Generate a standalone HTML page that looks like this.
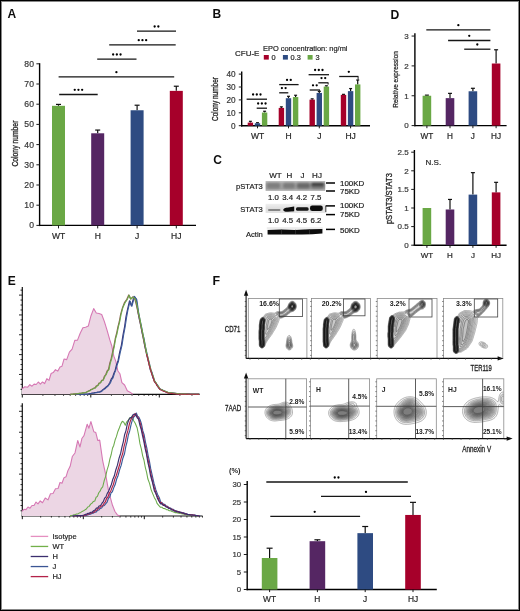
<!DOCTYPE html>
<html><head><meta charset="utf-8"><style>
html,body{margin:0;padding:0;background:#fff;}
.fig{position:relative;width:520px;height:611px;overflow:hidden;}
svg{display:block;}
svg text{font-family:"Liberation Sans", sans-serif;}
</style></head><body><div class="fig">
<svg width="520" height="611" viewBox="0 0 520 611">
<defs><filter id="gblur" x="0" y="0" width="100%" height="100%"><feGaussianBlur stdDeviation="0.32"/></filter></defs>
<rect x="0" y="0" width="520" height="611" fill="#fff"/>
<g filter="url(#gblur)">
<rect x="0" y="0" width="520" height="611" fill="#fff"/>
<text x="7.40" y="17.60" font-size="12" font-weight="bold" fill="#111" >A</text>
<line x1="39.60" y1="63.20" x2="39.60" y2="226.10" stroke="#000" stroke-width="1.4"/>
<line x1="38.90" y1="225.40" x2="196.00" y2="225.40" stroke="#000" stroke-width="1.4"/>
<line x1="36.40" y1="225.40" x2="39.60" y2="225.40" stroke="#1a1a1a" stroke-width="1"/>
<text x="34.50" y="228.40" font-size="8.6" text-anchor="end" fill="#383838" stroke="#383838" stroke-width="0.2" letter-spacing="0.35">0</text>
<line x1="36.40" y1="205.20" x2="39.60" y2="205.20" stroke="#1a1a1a" stroke-width="1"/>
<text x="34.50" y="208.20" font-size="8.6" text-anchor="end" fill="#383838" stroke="#383838" stroke-width="0.2" letter-spacing="0.35">10</text>
<line x1="36.40" y1="185.00" x2="39.60" y2="185.00" stroke="#1a1a1a" stroke-width="1"/>
<text x="34.50" y="188.00" font-size="8.6" text-anchor="end" fill="#383838" stroke="#383838" stroke-width="0.2" letter-spacing="0.35">20</text>
<line x1="36.40" y1="164.80" x2="39.60" y2="164.80" stroke="#1a1a1a" stroke-width="1"/>
<text x="34.50" y="167.80" font-size="8.6" text-anchor="end" fill="#383838" stroke="#383838" stroke-width="0.2" letter-spacing="0.35">30</text>
<line x1="36.40" y1="144.60" x2="39.60" y2="144.60" stroke="#1a1a1a" stroke-width="1"/>
<text x="34.50" y="147.60" font-size="8.6" text-anchor="end" fill="#383838" stroke="#383838" stroke-width="0.2" letter-spacing="0.35">40</text>
<line x1="36.40" y1="124.40" x2="39.60" y2="124.40" stroke="#1a1a1a" stroke-width="1"/>
<text x="34.50" y="127.40" font-size="8.6" text-anchor="end" fill="#383838" stroke="#383838" stroke-width="0.2" letter-spacing="0.35">50</text>
<line x1="36.40" y1="104.20" x2="39.60" y2="104.20" stroke="#1a1a1a" stroke-width="1"/>
<text x="34.50" y="107.20" font-size="8.6" text-anchor="end" fill="#383838" stroke="#383838" stroke-width="0.2" letter-spacing="0.35">60</text>
<line x1="36.40" y1="84.00" x2="39.60" y2="84.00" stroke="#1a1a1a" stroke-width="1"/>
<text x="34.50" y="87.00" font-size="8.6" text-anchor="end" fill="#383838" stroke="#383838" stroke-width="0.2" letter-spacing="0.35">70</text>
<line x1="36.40" y1="63.80" x2="39.60" y2="63.80" stroke="#1a1a1a" stroke-width="1"/>
<text x="34.50" y="66.80" font-size="8.6" text-anchor="end" fill="#383838" stroke="#383838" stroke-width="0.2" letter-spacing="0.35">80</text>
<line x1="58.50" y1="105.82" x2="58.50" y2="104.40" stroke="#111" stroke-width="1.2"/>
<line x1="56.00" y1="104.40" x2="61.00" y2="104.40" stroke="#111" stroke-width="1.2"/>
<rect x="52.00" y="105.82" width="13.00" height="119.58" fill="#6aa845" />
<line x1="58.50" y1="225.40" x2="58.50" y2="228.40" stroke="#1a1a1a" stroke-width="1"/>
<line x1="97.70" y1="133.29" x2="97.70" y2="130.06" stroke="#111" stroke-width="1.2"/>
<line x1="95.20" y1="130.06" x2="100.20" y2="130.06" stroke="#111" stroke-width="1.2"/>
<rect x="91.20" y="133.29" width="13.00" height="92.11" fill="#542664" />
<line x1="97.70" y1="225.40" x2="97.70" y2="228.40" stroke="#1a1a1a" stroke-width="1"/>
<line x1="137.10" y1="110.26" x2="137.10" y2="105.21" stroke="#111" stroke-width="1.2"/>
<line x1="134.60" y1="105.21" x2="139.60" y2="105.21" stroke="#111" stroke-width="1.2"/>
<rect x="130.60" y="110.26" width="13.00" height="115.14" fill="#2d4c82" />
<line x1="137.10" y1="225.40" x2="137.10" y2="228.40" stroke="#1a1a1a" stroke-width="1"/>
<line x1="176.30" y1="90.87" x2="176.30" y2="86.22" stroke="#111" stroke-width="1.2"/>
<line x1="173.80" y1="86.22" x2="178.80" y2="86.22" stroke="#111" stroke-width="1.2"/>
<rect x="169.80" y="90.87" width="13.00" height="134.53" fill="#a6022a" />
<line x1="176.30" y1="225.40" x2="176.30" y2="228.40" stroke="#1a1a1a" stroke-width="1"/>
<text x="58.50" y="239.00" font-size="8.5" text-anchor="middle" fill="#262626" stroke="#262626" stroke-width="0.2" >WT</text>
<text x="97.70" y="239.00" font-size="8.5" text-anchor="middle" fill="#262626" stroke="#262626" stroke-width="0.2" >H</text>
<text x="137.10" y="239.00" font-size="8.5" text-anchor="middle" fill="#262626" stroke="#262626" stroke-width="0.2" >J</text>
<text x="176.30" y="239.00" font-size="8.5" text-anchor="middle" fill="#262626" stroke="#262626" stroke-width="0.2" >HJ</text>
<text x="17.60" y="143.60" font-size="8.8" text-anchor="middle" textLength="46" lengthAdjust="spacingAndGlyphs" transform="rotate(-90 17.60 143.60)" fill="#262626" stroke="#262626" stroke-width="0.3" >Colony number</text>
<line x1="137.00" y1="31.20" x2="176.00" y2="31.20" stroke="#151515" stroke-width="1.3"/>
<circle cx="154.65" cy="26.50" r="1.15" fill="#000"/>
<circle cx="158.35" cy="26.50" r="1.15" fill="#000"/>
<line x1="109.20" y1="44.90" x2="175.70" y2="44.90" stroke="#151515" stroke-width="1.3"/>
<circle cx="138.75" cy="40.20" r="1.15" fill="#000"/>
<circle cx="142.45" cy="40.20" r="1.15" fill="#000"/>
<circle cx="146.15" cy="40.20" r="1.15" fill="#000"/>
<line x1="97.20" y1="59.20" x2="136.50" y2="59.20" stroke="#151515" stroke-width="1.3"/>
<circle cx="113.15" cy="54.50" r="1.15" fill="#000"/>
<circle cx="116.85" cy="54.50" r="1.15" fill="#000"/>
<circle cx="120.55" cy="54.50" r="1.15" fill="#000"/>
<line x1="58.60" y1="76.90" x2="174.20" y2="76.90" stroke="#151515" stroke-width="1.3"/>
<circle cx="116.40" cy="72.20" r="1.15" fill="#000"/>
<line x1="59.20" y1="94.50" x2="97.70" y2="94.50" stroke="#151515" stroke-width="1.3"/>
<circle cx="74.75" cy="89.80" r="1.15" fill="#000"/>
<circle cx="78.45" cy="89.80" r="1.15" fill="#000"/>
<circle cx="82.15" cy="89.80" r="1.15" fill="#000"/>
<text x="212.40" y="17.70" font-size="12" font-weight="bold" fill="#111" >B</text>
<text x="235.00" y="55.60" font-size="8.0" fill="#262626" stroke="#262626" stroke-width="0.2" >CFU-E</text>
<text x="263.00" y="50.80" font-size="7.4" textLength="84.5" lengthAdjust="spacingAndGlyphs" fill="#262626" stroke="#262626" stroke-width="0.2" >EPO concentration: ng/ml</text>
<rect x="263.80" y="55.00" width="5.00" height="4.60" fill="#a6022a" />
<text x="271.60" y="59.60" font-size="7.4" fill="#262626" stroke="#262626" stroke-width="0.2" >0</text>
<rect x="282.90" y="55.00" width="5.00" height="4.60" fill="#2d4c82" />
<text x="290.60" y="59.60" font-size="7.4" fill="#262626" stroke="#262626" stroke-width="0.2" >0.3</text>
<rect x="307.60" y="55.00" width="5.00" height="4.60" fill="#6aa845" />
<text x="315.60" y="59.60" font-size="7.4" fill="#262626" stroke="#262626" stroke-width="0.2" >3</text>
<line x1="241.70" y1="71.50" x2="241.70" y2="126.40" stroke="#000" stroke-width="1.4"/>
<line x1="241.00" y1="125.70" x2="370.00" y2="125.70" stroke="#000" stroke-width="1.4"/>
<line x1="238.80" y1="125.70" x2="241.70" y2="125.70" stroke="#1a1a1a" stroke-width="1"/>
<text x="235.60" y="128.60" font-size="8.2" text-anchor="end" fill="#383838" stroke="#383838" stroke-width="0.2" >0</text>
<line x1="238.80" y1="112.80" x2="241.70" y2="112.80" stroke="#1a1a1a" stroke-width="1"/>
<text x="235.60" y="115.70" font-size="8.2" text-anchor="end" fill="#383838" stroke="#383838" stroke-width="0.2" >10</text>
<line x1="238.80" y1="99.90" x2="241.70" y2="99.90" stroke="#1a1a1a" stroke-width="1"/>
<text x="235.60" y="102.80" font-size="8.2" text-anchor="end" fill="#383838" stroke="#383838" stroke-width="0.2" >20</text>
<line x1="238.80" y1="87.00" x2="241.70" y2="87.00" stroke="#1a1a1a" stroke-width="1"/>
<text x="235.60" y="89.90" font-size="8.2" text-anchor="end" fill="#383838" stroke="#383838" stroke-width="0.2" >30</text>
<line x1="238.80" y1="74.10" x2="241.70" y2="74.10" stroke="#1a1a1a" stroke-width="1"/>
<text x="235.60" y="77.00" font-size="8.2" text-anchor="end" fill="#383838" stroke="#383838" stroke-width="0.2" >40</text>
<text x="218.00" y="99.00" font-size="8.4" text-anchor="middle" textLength="44" lengthAdjust="spacingAndGlyphs" transform="rotate(-90 218.00 99.00)" fill="#262626" stroke="#262626" stroke-width="0.3" >Colony number</text>
<line x1="250.40" y1="122.60" x2="250.40" y2="121.31" stroke="#111" stroke-width="1.2"/>
<line x1="248.90" y1="121.31" x2="251.90" y2="121.31" stroke="#111" stroke-width="1.2"/>
<rect x="247.70" y="122.60" width="5.40" height="3.10" fill="#a6022a" />
<line x1="257.50" y1="123.25" x2="257.50" y2="122.73" stroke="#111" stroke-width="1.2"/>
<line x1="256.00" y1="122.73" x2="259.00" y2="122.73" stroke="#111" stroke-width="1.2"/>
<rect x="254.80" y="123.25" width="5.40" height="2.45" fill="#2d4c82" />
<line x1="264.60" y1="112.54" x2="264.60" y2="111.25" stroke="#111" stroke-width="1.2"/>
<line x1="263.10" y1="111.25" x2="266.10" y2="111.25" stroke="#111" stroke-width="1.2"/>
<rect x="261.90" y="112.54" width="5.40" height="13.16" fill="#6aa845" />
<line x1="257.50" y1="125.70" x2="257.50" y2="128.30" stroke="#1a1a1a" stroke-width="1"/>
<text x="257.50" y="138.70" font-size="8.5" text-anchor="middle" fill="#262626" stroke="#262626" stroke-width="0.2" >WT</text>
<line x1="281.40" y1="107.90" x2="281.40" y2="106.87" stroke="#111" stroke-width="1.2"/>
<line x1="279.90" y1="106.87" x2="282.90" y2="106.87" stroke="#111" stroke-width="1.2"/>
<rect x="278.70" y="107.90" width="5.40" height="17.80" fill="#a6022a" />
<line x1="288.50" y1="98.22" x2="288.50" y2="96.29" stroke="#111" stroke-width="1.2"/>
<line x1="287.00" y1="96.29" x2="290.00" y2="96.29" stroke="#111" stroke-width="1.2"/>
<rect x="285.80" y="98.22" width="5.40" height="27.48" fill="#2d4c82" />
<line x1="295.60" y1="97.06" x2="295.60" y2="95.26" stroke="#111" stroke-width="1.2"/>
<line x1="294.10" y1="95.26" x2="297.10" y2="95.26" stroke="#111" stroke-width="1.2"/>
<rect x="292.90" y="97.06" width="5.40" height="28.64" fill="#6aa845" />
<line x1="288.50" y1="125.70" x2="288.50" y2="128.30" stroke="#1a1a1a" stroke-width="1"/>
<text x="288.50" y="138.70" font-size="8.5" text-anchor="middle" fill="#262626" stroke="#262626" stroke-width="0.2" >H</text>
<line x1="312.20" y1="99.64" x2="312.20" y2="98.87" stroke="#111" stroke-width="1.2"/>
<line x1="310.70" y1="98.87" x2="313.70" y2="98.87" stroke="#111" stroke-width="1.2"/>
<rect x="309.50" y="99.64" width="5.40" height="26.06" fill="#a6022a" />
<line x1="319.30" y1="92.93" x2="319.30" y2="91.39" stroke="#111" stroke-width="1.2"/>
<line x1="317.80" y1="91.39" x2="320.80" y2="91.39" stroke="#111" stroke-width="1.2"/>
<rect x="316.60" y="92.93" width="5.40" height="32.77" fill="#2d4c82" />
<line x1="326.40" y1="86.61" x2="326.40" y2="85.84" stroke="#111" stroke-width="1.2"/>
<line x1="324.90" y1="85.84" x2="327.90" y2="85.84" stroke="#111" stroke-width="1.2"/>
<rect x="323.70" y="86.61" width="5.40" height="39.09" fill="#6aa845" />
<line x1="319.30" y1="125.70" x2="319.30" y2="128.30" stroke="#1a1a1a" stroke-width="1"/>
<text x="319.30" y="138.70" font-size="8.5" text-anchor="middle" fill="#262626" stroke="#262626" stroke-width="0.2" >J</text>
<line x1="343.50" y1="94.87" x2="343.50" y2="94.35" stroke="#111" stroke-width="1.2"/>
<line x1="342.00" y1="94.35" x2="345.00" y2="94.35" stroke="#111" stroke-width="1.2"/>
<rect x="340.80" y="94.87" width="5.40" height="30.83" fill="#a6022a" />
<line x1="350.60" y1="91.13" x2="350.60" y2="88.55" stroke="#111" stroke-width="1.2"/>
<line x1="349.10" y1="88.55" x2="352.10" y2="88.55" stroke="#111" stroke-width="1.2"/>
<rect x="347.90" y="91.13" width="5.40" height="34.57" fill="#2d4c82" />
<line x1="357.70" y1="84.42" x2="357.70" y2="80.03" stroke="#111" stroke-width="1.2"/>
<line x1="356.20" y1="80.03" x2="359.20" y2="80.03" stroke="#111" stroke-width="1.2"/>
<rect x="355.00" y="84.42" width="5.40" height="41.28" fill="#6aa845" />
<line x1="350.60" y1="125.70" x2="350.60" y2="128.30" stroke="#1a1a1a" stroke-width="1"/>
<text x="350.60" y="138.70" font-size="8.5" text-anchor="middle" fill="#262626" stroke="#262626" stroke-width="0.2" >HJ</text>
<line x1="246.60" y1="99.20" x2="267.00" y2="99.20" stroke="#151515" stroke-width="1.3"/>
<circle cx="253.10" cy="94.50" r="1.15" fill="#000"/>
<circle cx="256.80" cy="94.50" r="1.15" fill="#000"/>
<circle cx="260.50" cy="94.50" r="1.15" fill="#000"/>
<line x1="256.70" y1="108.20" x2="267.00" y2="108.20" stroke="#151515" stroke-width="1.3"/>
<circle cx="258.15" cy="103.50" r="1.15" fill="#000"/>
<circle cx="261.85" cy="103.50" r="1.15" fill="#000"/>
<circle cx="265.55" cy="103.50" r="1.15" fill="#000"/>
<line x1="279.20" y1="84.60" x2="298.60" y2="84.60" stroke="#151515" stroke-width="1.3"/>
<circle cx="287.05" cy="79.90" r="1.15" fill="#000"/>
<circle cx="290.75" cy="79.90" r="1.15" fill="#000"/>
<line x1="279.20" y1="92.80" x2="288.30" y2="92.80" stroke="#151515" stroke-width="1.3"/>
<circle cx="281.90" cy="88.10" r="1.15" fill="#000"/>
<circle cx="285.60" cy="88.10" r="1.15" fill="#000"/>
<line x1="308.60" y1="74.70" x2="329.00" y2="74.70" stroke="#151515" stroke-width="1.3"/>
<circle cx="315.10" cy="70.00" r="1.15" fill="#000"/>
<circle cx="318.80" cy="70.00" r="1.15" fill="#000"/>
<circle cx="322.50" cy="70.00" r="1.15" fill="#000"/>
<line x1="318.30" y1="82.80" x2="328.40" y2="82.80" stroke="#151515" stroke-width="1.3"/>
<line x1="328.10" y1="82.80" x2="328.10" y2="84.60" stroke="#222" stroke-width="1.0"/>
<circle cx="321.50" cy="78.10" r="1.15" fill="#000"/>
<circle cx="325.20" cy="78.10" r="1.15" fill="#000"/>
<line x1="309.70" y1="90.00" x2="320.00" y2="90.00" stroke="#151515" stroke-width="1.3"/>
<line x1="319.70" y1="90.00" x2="319.70" y2="91.80" stroke="#222" stroke-width="1.0"/>
<circle cx="313.00" cy="85.30" r="1.15" fill="#000"/>
<circle cx="316.70" cy="85.30" r="1.15" fill="#000"/>
<line x1="339.20" y1="76.50" x2="358.40" y2="76.50" stroke="#151515" stroke-width="1.3"/>
<line x1="358.10" y1="76.50" x2="358.10" y2="79.70" stroke="#222" stroke-width="1.0"/>
<circle cx="348.80" cy="71.80" r="1.15" fill="#000"/>
<text x="390.40" y="19.00" font-size="12" font-weight="bold" textLength="8.8" lengthAdjust="spacingAndGlyphs" fill="#111" >D</text>
<line x1="414.90" y1="33.20" x2="414.90" y2="126.30" stroke="#000" stroke-width="1.4"/>
<line x1="414.20" y1="125.60" x2="506.60" y2="125.60" stroke="#000" stroke-width="1.4"/>
<line x1="411.60" y1="125.60" x2="414.90" y2="125.60" stroke="#1a1a1a" stroke-width="1"/>
<text x="408.80" y="128.40" font-size="8" text-anchor="end" fill="#383838" stroke="#383838" stroke-width="0.2" >0</text>
<line x1="411.60" y1="95.75" x2="414.90" y2="95.75" stroke="#1a1a1a" stroke-width="1"/>
<text x="408.80" y="98.55" font-size="8" text-anchor="end" fill="#383838" stroke="#383838" stroke-width="0.2" >1</text>
<line x1="411.60" y1="65.90" x2="414.90" y2="65.90" stroke="#1a1a1a" stroke-width="1"/>
<text x="408.80" y="68.70" font-size="8" text-anchor="end" fill="#383838" stroke="#383838" stroke-width="0.2" >2</text>
<line x1="411.60" y1="36.05" x2="414.90" y2="36.05" stroke="#1a1a1a" stroke-width="1"/>
<text x="408.80" y="38.85" font-size="8" text-anchor="end" fill="#383838" stroke="#383838" stroke-width="0.2" >3</text>
<text x="397.60" y="79.40" font-size="7.8" text-anchor="middle" textLength="56.5" lengthAdjust="spacingAndGlyphs" transform="rotate(-90 397.60 79.40)" fill="#262626" stroke="#262626" stroke-width="0.25" >Relative expression</text>
<line x1="426.90" y1="95.75" x2="426.90" y2="95.15" stroke="#111" stroke-width="1.2"/>
<line x1="424.90" y1="95.15" x2="428.90" y2="95.15" stroke="#111" stroke-width="1.2"/>
<rect x="422.60" y="95.75" width="8.60" height="29.85" fill="#6aa845" />
<line x1="426.90" y1="125.60" x2="426.90" y2="128.20" stroke="#1a1a1a" stroke-width="1"/>
<line x1="450.00" y1="98.14" x2="450.00" y2="93.36" stroke="#111" stroke-width="1.2"/>
<line x1="448.00" y1="93.36" x2="452.00" y2="93.36" stroke="#111" stroke-width="1.2"/>
<rect x="445.70" y="98.14" width="8.60" height="27.46" fill="#542664" />
<line x1="450.00" y1="125.60" x2="450.00" y2="128.20" stroke="#1a1a1a" stroke-width="1"/>
<line x1="472.90" y1="91.27" x2="472.90" y2="88.29" stroke="#111" stroke-width="1.2"/>
<line x1="470.90" y1="88.29" x2="474.90" y2="88.29" stroke="#111" stroke-width="1.2"/>
<rect x="468.60" y="91.27" width="8.60" height="34.33" fill="#2d4c82" />
<line x1="472.90" y1="125.60" x2="472.90" y2="128.20" stroke="#1a1a1a" stroke-width="1"/>
<line x1="496.10" y1="63.51" x2="496.10" y2="49.78" stroke="#111" stroke-width="1.2"/>
<line x1="494.10" y1="49.78" x2="498.10" y2="49.78" stroke="#111" stroke-width="1.2"/>
<rect x="491.80" y="63.51" width="8.60" height="62.09" fill="#a6022a" />
<line x1="496.10" y1="125.60" x2="496.10" y2="128.20" stroke="#1a1a1a" stroke-width="1"/>
<text x="426.90" y="138.60" font-size="8.2" text-anchor="middle" fill="#262626" stroke="#262626" stroke-width="0.2" >WT</text>
<text x="450.00" y="138.60" font-size="8.2" text-anchor="middle" fill="#262626" stroke="#262626" stroke-width="0.2" >H</text>
<text x="472.90" y="138.60" font-size="8.2" text-anchor="middle" fill="#262626" stroke="#262626" stroke-width="0.2" >J</text>
<text x="496.10" y="138.60" font-size="8.2" text-anchor="middle" fill="#262626" stroke="#262626" stroke-width="0.2" >HJ</text>
<line x1="426.30" y1="29.90" x2="490.40" y2="29.90" stroke="#151515" stroke-width="1.3"/>
<circle cx="458.35" cy="25.20" r="1.15" fill="#000"/>
<line x1="448.10" y1="40.50" x2="490.40" y2="40.50" stroke="#151515" stroke-width="1.3"/>
<circle cx="469.25" cy="35.80" r="1.15" fill="#000"/>
<line x1="464.20" y1="49.20" x2="490.40" y2="49.20" stroke="#151515" stroke-width="1.3"/>
<circle cx="477.30" cy="44.50" r="1.15" fill="#000"/>
<line x1="414.40" y1="150.00" x2="414.40" y2="245.90" stroke="#000" stroke-width="1.4"/>
<line x1="413.70" y1="245.20" x2="506.60" y2="245.20" stroke="#000" stroke-width="1.4"/>
<line x1="411.20" y1="245.20" x2="414.40" y2="245.20" stroke="#1a1a1a" stroke-width="1"/>
<text x="408.60" y="248.00" font-size="8" text-anchor="end" fill="#383838" stroke="#383838" stroke-width="0.2" >0</text>
<line x1="411.20" y1="226.60" x2="414.40" y2="226.60" stroke="#1a1a1a" stroke-width="1"/>
<text x="408.60" y="229.40" font-size="8" text-anchor="end" fill="#383838" stroke="#383838" stroke-width="0.2" >0.5</text>
<line x1="411.20" y1="208.00" x2="414.40" y2="208.00" stroke="#1a1a1a" stroke-width="1"/>
<text x="408.60" y="210.80" font-size="8" text-anchor="end" fill="#383838" stroke="#383838" stroke-width="0.2" >1</text>
<line x1="411.20" y1="189.40" x2="414.40" y2="189.40" stroke="#1a1a1a" stroke-width="1"/>
<text x="408.60" y="192.20" font-size="8" text-anchor="end" fill="#383838" stroke="#383838" stroke-width="0.2" >1.5</text>
<line x1="411.20" y1="170.80" x2="414.40" y2="170.80" stroke="#1a1a1a" stroke-width="1"/>
<text x="408.60" y="173.60" font-size="8" text-anchor="end" fill="#383838" stroke="#383838" stroke-width="0.2" >2</text>
<line x1="411.20" y1="152.20" x2="414.40" y2="152.20" stroke="#1a1a1a" stroke-width="1"/>
<text x="408.60" y="155.00" font-size="8" text-anchor="end" fill="#383838" stroke="#383838" stroke-width="0.2" >2.5</text>
<text x="392.00" y="198.60" font-size="8.2" text-anchor="middle" textLength="51" lengthAdjust="spacingAndGlyphs" transform="rotate(-90 392.00 198.60)" fill="#262626" stroke="#262626" stroke-width="0.3" >pSTAT3/STAT3</text>
<text x="425.60" y="165.20" font-size="8" fill="#262626" stroke="#262626" stroke-width="0.2" >N.S.</text>
<rect x="422.60" y="208.00" width="8.60" height="37.20" fill="#6aa845" />
<line x1="426.90" y1="245.20" x2="426.90" y2="247.80" stroke="#1a1a1a" stroke-width="1"/>
<line x1="450.00" y1="209.49" x2="450.00" y2="199.44" stroke="#111" stroke-width="1.2"/>
<line x1="448.00" y1="199.44" x2="452.00" y2="199.44" stroke="#111" stroke-width="1.2"/>
<rect x="445.70" y="209.49" width="8.60" height="35.71" fill="#542664" />
<line x1="450.00" y1="245.20" x2="450.00" y2="247.80" stroke="#1a1a1a" stroke-width="1"/>
<line x1="472.90" y1="194.61" x2="472.90" y2="172.66" stroke="#111" stroke-width="1.2"/>
<line x1="470.90" y1="172.66" x2="474.90" y2="172.66" stroke="#111" stroke-width="1.2"/>
<rect x="468.60" y="194.61" width="8.60" height="50.59" fill="#2d4c82" />
<line x1="472.90" y1="245.20" x2="472.90" y2="247.80" stroke="#1a1a1a" stroke-width="1"/>
<line x1="496.10" y1="192.38" x2="496.10" y2="182.33" stroke="#111" stroke-width="1.2"/>
<line x1="494.10" y1="182.33" x2="498.10" y2="182.33" stroke="#111" stroke-width="1.2"/>
<rect x="491.80" y="192.38" width="8.60" height="52.82" fill="#a6022a" />
<line x1="496.10" y1="245.20" x2="496.10" y2="247.80" stroke="#1a1a1a" stroke-width="1"/>
<text x="426.90" y="258.00" font-size="8" text-anchor="middle" fill="#262626" stroke="#262626" stroke-width="0.2" >WT</text>
<text x="450.00" y="258.00" font-size="8" text-anchor="middle" fill="#262626" stroke="#262626" stroke-width="0.2" >H</text>
<text x="472.90" y="258.00" font-size="8" text-anchor="middle" fill="#262626" stroke="#262626" stroke-width="0.2" >J</text>
<text x="496.10" y="258.00" font-size="8" text-anchor="middle" fill="#262626" stroke="#262626" stroke-width="0.2" >HJ</text>
<line x1="247.20" y1="481.00" x2="247.20" y2="590.20" stroke="#000" stroke-width="1.4"/>
<line x1="246.50" y1="589.50" x2="436.80" y2="589.50" stroke="#000" stroke-width="1.4"/>
<line x1="243.80" y1="589.50" x2="247.20" y2="589.50" stroke="#1a1a1a" stroke-width="1"/>
<text x="241.20" y="592.30" font-size="7.8" text-anchor="end" fill="#383838" stroke="#383838" stroke-width="0.2" >0</text>
<line x1="243.80" y1="572.00" x2="247.20" y2="572.00" stroke="#1a1a1a" stroke-width="1"/>
<text x="241.20" y="574.80" font-size="7.8" text-anchor="end" fill="#383838" stroke="#383838" stroke-width="0.2" >5</text>
<line x1="243.80" y1="554.50" x2="247.20" y2="554.50" stroke="#1a1a1a" stroke-width="1"/>
<text x="241.20" y="557.30" font-size="7.8" text-anchor="end" fill="#383838" stroke="#383838" stroke-width="0.2" >10</text>
<line x1="243.80" y1="537.00" x2="247.20" y2="537.00" stroke="#1a1a1a" stroke-width="1"/>
<text x="241.20" y="539.80" font-size="7.8" text-anchor="end" fill="#383838" stroke="#383838" stroke-width="0.2" >15</text>
<line x1="243.80" y1="519.50" x2="247.20" y2="519.50" stroke="#1a1a1a" stroke-width="1"/>
<text x="241.20" y="522.30" font-size="7.8" text-anchor="end" fill="#383838" stroke="#383838" stroke-width="0.2" >20</text>
<line x1="243.80" y1="502.00" x2="247.20" y2="502.00" stroke="#1a1a1a" stroke-width="1"/>
<text x="241.20" y="504.80" font-size="7.8" text-anchor="end" fill="#383838" stroke="#383838" stroke-width="0.2" >25</text>
<line x1="243.80" y1="484.50" x2="247.20" y2="484.50" stroke="#1a1a1a" stroke-width="1"/>
<text x="241.20" y="487.30" font-size="7.8" text-anchor="end" fill="#383838" stroke="#383838" stroke-width="0.2" >30</text>
<text x="229.00" y="473.40" font-size="7.4" font-weight="bold" fill="#262626" >(%)</text>
<line x1="269.60" y1="558.00" x2="269.60" y2="548.20" stroke="#111" stroke-width="1.2"/>
<line x1="266.60" y1="548.20" x2="272.60" y2="548.20" stroke="#111" stroke-width="1.2"/>
<rect x="261.80" y="558.00" width="15.60" height="31.50" fill="#6aa845" />
<line x1="269.60" y1="589.50" x2="269.60" y2="592.10" stroke="#1a1a1a" stroke-width="1"/>
<line x1="317.40" y1="541.20" x2="317.40" y2="539.80" stroke="#111" stroke-width="1.2"/>
<line x1="314.40" y1="539.80" x2="320.40" y2="539.80" stroke="#111" stroke-width="1.2"/>
<rect x="309.60" y="541.20" width="15.60" height="48.30" fill="#542664" />
<line x1="317.40" y1="589.50" x2="317.40" y2="592.10" stroke="#1a1a1a" stroke-width="1"/>
<line x1="365.20" y1="533.15" x2="365.20" y2="526.50" stroke="#111" stroke-width="1.2"/>
<line x1="362.20" y1="526.50" x2="368.20" y2="526.50" stroke="#111" stroke-width="1.2"/>
<rect x="357.40" y="533.15" width="15.60" height="56.35" fill="#2d4c82" />
<line x1="365.20" y1="589.50" x2="365.20" y2="592.10" stroke="#1a1a1a" stroke-width="1"/>
<line x1="413.00" y1="514.95" x2="413.00" y2="502.35" stroke="#111" stroke-width="1.2"/>
<line x1="410.00" y1="502.35" x2="416.00" y2="502.35" stroke="#111" stroke-width="1.2"/>
<rect x="405.20" y="514.95" width="15.60" height="74.55" fill="#a6022a" />
<line x1="413.00" y1="589.50" x2="413.00" y2="592.10" stroke="#1a1a1a" stroke-width="1"/>
<text x="269.60" y="602.00" font-size="8.4" text-anchor="middle" fill="#262626" stroke="#262626" stroke-width="0.2" >WT</text>
<text x="317.40" y="602.00" font-size="8.4" text-anchor="middle" fill="#262626" stroke="#262626" stroke-width="0.2" >H</text>
<text x="365.20" y="602.00" font-size="8.4" text-anchor="middle" fill="#262626" stroke="#262626" stroke-width="0.2" >J</text>
<text x="413.00" y="602.00" font-size="8.4" text-anchor="middle" fill="#262626" stroke="#262626" stroke-width="0.2" >HJ</text>
<line x1="266.30" y1="482.00" x2="407.80" y2="482.00" stroke="#151515" stroke-width="1.3"/>
<circle cx="334.75" cy="477.50" r="1.15" fill="#000"/>
<circle cx="338.45" cy="477.50" r="1.15" fill="#000"/>
<line x1="321.00" y1="496.40" x2="411.00" y2="496.40" stroke="#151515" stroke-width="1.3"/>
<circle cx="366.00" cy="491.90" r="1.15" fill="#000"/>
<line x1="270.30" y1="516.30" x2="360.10" y2="516.30" stroke="#151515" stroke-width="1.3"/>
<circle cx="314.70" cy="511.80" r="1.15" fill="#000"/>
<text x="7.80" y="284.60" font-size="12" font-weight="bold" fill="#111" >E</text>
<line x1="30.70" y1="536.40" x2="48.20" y2="536.40" stroke="#e58fc0" stroke-width="1.3"/>
<text x="52.40" y="539.10" font-size="7.5" fill="#262626" stroke="#262626" stroke-width="0.2" >Isotype</text>
<line x1="30.70" y1="546.45" x2="48.20" y2="546.45" stroke="#72b04a" stroke-width="1.3"/>
<text x="52.40" y="549.15" font-size="7.5" fill="#262626" stroke="#262626" stroke-width="0.2" >WT</text>
<line x1="30.70" y1="556.50" x2="48.20" y2="556.50" stroke="#3a2f6e" stroke-width="1.3"/>
<text x="52.40" y="559.20" font-size="7.5" fill="#262626" stroke="#262626" stroke-width="0.2" >H</text>
<line x1="30.70" y1="566.55" x2="48.20" y2="566.55" stroke="#3b5594" stroke-width="1.3"/>
<text x="52.40" y="569.25" font-size="7.5" fill="#262626" stroke="#262626" stroke-width="0.2" >J</text>
<line x1="30.70" y1="576.60" x2="48.20" y2="576.60" stroke="#b32448" stroke-width="1.3"/>
<text x="52.40" y="579.30" font-size="7.5" fill="#262626" stroke="#262626" stroke-width="0.2" >HJ</text>
<text x="212.40" y="284.80" font-size="12" font-weight="bold" textLength="7.6" lengthAdjust="spacingAndGlyphs" fill="#111" >F</text>
<text x="213.20" y="164.20" font-size="12" font-weight="bold" fill="#111" >C</text>
<text x="275.50" y="178.40" font-size="8" text-anchor="middle" fill="#222" stroke="#222" stroke-width="0.2" >WT</text>
<text x="289.40" y="178.40" font-size="8" text-anchor="middle" fill="#222" stroke="#222" stroke-width="0.2" >H</text>
<text x="302.60" y="178.40" font-size="8" text-anchor="middle" fill="#222" stroke="#222" stroke-width="0.2" >J</text>
<text x="317.00" y="178.40" font-size="8" text-anchor="middle" fill="#222" stroke="#222" stroke-width="0.2" >HJ</text>
<text x="262.80" y="188.60" font-size="7.6" text-anchor="end" fill="#222" stroke="#222" stroke-width="0.2" >pSTAT3</text>
<text x="262.80" y="211.90" font-size="7.6" text-anchor="end" fill="#222" stroke="#222" stroke-width="0.2" >STAT3</text>
<text x="262.80" y="236.60" font-size="7.6" text-anchor="end" fill="#222" stroke="#222" stroke-width="0.2" >Actin</text>
<text x="273.30" y="199.90" font-size="7.8" text-anchor="middle" fill="#222" stroke="#222" stroke-width="0.2" >1.0</text>
<text x="287.70" y="199.90" font-size="7.8" text-anchor="middle" fill="#222" stroke="#222" stroke-width="0.2" >3.4</text>
<text x="301.70" y="199.90" font-size="7.8" text-anchor="middle" fill="#222" stroke="#222" stroke-width="0.2" >4.2</text>
<text x="316.00" y="199.90" font-size="7.8" text-anchor="middle" fill="#222" stroke="#222" stroke-width="0.2" >7.5</text>
<text x="273.30" y="222.60" font-size="7.8" text-anchor="middle" fill="#222" stroke="#222" stroke-width="0.2" >1.0</text>
<text x="287.70" y="222.60" font-size="7.8" text-anchor="middle" fill="#222" stroke="#222" stroke-width="0.2" >4.5</text>
<text x="301.70" y="222.60" font-size="7.8" text-anchor="middle" fill="#222" stroke="#222" stroke-width="0.2" >4.5</text>
<text x="316.00" y="222.60" font-size="7.8" text-anchor="middle" fill="#222" stroke="#222" stroke-width="0.2" >6.2</text>
<defs><filter id="bl1" x="-20%" y="-50%" width="140%" height="200%"><feGaussianBlur stdDeviation="0.9"/></filter><filter id="bl2" x="-20%" y="-50%" width="140%" height="200%"><feGaussianBlur stdDeviation="0.6"/></filter><filter id="bl3" x="-10%" y="-10%" width="120%" height="120%"><feGaussianBlur stdDeviation="0.45"/></filter><linearGradient id="gp" x1="0" y1="0" x2="0" y2="1"><stop offset="0" stop-color="#c4c4c4"/><stop offset="0.25" stop-color="#a6a6a6"/><stop offset="0.75" stop-color="#a0a0a0"/><stop offset="1" stop-color="#c0c0c0"/></linearGradient><linearGradient id="gs" x1="0" y1="0" x2="0" y2="1"><stop offset="0" stop-color="#f0f0f0"/><stop offset="0.5" stop-color="#dedede"/><stop offset="1" stop-color="#e4e4e4"/></linearGradient></defs>
<rect x="265.60" y="181.00" width="59.60" height="10.00" fill="url(#gp)" />
<g filter="url(#bl1)">
<rect x="266.80" y="183.00" width="13.40" height="5.60" fill="#7e7e7e" rx="2"/>
<rect x="283.00" y="183.00" width="12.00" height="5.60" fill="#7c7c7c" rx="2"/>
<rect x="296.80" y="183.00" width="13.20" height="5.60" fill="#6a6a6a" rx="2"/>
<rect x="311.00" y="183.00" width="13.20" height="5.60" fill="#6e6e6e" rx="2"/>
<rect x="311.50" y="183.20" width="12.50" height="2.40" fill="#2a2a2a" rx="1"/>
</g>
<rect x="265.60" y="203.80" width="59.40" height="9.20" fill="url(#gs)" />
<g filter="url(#bl2)">
<rect x="268.00" y="209.00" width="12.50" height="2.00" fill="#858585" rx="1"/>
<path d="M283.2,209.8 Q283.5,207.6 288,207.4 L294.2,206.6 L294.2,211.2 L288,211.8 Q283.5,212 283.2,209.8 Z" fill="#111" stroke="none" stroke-width="1" />
<rect x="296.00" y="207.20" width="12.60" height="3.60" fill="#151515" rx="1.5"/>
<rect x="310.00" y="205.60" width="12.80" height="5.30" fill="#0a0a0a" rx="2.2"/>
</g>
<rect x="266.80" y="227.20" width="56.00" height="2.40" fill="#ececec" />
<g filter="url(#bl2)">
<path d="M267.6,230 Q282,228.8 295,230 Q309,229.2 322.4,229 L322.4,233.6 Q309,234.8 295,234.4 Q282,234.8 267.6,234.4 Z" fill="#0d0d0d" stroke="none" stroke-width="1" />
<rect x="280.90" y="229.80" width="1.20" height="4.20" fill="#2a2a2a" />
<rect x="294.90" y="229.80" width="1.20" height="4.20" fill="#2a2a2a" />
<rect x="308.90" y="229.80" width="1.20" height="4.20" fill="#2a2a2a" />
</g>
<line x1="326.00" y1="183.00" x2="335.00" y2="183.00" stroke="#000" stroke-width="1.5"/>
<line x1="326.00" y1="191.00" x2="335.00" y2="191.00" stroke="#000" stroke-width="1.5"/>
<line x1="326.00" y1="214.60" x2="335.00" y2="214.60" stroke="#000" stroke-width="1.5"/>
<line x1="326.00" y1="229.40" x2="335.00" y2="229.40" stroke="#000" stroke-width="1.5"/>
<line x1="325.60" y1="205.90" x2="335.00" y2="205.90" stroke="#000" stroke-width="1.5"/>
<line x1="325.80" y1="205.90" x2="325.80" y2="212.20" stroke="#333" stroke-width="1.0"/>
<text x="340.00" y="186.30" font-size="7.95" fill="#222" stroke="#222" stroke-width="0.2" >100KD</text>
<text x="340.00" y="194.20" font-size="7.95" fill="#222" stroke="#222" stroke-width="0.2" >75KD</text>
<text x="340.00" y="208.20" font-size="7.95" fill="#222" stroke="#222" stroke-width="0.2" >100KD</text>
<text x="340.00" y="216.80" font-size="7.95" fill="#222" stroke="#222" stroke-width="0.2" >75KD</text>
<text x="340.00" y="232.50" font-size="7.95" fill="#222" stroke="#222" stroke-width="0.2" >50KD</text>
<line x1="22.30" y1="287.10" x2="22.30" y2="394.90" stroke="#111" stroke-width="1.2"/>
<line x1="21.70" y1="394.30" x2="199.60" y2="394.30" stroke="#111" stroke-width="1.2"/>
<line x1="20.50" y1="389.34" x2="22.30" y2="389.34" stroke="#111" stroke-width="0.9"/>
<line x1="20.50" y1="384.38" x2="22.30" y2="384.38" stroke="#111" stroke-width="0.9"/>
<line x1="20.50" y1="379.42" x2="22.30" y2="379.42" stroke="#111" stroke-width="0.9"/>
<line x1="19.00" y1="374.46" x2="22.30" y2="374.46" stroke="#111" stroke-width="0.9"/>
<line x1="20.50" y1="369.50" x2="22.30" y2="369.50" stroke="#111" stroke-width="0.9"/>
<line x1="20.50" y1="364.54" x2="22.30" y2="364.54" stroke="#111" stroke-width="0.9"/>
<line x1="20.50" y1="359.58" x2="22.30" y2="359.58" stroke="#111" stroke-width="0.9"/>
<line x1="19.00" y1="354.62" x2="22.30" y2="354.62" stroke="#111" stroke-width="0.9"/>
<line x1="20.50" y1="349.66" x2="22.30" y2="349.66" stroke="#111" stroke-width="0.9"/>
<line x1="20.50" y1="344.70" x2="22.30" y2="344.70" stroke="#111" stroke-width="0.9"/>
<line x1="20.50" y1="339.74" x2="22.30" y2="339.74" stroke="#111" stroke-width="0.9"/>
<line x1="19.00" y1="334.78" x2="22.30" y2="334.78" stroke="#111" stroke-width="0.9"/>
<line x1="20.50" y1="329.82" x2="22.30" y2="329.82" stroke="#111" stroke-width="0.9"/>
<line x1="20.50" y1="324.86" x2="22.30" y2="324.86" stroke="#111" stroke-width="0.9"/>
<line x1="20.50" y1="319.90" x2="22.30" y2="319.90" stroke="#111" stroke-width="0.9"/>
<line x1="19.00" y1="314.94" x2="22.30" y2="314.94" stroke="#111" stroke-width="0.9"/>
<line x1="20.50" y1="309.98" x2="22.30" y2="309.98" stroke="#111" stroke-width="0.9"/>
<line x1="20.50" y1="305.02" x2="22.30" y2="305.02" stroke="#111" stroke-width="0.9"/>
<line x1="20.50" y1="300.06" x2="22.30" y2="300.06" stroke="#111" stroke-width="0.9"/>
<line x1="19.00" y1="295.10" x2="22.30" y2="295.10" stroke="#111" stroke-width="0.9"/>
<line x1="20.50" y1="290.14" x2="22.30" y2="290.14" stroke="#111" stroke-width="0.9"/>
<line x1="22.30" y1="394.30" x2="22.30" y2="397.50" stroke="#111" stroke-width="1.0"/>
<line x1="42.92" y1="394.30" x2="42.92" y2="395.90" stroke="#111" stroke-width="0.8"/>
<line x1="54.98" y1="394.30" x2="54.98" y2="395.90" stroke="#111" stroke-width="0.8"/>
<line x1="63.54" y1="394.30" x2="63.54" y2="395.90" stroke="#111" stroke-width="0.8"/>
<line x1="70.18" y1="394.30" x2="70.18" y2="395.90" stroke="#111" stroke-width="0.8"/>
<line x1="75.60" y1="394.30" x2="75.60" y2="395.90" stroke="#111" stroke-width="0.8"/>
<line x1="80.19" y1="394.30" x2="80.19" y2="395.90" stroke="#111" stroke-width="0.8"/>
<line x1="84.16" y1="394.30" x2="84.16" y2="395.90" stroke="#111" stroke-width="0.8"/>
<line x1="87.67" y1="394.30" x2="87.67" y2="395.90" stroke="#111" stroke-width="0.8"/>
<line x1="90.80" y1="394.30" x2="90.80" y2="397.50" stroke="#111" stroke-width="1.0"/>
<line x1="111.42" y1="394.30" x2="111.42" y2="395.90" stroke="#111" stroke-width="0.8"/>
<line x1="123.48" y1="394.30" x2="123.48" y2="395.90" stroke="#111" stroke-width="0.8"/>
<line x1="132.04" y1="394.30" x2="132.04" y2="395.90" stroke="#111" stroke-width="0.8"/>
<line x1="138.68" y1="394.30" x2="138.68" y2="395.90" stroke="#111" stroke-width="0.8"/>
<line x1="144.10" y1="394.30" x2="144.10" y2="395.90" stroke="#111" stroke-width="0.8"/>
<line x1="148.69" y1="394.30" x2="148.69" y2="395.90" stroke="#111" stroke-width="0.8"/>
<line x1="152.66" y1="394.30" x2="152.66" y2="395.90" stroke="#111" stroke-width="0.8"/>
<line x1="156.17" y1="394.30" x2="156.17" y2="395.90" stroke="#111" stroke-width="0.8"/>
<line x1="159.30" y1="394.30" x2="159.30" y2="397.50" stroke="#111" stroke-width="1.0"/>
<line x1="179.92" y1="394.30" x2="179.92" y2="395.90" stroke="#111" stroke-width="0.8"/>
<line x1="191.98" y1="394.30" x2="191.98" y2="395.90" stroke="#111" stroke-width="0.8"/>
<path d="M22.00,388.92 L24.85,386.71 L27.70,387.21 L29.85,384.68 L32.00,386.19 L34.10,384.11 L36.20,384.51 L38.30,381.99 L40.40,384.07 L42.50,381.98 L44.67,383.56 L46.83,378.67 L49.00,380.41 L51.10,373.47 L53.20,372.56 L55.47,369.59 L57.73,371.16 L60.00,366.93 L62.00,366.21 L64.00,359.06 L66.70,359.62 L69.40,352.15 L72.10,349.07 L74.80,340.42 L77.50,340.17 L80.20,333.31 L82.90,327.76 L85.60,327.23 L88.30,326.11 L91.00,315.71 L93.70,308.60 L96.30,312.94 L99.00,313.44 L101.70,314.45 L104.40,321.62 L107.10,330.41 L109.80,339.89 L111.80,346.04 L113.80,356.08 L115.85,361.33 L117.90,371.04 L119.90,373.74 L121.90,382.54 L124.60,385.00 L127.30,390.83 L130.00,392.17 L132.70,394.30 L132.70,394.30 L22.00,394.30 Z" fill="#ecd6e4" stroke="none" stroke-width="1" />
<path d="M22.00,388.92 L24.85,386.71 L27.70,387.21 L29.85,384.68 L32.00,386.19 L34.10,384.11 L36.20,384.51 L38.30,381.99 L40.40,384.07 L42.50,381.98 L44.67,383.56 L46.83,378.67 L49.00,380.41 L51.10,373.47 L53.20,372.56 L55.47,369.59 L57.73,371.16 L60.00,366.93 L62.00,366.21 L64.00,359.06 L66.70,359.62 L69.40,352.15 L72.10,349.07 L74.80,340.42 L77.50,340.17 L80.20,333.31 L82.90,327.76 L85.60,327.23 L88.30,326.11 L91.00,315.71 L93.70,308.60 L96.30,312.94 L99.00,313.44 L101.70,314.45 L104.40,321.62 L107.10,330.41 L109.80,339.89 L111.80,346.04 L113.80,356.08 L115.85,361.33 L117.90,371.04 L119.90,373.74 L121.90,382.54 L124.60,385.00 L127.30,390.83 L130.00,392.17 L132.70,394.30" fill="none" stroke="#d678b4" stroke-width="1.1" stroke-linejoin="round"/>
<path d="M75.00,394.30 L76.33,394.27 L77.67,394.24 L79.00,394.20 L80.33,394.17 L81.67,394.13 L83.00,394.10 L84.33,394.06 L85.67,394.05 L87.00,393.98 L88.34,393.78 L89.68,393.52 L91.02,393.33 L92.36,393.01 L93.70,392.92 L95.04,392.59 L96.38,392.52 L97.72,392.02 L99.06,392.04 L100.40,391.58 L101.75,390.66 L103.10,389.40 L104.45,388.60 L105.80,387.12 L107.15,386.31 L108.50,384.76 L109.83,382.48 L111.15,379.14 L112.47,377.34 L113.80,373.50 L115.17,370.23 L116.53,364.70 L117.90,361.28 L119.65,352.12 L121.40,345.05 L123.00,334.86 L124.60,326.60 L125.95,316.90 L127.30,310.30 L129.50,300.89 L131.40,305.96 L134.00,296.39 L136.20,299.14 L138.00,312.10 L139.40,319.70 L140.80,325.38 L142.15,333.20 L143.50,338.79 L144.85,346.72 L146.20,352.00 L147.53,358.26 L148.87,363.21 L150.20,369.64 L151.53,372.47 L152.87,377.75 L154.20,380.59 L155.55,383.19 L156.90,384.56 L158.25,387.40 L159.60,388.85 L160.95,389.67 L162.30,390.04 L163.65,390.98 L165.00,391.17 L166.35,391.96 L167.70,392.45 L169.05,392.69 L170.40,392.80 L171.75,393.05 L173.10,393.11 L174.45,393.34 L175.80,393.43 L177.15,393.64 L178.50,393.75 L179.85,393.95 L181.20,394.09 L182.57,394.12 L183.94,394.12 L185.31,394.15 L186.68,394.16 L188.05,394.18 L189.42,394.19 L190.78,394.21 L192.15,394.22 L193.52,394.24 L194.89,394.25 L196.26,394.27 L197.63,394.28 L199.00,394.30" fill="none" stroke="#3b3378" stroke-width="1.15" stroke-linejoin="round"/>
<path d="M75.60,394.30 L76.93,394.30 L78.27,394.30 L79.60,394.30 L80.93,394.30 L82.27,394.30 L83.60,394.30 L84.93,394.26 L86.27,394.24 L87.60,394.20 L88.94,393.98 L90.28,393.71 L91.62,393.53 L92.96,393.24 L94.30,393.08 L95.64,392.73 L96.98,392.62 L98.32,392.25 L99.66,392.17 L101.00,391.78 L102.35,390.89 L103.70,389.50 L105.05,388.89 L106.40,387.33 L107.75,386.45 L109.10,384.63 L110.42,382.98 L111.75,379.58 L113.07,377.89 L114.40,373.63 L115.77,370.17 L117.13,365.04 L118.50,361.25 L120.25,352.54 L122.00,345.36 L123.60,335.14 L125.20,326.61 L126.55,317.71 L127.90,310.07 L130.10,301.02 L132.00,306.22 L134.60,296.47 L136.80,299.54 L138.60,312.03 L140.00,319.66 L141.40,325.82 L142.75,333.32 L144.10,338.62 L145.45,346.93 L146.80,352.32 L148.13,358.69 L149.47,363.31 L150.80,369.70 L152.13,372.54 L153.47,377.40 L154.80,380.89 L156.15,383.56 L157.50,384.83 L158.85,387.60 L160.20,389.00 L161.55,389.85 L162.90,390.14 L164.25,391.07 L165.60,391.42 L166.95,392.17 L168.30,392.64 L169.65,392.91 L171.00,392.95 L172.35,393.20 L173.70,393.30 L175.05,393.52 L176.40,393.63 L177.75,393.83 L179.10,393.97 L180.45,394.15 L181.80,394.30 L183.17,394.30 L184.54,394.30 L185.91,394.30 L187.28,394.30 L188.65,394.30 L190.02,394.30 L191.38,394.30 L192.75,394.30 L194.12,394.30 L195.49,394.30 L196.86,394.30 L198.23,394.30 L199.60,394.30" fill="none" stroke="#3a5a9a" stroke-width="1.05" stroke-linejoin="round"/>
<path d="M70.00,394.30 L71.33,394.18 L72.67,394.08 L74.00,393.93 L75.33,393.84 L76.67,393.70 L78.00,393.61 L79.52,393.36 L81.04,393.22 L82.56,392.91 L84.08,392.79 L85.60,392.46 L86.94,391.89 L88.29,391.01 L89.63,390.67 L90.97,389.55 L92.31,389.15 L93.66,388.22 L95.00,387.84 L96.33,385.87 L97.67,385.53 L99.00,383.05 L100.33,382.99 L101.67,380.31 L103.00,380.37 L104.38,376.26 L105.75,374.57 L107.12,370.87 L108.50,369.37 L109.83,362.86 L111.17,358.62 L112.50,352.27 L113.85,346.34 L115.20,338.76 L116.55,333.51 L117.90,326.86 L119.25,321.73 L120.60,314.33 L122.50,307.69 L124.60,302.30 L126.80,299.31 L128.70,294.96 L130.50,299.05 L132.70,296.91 L134.90,299.24 L136.45,305.28 L138.00,312.59 L139.40,318.56 L140.80,326.12 L142.15,332.05 L143.50,339.75 L144.85,345.54 L146.20,352.94 L147.53,357.63 L148.87,363.81 L150.20,368.59 L151.53,373.22 L152.87,376.57 L154.20,381.21 L155.55,382.46 L156.90,385.60 L158.25,386.75 L159.60,389.27 L160.95,389.29 L162.30,390.23 L163.65,390.68 L165.00,391.50 L166.35,391.78 L167.70,392.59 L169.05,392.62 L170.40,392.87 L171.75,392.90 L173.10,393.21 L174.45,393.24 L175.80,393.48 L177.15,393.58 L178.50,393.80 L179.85,393.92 L181.20,394.10 L182.57,394.10 L183.94,394.14 L185.31,394.14 L186.68,394.16 L188.05,394.17 L189.42,394.20 L190.78,394.20 L192.15,394.23 L193.52,394.24 L194.89,394.26 L196.26,394.27 L197.63,394.28 L199.00,394.30" fill="none" stroke="#8a6050" stroke-width="1.15" stroke-linejoin="round"/>
<path d="M70.50,394.30 L71.83,394.18 L73.17,394.08 L74.50,393.93 L75.83,393.85 L77.17,393.70 L78.50,393.64 L80.02,393.34 L81.54,393.19 L83.06,392.87 L84.58,392.77 L86.10,392.40 L87.44,391.86 L88.79,391.05 L90.13,390.68 L91.47,389.61 L92.81,389.21 L94.16,388.05 L95.50,388.01 L96.83,386.18 L98.17,385.40 L99.50,383.13 L100.83,382.57 L102.17,380.37 L103.50,379.84 L104.88,376.55 L106.25,374.46 L107.62,371.28 L109.00,369.69 L110.33,363.08 L111.67,358.89 L113.00,352.26 L114.35,346.50 L115.70,338.48 L117.05,333.75 L118.40,326.87 L119.75,321.59 L121.10,314.43 L123.00,307.18 L125.10,302.68 L127.30,299.52 L129.20,295.11 L131.00,299.08 L133.20,297.05 L135.40,299.10 L136.95,304.88 L138.50,312.78 L139.90,318.82 L141.30,326.48 L142.65,332.28 L144.00,339.54 L145.35,345.77 L146.70,353.33 L148.03,357.87 L149.37,364.00 L150.70,368.68 L152.03,373.40 L153.37,376.37 L154.70,381.50 L156.05,382.58 L157.40,385.36 L158.75,386.73 L160.10,389.24 L161.45,389.50 L162.80,390.33 L164.15,390.66 L165.50,391.51 L166.85,391.77 L168.20,392.53 L169.55,392.63 L170.90,392.90 L172.25,392.92 L173.60,393.16 L174.95,393.25 L176.30,393.51 L177.65,393.60 L179.00,393.80 L180.35,393.92 L181.70,394.11 L183.07,394.11 L184.44,394.14 L185.81,394.14 L187.18,394.17 L188.55,394.17 L189.92,394.20 L191.28,394.20 L192.65,394.22 L194.02,394.24 L195.39,394.26 L196.76,394.27 L198.13,394.29 L199.50,394.30" fill="none" stroke="#6aaa4a" stroke-width="1.05" stroke-linejoin="round"/>
<path d="M146.50,354.08 L147.83,358.53 L149.17,364.73 L150.50,369.24 L151.83,374.32 L153.17,377.40 L154.50,382.32 L155.85,383.07 L157.20,386.11 L158.55,387.15 L159.90,389.72 L161.25,390.05 L162.60,390.95 L163.95,391.27 L165.30,392.00 L166.65,392.47 L168.00,393.17 L169.35,393.20 L170.70,393.47 L172.05,393.56 L173.40,393.78 L174.75,393.88 L176.10,394.07 L177.45,394.22 L178.80,394.30 L180.15,394.30 L181.50,394.30 L182.87,394.30 L184.24,394.30 L185.61,394.30 L186.98,394.30 L188.35,394.30 L189.72,394.30 L191.08,394.30 L192.45,394.30 L193.82,394.30 L195.19,394.30 L196.56,394.30 L197.93,394.30 L199.30,394.30" fill="none" stroke="#b32448" stroke-width="1.0" stroke-linejoin="round"/>
<line x1="22.30" y1="403.30" x2="22.30" y2="516.60" stroke="#111" stroke-width="1.2"/>
<line x1="21.70" y1="516.00" x2="202.60" y2="516.00" stroke="#111" stroke-width="1.2"/>
<line x1="20.50" y1="510.76" x2="22.30" y2="510.76" stroke="#111" stroke-width="0.9"/>
<line x1="20.50" y1="505.53" x2="22.30" y2="505.53" stroke="#111" stroke-width="0.9"/>
<line x1="20.50" y1="500.30" x2="22.30" y2="500.30" stroke="#111" stroke-width="0.9"/>
<line x1="19.00" y1="495.06" x2="22.30" y2="495.06" stroke="#111" stroke-width="0.9"/>
<line x1="20.50" y1="489.82" x2="22.30" y2="489.82" stroke="#111" stroke-width="0.9"/>
<line x1="20.50" y1="484.59" x2="22.30" y2="484.59" stroke="#111" stroke-width="0.9"/>
<line x1="20.50" y1="479.36" x2="22.30" y2="479.36" stroke="#111" stroke-width="0.9"/>
<line x1="19.00" y1="474.12" x2="22.30" y2="474.12" stroke="#111" stroke-width="0.9"/>
<line x1="20.50" y1="468.88" x2="22.30" y2="468.88" stroke="#111" stroke-width="0.9"/>
<line x1="20.50" y1="463.65" x2="22.30" y2="463.65" stroke="#111" stroke-width="0.9"/>
<line x1="20.50" y1="458.42" x2="22.30" y2="458.42" stroke="#111" stroke-width="0.9"/>
<line x1="19.00" y1="453.18" x2="22.30" y2="453.18" stroke="#111" stroke-width="0.9"/>
<line x1="20.50" y1="447.94" x2="22.30" y2="447.94" stroke="#111" stroke-width="0.9"/>
<line x1="20.50" y1="442.71" x2="22.30" y2="442.71" stroke="#111" stroke-width="0.9"/>
<line x1="20.50" y1="437.48" x2="22.30" y2="437.48" stroke="#111" stroke-width="0.9"/>
<line x1="19.00" y1="432.24" x2="22.30" y2="432.24" stroke="#111" stroke-width="0.9"/>
<line x1="20.50" y1="427.00" x2="22.30" y2="427.00" stroke="#111" stroke-width="0.9"/>
<line x1="20.50" y1="421.77" x2="22.30" y2="421.77" stroke="#111" stroke-width="0.9"/>
<line x1="20.50" y1="416.53" x2="22.30" y2="416.53" stroke="#111" stroke-width="0.9"/>
<line x1="19.00" y1="411.30" x2="22.30" y2="411.30" stroke="#111" stroke-width="0.9"/>
<line x1="20.50" y1="406.06" x2="22.30" y2="406.06" stroke="#111" stroke-width="0.9"/>
<line x1="22.30" y1="516.00" x2="22.30" y2="519.20" stroke="#111" stroke-width="1.0"/>
<line x1="40.66" y1="516.00" x2="40.66" y2="517.60" stroke="#111" stroke-width="0.8"/>
<line x1="51.40" y1="516.00" x2="51.40" y2="517.60" stroke="#111" stroke-width="0.8"/>
<line x1="59.03" y1="516.00" x2="59.03" y2="517.60" stroke="#111" stroke-width="0.8"/>
<line x1="64.94" y1="516.00" x2="64.94" y2="517.60" stroke="#111" stroke-width="0.8"/>
<line x1="69.77" y1="516.00" x2="69.77" y2="517.60" stroke="#111" stroke-width="0.8"/>
<line x1="73.85" y1="516.00" x2="73.85" y2="517.60" stroke="#111" stroke-width="0.8"/>
<line x1="77.39" y1="516.00" x2="77.39" y2="517.60" stroke="#111" stroke-width="0.8"/>
<line x1="80.51" y1="516.00" x2="80.51" y2="517.60" stroke="#111" stroke-width="0.8"/>
<line x1="83.30" y1="516.00" x2="83.30" y2="519.20" stroke="#111" stroke-width="1.0"/>
<line x1="101.66" y1="516.00" x2="101.66" y2="517.60" stroke="#111" stroke-width="0.8"/>
<line x1="112.40" y1="516.00" x2="112.40" y2="517.60" stroke="#111" stroke-width="0.8"/>
<line x1="120.03" y1="516.00" x2="120.03" y2="517.60" stroke="#111" stroke-width="0.8"/>
<line x1="125.94" y1="516.00" x2="125.94" y2="517.60" stroke="#111" stroke-width="0.8"/>
<line x1="130.77" y1="516.00" x2="130.77" y2="517.60" stroke="#111" stroke-width="0.8"/>
<line x1="134.85" y1="516.00" x2="134.85" y2="517.60" stroke="#111" stroke-width="0.8"/>
<line x1="138.39" y1="516.00" x2="138.39" y2="517.60" stroke="#111" stroke-width="0.8"/>
<line x1="141.51" y1="516.00" x2="141.51" y2="517.60" stroke="#111" stroke-width="0.8"/>
<line x1="144.30" y1="516.00" x2="144.30" y2="519.20" stroke="#111" stroke-width="1.0"/>
<line x1="162.66" y1="516.00" x2="162.66" y2="517.60" stroke="#111" stroke-width="0.8"/>
<line x1="173.40" y1="516.00" x2="173.40" y2="517.60" stroke="#111" stroke-width="0.8"/>
<line x1="181.03" y1="516.00" x2="181.03" y2="517.60" stroke="#111" stroke-width="0.8"/>
<line x1="186.94" y1="516.00" x2="186.94" y2="517.60" stroke="#111" stroke-width="0.8"/>
<line x1="191.77" y1="516.00" x2="191.77" y2="517.60" stroke="#111" stroke-width="0.8"/>
<line x1="195.85" y1="516.00" x2="195.85" y2="517.60" stroke="#111" stroke-width="0.8"/>
<line x1="199.39" y1="516.00" x2="199.39" y2="517.60" stroke="#111" stroke-width="0.8"/>
<line x1="202.51" y1="516.00" x2="202.51" y2="517.60" stroke="#111" stroke-width="0.8"/>
<path d="M22.00,511.36 L24.00,509.30 L26.00,509.64 L28.00,507.00 L30.00,508.16 L32.00,505.54 L34.00,505.42 L36.00,502.09 L38.00,503.90 L40.25,500.95 L42.50,502.79 L45.25,498.03 L48.00,499.91 L50.50,493.72 L53.00,493.56 L55.50,488.79 L58.00,488.56 L60.00,482.50 L62.00,483.29 L64.00,477.66 L66.00,476.82 L68.00,470.45 L70.15,466.27 L72.30,456.52 L75.00,452.97 L77.70,440.51 L80.00,446.96 L82.00,438.23 L84.00,435.71 L87.20,424.21 L88.90,428.20 L90.90,421.54 L93.80,431.64 L95.80,432.55 L97.80,440.52 L99.70,440.11 L102.70,460.99 L105.60,474.09 L108.60,491.08 L112.50,505.32 L114.95,511.48 L117.40,514.90 L120.00,516.00 L120.00,516.00 L22.00,516.00 Z" fill="#ecd6e4" stroke="none" stroke-width="1" />
<path d="M22.00,511.36 L24.00,509.30 L26.00,509.64 L28.00,507.00 L30.00,508.16 L32.00,505.54 L34.00,505.42 L36.00,502.09 L38.00,503.90 L40.25,500.95 L42.50,502.79 L45.25,498.03 L48.00,499.91 L50.50,493.72 L53.00,493.56 L55.50,488.79 L58.00,488.56 L60.00,482.50 L62.00,483.29 L64.00,477.66 L66.00,476.82 L68.00,470.45 L70.15,466.27 L72.30,456.52 L75.00,452.97 L77.70,440.51 L80.00,446.96 L82.00,438.23 L84.00,435.71 L87.20,424.21 L88.90,428.20 L90.90,421.54 L93.80,431.64 L95.80,432.55 L97.80,440.52 L99.70,440.11 L102.70,460.99 L105.60,474.09 L108.60,491.08 L112.50,505.32 L114.95,511.48 L117.40,514.90 L120.00,516.00" fill="none" stroke="#d678b4" stroke-width="1.1" stroke-linejoin="round"/>
<path d="M70.00,515.80 L71.33,515.44 L72.67,515.17 L74.00,514.75 L75.33,514.50 L76.67,514.03 L78.00,513.92 L79.40,512.92 L80.80,512.43 L82.20,511.40 L83.60,510.83 L85.00,509.80 L86.40,508.93 L87.80,507.05 L89.20,506.37 L90.60,504.10 L92.00,503.31 L93.40,501.41 L94.80,501.00 L96.12,497.27 L97.43,496.32 L98.75,492.75 L100.07,491.18 L101.38,488.33 L102.70,486.88 L104.17,480.77 L105.65,476.37 L107.12,469.80 L108.60,465.06 L109.90,458.85 L111.20,454.51 L112.50,448.25 L113.80,445.22 L115.10,440.02 L116.40,436.68 L117.90,431.43 L119.40,427.78 L120.85,423.87 L122.30,421.31 L123.80,422.29 L125.30,425.26 L126.75,421.81 L128.20,420.38 L129.53,417.90 L130.87,418.31 L132.20,416.05 L133.65,420.68 L135.10,422.97 L137.10,427.74 L138.55,434.89 L140.00,443.89 L141.33,448.84 L142.67,455.82 L144.00,460.27 L145.30,467.29 L146.60,472.34 L147.90,479.05 L149.53,483.43 L151.17,489.86 L152.80,493.89 L154.28,497.40 L155.75,499.93 L157.22,503.69 L158.70,505.34 L160.27,507.12 L161.85,507.16 L163.43,508.58 L165.00,508.63 L166.43,509.66 L167.86,509.73 L169.29,510.74 L170.71,510.77 L172.14,511.60 L173.57,511.91 L175.00,512.61 L176.30,512.55 L177.60,513.10 L178.90,513.13 L180.20,513.57 L181.50,513.71 L182.80,514.03 L184.10,514.15 L185.40,514.58 L186.70,514.71 L188.00,515.05 L189.38,515.06 L190.75,515.25 L192.12,515.25 L193.50,515.42 L194.88,515.47 L196.25,515.63 L197.62,515.69 L199.00,515.81" fill="none" stroke="#6aaa4a" stroke-width="1.05" stroke-linejoin="round"/>
<path d="M76.20,515.81 L77.63,515.75 L79.06,515.72 L80.49,515.65 L81.91,515.64 L83.34,515.58 L84.77,515.56 L86.20,515.48 L87.60,515.06 L89.00,514.46 L90.40,514.13 L91.80,513.42 L93.20,513.14 L94.60,512.28 L96.00,512.20 L97.40,510.54 L98.80,510.04 L100.20,508.45 L101.60,507.95 L103.00,505.85 L104.40,505.47 L105.80,503.72 L107.12,502.10 L108.43,498.27 L109.75,496.96 L111.07,492.94 L112.38,491.78 L113.70,487.88 L115.18,484.58 L116.65,479.00 L118.12,475.45 L119.60,469.93 L121.23,465.16 L122.87,458.24 L124.50,453.77 L125.80,446.56 L127.10,441.52 L128.40,434.71 L129.73,430.72 L131.07,424.59 L132.40,419.79 L133.70,417.17 L135.00,415.91 L136.30,413.05 L137.60,416.22 L138.90,417.18 L140.20,420.02 L141.53,424.28 L142.87,430.88 L144.20,435.04 L145.50,442.33 L146.80,447.93 L148.10,455.35 L149.40,461.03 L150.70,468.64 L152.00,474.26 L153.95,483.14 L155.90,489.90 L157.57,494.55 L159.23,497.47 L160.90,502.59 L162.22,502.71 L163.55,504.51 L164.88,504.36 L166.20,506.64 L167.63,506.34 L169.06,507.73 L170.49,508.00 L171.91,509.29 L173.34,509.43 L174.77,510.53 L176.20,510.84 L177.50,511.49 L178.80,511.56 L180.10,512.14 L181.40,512.34 L182.70,512.89 L184.00,512.94 L185.30,513.57 L186.60,513.75 L187.90,514.24 L189.20,514.48 L190.57,514.71 L191.95,514.76 L193.32,515.05 L194.70,515.12 L196.07,515.35 L197.45,515.45 L198.82,515.65 L200.20,515.79" fill="none" stroke="#3a5a9a" stroke-width="1.15" stroke-linejoin="round"/>
<path d="M74.40,515.81 L75.83,515.74 L77.26,515.73 L78.69,515.67 L80.11,515.65 L81.54,515.57 L82.97,515.56 L84.40,515.49 L85.80,515.02 L87.20,514.44 L88.60,514.05 L90.00,513.41 L91.40,513.04 L92.80,512.44 L94.20,512.20 L95.60,510.67 L97.00,509.97 L98.40,508.18 L99.80,507.71 L101.20,506.13 L102.60,505.74 L104.00,503.46 L105.32,501.98 L106.63,498.24 L107.95,496.98 L109.27,493.21 L110.58,491.65 L111.90,488.00 L113.38,484.50 L114.85,478.97 L116.33,475.49 L117.80,470.49 L119.43,465.26 L121.07,458.28 L122.70,453.54 L124.00,446.69 L125.30,441.84 L126.60,435.12 L127.93,430.41 L129.27,424.50 L130.60,420.28 L132.17,417.38 L133.73,415.97 L135.30,413.58 L136.60,415.92 L137.90,417.33 L139.20,420.13 L140.53,424.18 L141.87,430.51 L143.20,435.00 L144.50,442.28 L145.80,448.11 L147.10,455.66 L148.40,461.06 L149.70,468.46 L151.00,474.47 L152.95,483.21 L154.90,489.79 L156.57,495.02 L158.23,497.95 L159.90,502.71 L161.22,502.40 L162.55,504.63 L163.88,504.35 L165.20,506.22 L166.63,506.11 L168.06,507.57 L169.49,507.86 L170.91,508.96 L172.34,509.21 L173.77,510.57 L175.20,510.67 L176.50,511.61 L177.80,511.43 L179.10,512.22 L180.40,512.16 L181.70,512.92 L183.00,513.01 L184.30,513.62 L185.60,513.73 L186.90,514.19 L188.20,514.47 L189.57,514.71 L190.95,514.80 L192.32,515.05 L193.70,515.10 L195.07,515.33 L196.45,515.47 L197.82,515.65 L199.20,515.80" fill="none" stroke="#b32448" stroke-width="1.15" stroke-linejoin="round"/>
<path d="M72.40,515.81 L73.83,515.74 L75.26,515.72 L76.69,515.65 L78.11,515.64 L79.54,515.57 L80.97,515.55 L82.40,515.47 L83.80,515.02 L85.20,514.42 L86.60,514.10 L88.00,513.36 L89.40,513.11 L90.80,512.29 L92.20,512.26 L93.60,510.76 L95.00,509.97 L96.40,508.09 L97.80,507.88 L99.20,505.93 L100.60,505.46 L102.00,503.23 L103.32,501.61 L104.63,498.15 L105.95,496.90 L107.27,493.34 L108.58,491.37 L109.90,488.04 L111.38,484.48 L112.85,479.16 L114.33,475.86 L115.80,469.95 L117.43,465.16 L119.07,458.17 L120.70,453.20 L122.00,446.91 L123.30,441.85 L124.60,434.73 L125.93,430.82 L127.27,424.07 L128.60,420.31 L130.12,417.82 L131.65,417.34 L133.17,414.50 L134.70,414.02 L136.00,415.26 L137.30,417.93 L138.60,419.35 L139.93,425.33 L141.27,429.54 L142.60,436.18 L143.90,441.69 L145.20,448.95 L146.50,454.20 L147.80,462.22 L149.10,467.63 L150.40,475.02 L152.35,481.99 L154.30,490.73 L155.97,493.76 L157.63,498.84 L159.30,501.79 L160.62,503.82 L161.95,503.69 L163.27,505.47 L164.60,505.42 L166.03,506.96 L167.46,507.23 L168.89,508.49 L170.31,508.60 L171.74,509.96 L173.17,510.13 L174.60,511.17 L175.90,511.27 L177.20,511.86 L178.50,511.93 L179.80,512.53 L181.10,512.57 L182.40,513.14 L183.70,513.28 L185.00,513.91 L186.30,514.05 L187.60,514.56 L188.97,514.60 L190.35,514.87 L191.72,514.95 L193.10,515.17 L194.47,515.29 L195.85,515.49 L197.22,515.63 L198.60,515.81" fill="none" stroke="#3b2f6e" stroke-width="1.15" stroke-linejoin="round"/>
<clipPath id="cl439"><rect x="248.3" y="298.5" width="58.599999999999966" height="59.89999999999998"/></clipPath>
<g clip-path="url(#cl439)" fill="none" stroke-linejoin="round">
<path d="M262.4,348.0 L261.5,348.0 L260.9,347.8 L260.3,347.4 L260.0,347.1 L259.6,346.5 L259.4,345.9 L259.2,345.0 L259.2,344.1 L259.2,343.2 L259.2,342.3 L259.2,341.4 L259.1,340.7 L259.0,339.9 L258.9,339.0 L258.9,338.1 L258.9,337.2 L258.9,336.3 L258.9,335.4 L258.9,334.5 L258.9,333.6 L258.9,332.7 L258.9,331.8 L258.9,330.9 L259.0,330.0 L259.1,329.4 L259.2,328.5 L259.2,327.6 L259.2,326.7 L259.2,325.8 L259.2,324.9 L259.4,324.0 L259.5,323.4 L259.6,322.5 L259.7,321.9 L259.8,321.0 L260.0,320.3 L260.2,319.5 L260.4,318.9 L260.9,318.3 L261.2,318.0 L261.8,317.6 L262.4,317.3 L263.0,317.1 L263.6,316.7 L263.9,316.2 L264.3,315.6 L264.6,315.0 L265.1,314.4 L265.6,314.1 L266.3,313.8 L266.9,313.7 L267.5,313.5 L268.4,313.2 L269.0,313.1 L269.8,312.9 L270.5,312.8 L271.4,312.8 L272.3,312.9 L272.9,313.0 L273.8,313.1 L274.7,313.1 L275.3,312.7 L275.8,312.3 L276.3,312.0 L277.1,311.7 L277.7,311.6 L278.6,311.7 L279.4,311.7 L280.1,311.7 L280.7,311.7 L281.6,311.5 L282.2,311.2 L282.8,310.9 L283.3,310.5 L283.7,310.2 L284.3,309.7 L284.8,309.3 L285.2,309.0 L285.8,308.5 L286.2,308.1 L286.7,307.6 L287.1,307.2 L287.5,306.6 L287.9,306.0 L288.1,305.4 L288.3,304.8 L288.6,304.2 L288.9,303.6 L289.2,303.0 L289.7,302.4 L290.0,302.1 L290.6,301.7 L291.2,301.4 L292.1,301.2 L293.0,301.3 L293.7,301.5 L294.2,301.8 L294.8,302.3 L295.2,302.7 L295.6,303.3 L295.9,303.9 L296.1,304.5 L296.3,305.4 L296.3,306.0 L296.3,306.9 L296.2,307.5 L296.0,308.3 L295.7,309.0 L295.4,309.6 L295.1,310.0 L294.6,310.5 L294.2,310.8 L293.6,311.2 L293.0,311.4 L292.1,311.7 L291.5,311.9 L290.9,312.1 L290.3,312.5 L289.8,312.9 L289.4,313.2 L288.8,313.7 L288.4,314.1 L287.9,314.5 L287.3,315.0 L286.9,315.3 L286.4,315.7 L285.8,316.1 L285.2,316.5 L284.6,316.7 L284.0,317.0 L283.4,317.3 L282.8,317.6 L282.2,317.8 L281.6,318.0 L280.7,318.2 L280.1,318.3 L279.5,318.6 L279.2,319.2 L279.0,320.1 L278.9,320.7 L278.6,321.4 L278.3,322.2 L278.1,322.8 L277.8,323.4 L277.5,324.0 L277.3,324.6 L277.0,325.2 L276.8,325.8 L276.5,326.5 L276.2,327.1 L275.9,327.7 L275.6,328.2 L275.3,328.8 L274.9,329.4 L274.5,330.0 L274.2,330.6 L273.8,331.2 L273.5,331.6 L273.2,332.1 L272.9,332.7 L272.5,333.3 L272.2,333.9 L271.8,334.5 L271.4,335.0 L271.1,335.4 L270.7,336.0 L270.3,336.6 L269.9,337.1 L269.6,337.5 L269.2,338.1 L268.7,338.7 L268.4,339.2 L268.1,339.6 L267.7,340.2 L267.3,340.8 L266.9,341.4 L266.6,342.0 L266.3,342.5 L266.0,343.0 L265.7,343.6 L265.4,344.3 L265.1,345.0 L265.0,345.6 L264.7,346.2 L264.4,346.8 L263.9,347.3 L263.3,347.7 L262.7,348.0 L262.4,348.0Z M290.0,349.8 L289.1,350.0 L288.5,349.8 L287.9,349.5 L287.3,349.0 L286.9,348.6 L286.6,348.0 L286.3,347.4 L286.1,346.7 L286.0,345.9 L286.0,345.0 L286.1,344.4 L286.3,343.5 L286.4,342.9 L286.5,342.0 L286.6,341.1 L286.7,340.4 L286.8,339.6 L287.0,338.7 L287.1,338.1 L287.3,337.5 L287.6,336.9 L287.9,336.3 L288.5,335.7 L289.1,335.4 L289.9,335.7 L290.3,336.0 L290.7,336.6 L291.0,337.2 L291.2,337.9 L291.4,338.7 L291.5,339.3 L291.7,340.2 L291.8,341.1 L291.9,341.7 L292.0,342.6 L292.2,343.2 L292.4,344.0 L292.6,344.7 L292.7,345.6 L292.7,346.5 L292.4,347.4 L292.1,348.0 L291.8,348.5 L291.4,348.9 L290.9,349.4 L290.3,349.7 L290.0,349.8Z" stroke="rgb(102,102,102)" stroke-width="0.5" fill="#000" fill-opacity="0.03"/>
<path d="M262.7,347.7 L261.8,347.8 L261.2,347.7 L260.6,347.4 L260.0,346.8 L259.7,346.2 L259.5,345.6 L259.4,344.7 L259.4,343.8 L259.4,342.9 L259.4,342.0 L259.4,341.4 L259.3,340.5 L259.2,339.6 L259.1,338.7 L259.1,337.8 L259.1,336.9 L259.1,336.0 L259.1,335.1 L259.1,334.2 L259.1,333.3 L259.1,332.4 L259.1,331.5 L259.2,330.6 L259.3,329.7 L259.4,328.8 L259.4,328.2 L259.4,327.3 L259.4,326.4 L259.4,325.5 L259.5,324.6 L259.6,323.7 L259.7,323.1 L259.9,322.2 L260.0,321.6 L260.1,320.7 L260.3,320.0 L260.6,319.2 L260.9,318.6 L261.2,318.3 L261.8,317.8 L262.4,317.6 L263.3,317.4 L263.9,317.3 L264.5,316.8 L264.8,316.3 L265.1,315.8 L265.4,315.3 L266.0,314.9 L266.6,314.6 L267.4,314.4 L268.1,314.2 L268.7,314.1 L269.6,313.9 L270.2,313.8 L271.1,313.7 L272.0,313.8 L272.6,313.9 L273.4,314.1 L274.1,314.2 L275.0,314.1 L275.6,313.8 L275.9,313.3 L276.2,312.9 L276.8,312.4 L277.4,312.2 L278.3,312.1 L279.2,312.1 L280.1,312.1 L281.0,312.1 L281.6,312.0 L282.3,311.7 L282.8,311.4 L283.4,311.0 L284.0,310.5 L284.4,310.2 L284.9,309.8 L285.5,309.3 L285.8,309.0 L286.4,308.5 L286.9,308.1 L287.3,307.6 L287.6,307.2 L288.0,306.6 L288.3,306.0 L288.5,305.4 L288.8,304.6 L289.1,303.9 L289.4,303.4 L289.7,303.0 L290.3,302.4 L290.7,302.1 L291.4,301.8 L292.1,301.6 L293.0,301.7 L293.6,301.9 L294.2,302.3 L294.6,302.7 L295.1,303.3 L295.4,303.8 L295.7,304.5 L295.9,305.1 L296.0,306.0 L296.0,306.9 L295.8,307.8 L295.6,308.4 L295.3,309.0 L294.9,309.6 L294.5,310.1 L293.9,310.5 L293.4,310.8 L292.7,311.1 L292.1,311.2 L291.5,311.4 L290.8,311.7 L290.2,312.0 L289.7,312.4 L289.1,312.9 L288.7,313.2 L288.2,313.7 L287.7,314.1 L287.3,314.4 L286.7,314.9 L286.2,315.3 L285.8,315.6 L285.2,316.0 L284.6,316.3 L284.0,316.5 L283.4,316.8 L282.8,317.1 L282.1,317.4 L281.3,317.6 L280.4,317.7 L279.5,317.6 L278.7,317.7 L278.3,318.1 L278.1,318.9 L278.0,319.5 L277.8,320.4 L277.6,321.0 L277.4,321.7 L277.1,322.4 L276.8,323.1 L276.5,323.7 L276.3,324.3 L276.1,324.9 L275.9,325.5 L275.6,326.1 L275.3,326.8 L275.0,327.3 L274.7,327.9 L274.4,328.5 L274.0,329.1 L273.7,329.7 L273.3,330.3 L272.9,330.9 L272.6,331.4 L272.3,331.9 L272.0,332.5 L271.7,333.0 L271.4,333.6 L271.0,334.2 L270.5,334.8 L270.2,335.3 L269.9,335.7 L269.5,336.3 L269.1,336.9 L268.7,337.4 L268.4,337.9 L268.0,338.4 L267.6,339.0 L267.2,339.6 L266.9,340.0 L266.6,340.5 L266.3,341.1 L265.9,341.7 L265.6,342.3 L265.4,342.9 L265.1,343.7 L264.9,344.4 L264.8,345.0 L264.5,345.9 L264.2,346.5 L263.9,347.0 L263.4,347.4 L262.7,347.7 L262.7,347.7Z M289.4,349.2 L288.8,349.2 L288.2,348.9 L287.6,348.4 L287.3,348.0 L286.9,347.4 L286.7,346.8 L286.5,345.9 L286.6,345.0 L286.7,344.1 L286.8,343.5 L287.0,342.6 L287.0,342.0 L287.1,341.1 L287.3,340.2 L287.4,339.6 L287.6,338.7 L287.8,338.1 L288.1,337.5 L288.5,337.1 L289.1,336.7 L289.7,336.9 L290.3,337.5 L290.6,338.1 L290.8,338.7 L291.0,339.3 L291.1,340.2 L291.2,340.8 L291.4,341.7 L291.5,342.6 L291.6,343.2 L291.8,343.8 L292.0,344.7 L292.1,345.4 L292.1,346.1 L292.0,346.8 L291.8,347.4 L291.4,348.0 L290.9,348.5 L290.4,348.9 L289.7,349.2 L289.4,349.2Z" stroke="rgb(95,95,95)" stroke-width="0.5" fill="#000" fill-opacity="0.03"/>
<path d="M263.0,347.4 L262.1,347.7 L261.2,347.5 L260.6,347.2 L260.2,346.8 L259.9,346.2 L259.7,345.6 L259.6,344.7 L259.6,343.8 L259.6,342.9 L259.6,342.0 L259.5,341.1 L259.4,340.2 L259.3,339.6 L259.3,338.7 L259.3,337.8 L259.3,336.9 L259.3,336.0 L259.3,335.1 L259.3,334.2 L259.3,333.3 L259.3,332.4 L259.3,331.5 L259.3,330.6 L259.4,330.0 L259.5,329.1 L259.6,328.2 L259.6,327.3 L259.6,326.4 L259.6,325.5 L259.7,324.6 L259.7,324.0 L259.9,323.1 L260.0,322.5 L260.1,321.6 L260.3,320.7 L260.4,320.1 L260.6,319.5 L260.9,318.9 L261.4,318.3 L261.8,318.0 L262.7,317.7 L263.3,317.6 L264.0,317.7 L264.6,317.7 L265.1,317.3 L265.4,316.8 L265.8,316.2 L266.3,315.7 L266.9,315.4 L267.5,315.2 L268.4,315.0 L269.0,314.9 L269.9,314.7 L270.5,314.6 L271.4,314.6 L272.0,314.7 L272.9,315.0 L273.5,315.1 L274.4,315.2 L275.0,315.3 L275.9,315.5 L276.5,315.6 L276.7,315.0 L276.5,314.1 L276.7,313.2 L277.1,312.8 L277.7,312.6 L278.6,312.5 L279.5,312.5 L280.4,312.5 L281.3,312.4 L281.9,312.3 L282.5,312.0 L283.1,311.6 L283.7,311.2 L284.2,310.8 L284.6,310.4 L285.2,310.0 L285.7,309.6 L286.1,309.2 L286.7,308.7 L287.0,308.4 L287.6,307.8 L287.9,307.3 L288.2,306.8 L288.5,306.1 L288.7,305.4 L288.9,304.8 L289.2,304.2 L289.6,303.6 L290.0,303.0 L290.4,302.7 L290.9,302.3 L291.5,302.1 L292.4,301.9 L293.2,302.1 L293.8,302.4 L294.2,302.7 L294.8,303.3 L295.1,303.8 L295.4,304.4 L295.6,305.1 L295.7,305.7 L295.8,306.6 L295.7,307.2 L295.5,308.1 L295.2,308.7 L294.8,309.3 L294.5,309.7 L293.9,310.2 L293.4,310.5 L292.7,310.8 L292.1,310.9 L291.4,311.1 L290.6,311.4 L290.1,311.7 L289.7,312.0 L289.1,312.5 L288.6,312.9 L288.2,313.2 L287.6,313.7 L287.2,314.1 L286.7,314.5 L286.1,315.0 L285.6,315.3 L285.1,315.6 L284.5,315.9 L283.9,316.2 L283.2,316.5 L282.6,316.8 L281.9,317.1 L281.3,317.2 L280.4,317.3 L279.5,317.1 L278.9,316.9 L278.3,316.7 L277.4,316.8 L277.3,317.4 L277.1,318.3 L277.0,318.9 L276.9,319.8 L276.8,320.4 L276.5,321.3 L276.3,321.9 L276.0,322.5 L275.8,323.1 L275.5,323.7 L275.3,324.4 L275.0,325.2 L274.7,325.8 L274.5,326.4 L274.2,327.0 L273.8,327.6 L273.5,328.2 L273.2,328.8 L272.9,329.3 L272.6,329.8 L272.3,330.3 L272.0,330.9 L271.6,331.5 L271.3,332.1 L271.0,332.7 L270.6,333.3 L270.2,333.9 L269.9,334.4 L269.6,334.8 L269.2,335.4 L268.8,336.0 L268.4,336.6 L268.1,337.0 L267.8,337.5 L267.3,338.1 L266.9,338.7 L266.6,339.2 L266.3,339.7 L266.0,340.2 L265.7,340.8 L265.4,341.4 L265.1,342.2 L264.9,342.9 L264.8,343.5 L264.7,344.4 L264.5,345.3 L264.3,345.9 L264.0,346.5 L263.6,347.0 L263.0,347.4 L263.0,347.4Z M289.7,348.6 L288.8,348.6 L288.2,348.3 L287.8,348.0 L287.4,347.4 L287.1,346.8 L287.0,346.2 L286.9,345.3 L287.0,344.6 L287.1,343.8 L287.3,342.9 L287.4,342.3 L287.5,341.4 L287.6,340.7 L287.8,339.9 L287.9,339.3 L288.2,338.6 L288.6,338.1 L289.1,337.8 L289.7,338.0 L290.1,338.4 L290.4,339.0 L290.6,339.7 L290.8,340.5 L290.9,341.3 L291.0,342.0 L291.2,342.9 L291.3,343.5 L291.5,344.2 L291.7,345.0 L291.7,345.9 L291.5,346.8 L291.3,347.4 L290.9,347.9 L290.4,348.3 L289.8,348.6 L289.7,348.6Z" stroke="rgb(88,88,88)" stroke-width="0.5" fill="#000" fill-opacity="0.03"/>
<path d="M281.3,316.8 L280.4,316.9 L279.8,316.7 L279.2,316.5 L278.6,316.1 L278.1,315.6 L277.7,315.1 L277.4,314.4 L277.3,313.8 L277.6,313.2 L278.3,312.9 L278.9,312.9 L279.8,312.9 L280.7,312.9 L281.6,312.7 L282.2,312.6 L282.8,312.3 L283.4,311.9 L284.0,311.4 L284.4,311.1 L284.9,310.7 L285.5,310.2 L285.9,309.9 L286.4,309.5 L287.0,309.0 L287.3,308.7 L287.8,308.1 L288.2,307.5 L288.4,306.9 L288.6,306.3 L288.8,305.7 L289.1,305.0 L289.4,304.3 L289.7,303.8 L290.1,303.3 L290.6,302.8 L291.2,302.5 L291.8,302.3 L292.7,302.2 L293.3,302.4 L293.9,302.8 L294.5,303.3 L294.8,303.7 L295.1,304.3 L295.4,305.1 L295.5,305.7 L295.5,306.6 L295.4,307.5 L295.2,308.1 L294.9,308.7 L294.5,309.3 L294.2,309.6 L293.6,310.1 L293.0,310.4 L292.4,310.6 L291.5,310.8 L290.9,311.0 L290.3,311.2 L289.7,311.5 L289.1,312.0 L288.7,312.3 L288.2,312.7 L287.6,313.2 L287.3,313.5 L286.7,314.0 L286.2,314.4 L285.8,314.7 L285.2,315.1 L284.6,315.4 L284.0,315.7 L283.4,316.0 L282.8,316.3 L282.2,316.6 L281.5,316.8 L281.3,316.8Z M262.4,347.5 L261.5,347.5 L260.9,347.2 L260.4,346.8 L260.0,346.2 L259.8,345.6 L259.7,344.7 L259.7,343.8 L259.7,342.9 L259.7,342.0 L259.7,341.4 L259.6,340.5 L259.5,339.6 L259.4,338.7 L259.4,337.8 L259.4,336.9 L259.4,336.0 L259.4,335.1 L259.4,334.2 L259.4,333.3 L259.4,332.4 L259.4,331.5 L259.5,330.6 L259.6,329.7 L259.7,328.8 L259.7,328.2 L259.7,327.3 L259.7,326.4 L259.7,325.5 L259.8,324.6 L259.9,323.7 L260.0,323.1 L260.2,322.2 L260.3,321.5 L260.4,320.7 L260.6,320.0 L260.9,319.2 L261.2,318.7 L261.6,318.3 L262.2,318.0 L263.0,317.8 L263.9,318.0 L264.5,318.2 L265.1,318.4 L265.7,318.2 L266.1,317.7 L266.4,317.1 L266.9,316.6 L267.5,316.3 L268.1,316.1 L269.0,315.9 L269.6,315.8 L270.5,315.7 L271.4,315.7 L272.2,315.9 L272.9,316.1 L273.5,316.2 L274.4,316.4 L275.0,316.6 L275.6,316.9 L275.9,317.4 L276.0,318.3 L275.9,319.0 L275.8,319.8 L275.6,320.4 L275.3,321.3 L275.1,321.9 L274.9,322.5 L274.6,323.1 L274.4,323.7 L274.1,324.6 L273.9,325.2 L273.6,325.8 L273.3,326.4 L273.0,327.0 L272.7,327.6 L272.4,328.2 L272.1,328.8 L271.7,329.4 L271.4,330.0 L271.1,330.5 L270.8,331.0 L270.5,331.6 L270.2,332.2 L269.9,332.7 L269.5,333.3 L269.1,333.9 L268.7,334.5 L268.4,335.0 L268.1,335.5 L267.7,336.0 L267.3,336.6 L266.9,337.2 L266.6,337.7 L266.3,338.2 L265.9,338.7 L265.5,339.3 L265.2,339.9 L265.0,340.5 L264.8,341.4 L264.8,342.0 L264.6,342.9 L264.5,343.8 L264.5,344.4 L264.3,345.3 L264.2,345.9 L263.9,346.5 L263.3,347.1 L262.7,347.4 L262.4,347.5Z M289.7,348.1 L288.8,348.1 L288.2,347.7 L287.9,347.4 L287.6,346.8 L287.3,345.9 L287.3,345.0 L287.5,344.1 L287.6,343.4 L287.7,342.6 L287.9,341.7 L288.0,341.1 L288.2,340.2 L288.4,339.6 L288.8,339.1 L289.4,338.9 L289.8,339.3 L290.1,339.9 L290.3,340.5 L290.5,341.4 L290.6,342.1 L290.8,342.9 L290.9,343.5 L291.1,344.4 L291.3,345.0 L291.3,345.9 L291.2,346.5 L290.9,347.1 L290.4,347.7 L290.0,348.0 L289.7,348.1Z" stroke="rgb(81,81,81)" stroke-width="0.5" fill="#000" fill-opacity="0.03"/>
<path d="M281.9,316.2 L281.0,316.5 L280.1,316.4 L279.5,316.1 L278.9,315.7 L278.5,315.3 L278.1,314.7 L278.0,314.1 L278.3,313.5 L278.9,313.3 L279.8,313.3 L280.7,313.3 L281.3,313.2 L282.2,313.0 L282.8,312.7 L283.4,312.4 L283.9,312.0 L284.3,311.7 L284.9,311.2 L285.4,310.8 L285.8,310.5 L286.4,310.0 L286.9,309.6 L287.3,309.2 L287.8,308.7 L288.2,308.1 L288.5,307.5 L288.7,306.9 L288.8,306.3 L289.1,305.5 L289.4,304.8 L289.7,304.2 L290.0,303.7 L290.4,303.3 L290.9,302.9 L291.5,302.6 L292.4,302.4 L293.3,302.7 L293.9,303.0 L294.2,303.3 L294.7,303.9 L295.0,304.5 L295.2,305.1 L295.4,306.0 L295.3,306.9 L295.1,307.8 L294.9,308.4 L294.5,309.0 L294.2,309.4 L293.6,309.9 L293.0,310.2 L292.4,310.4 L291.8,310.5 L290.9,310.7 L290.3,310.8 L289.7,311.1 L289.1,311.5 L288.5,311.9 L288.1,312.3 L287.6,312.7 L287.0,313.2 L286.7,313.5 L286.1,314.0 L285.5,314.4 L285.1,314.7 L284.6,315.0 L284.0,315.3 L283.3,315.6 L282.7,315.9 L282.0,316.2 L281.9,316.2Z M263.0,347.1 L262.1,347.4 L261.2,347.2 L260.6,346.8 L260.3,346.4 L260.0,345.8 L259.9,345.0 L259.8,344.1 L259.8,343.2 L259.8,342.3 L259.8,341.4 L259.7,340.5 L259.6,339.9 L259.5,339.0 L259.5,338.1 L259.5,337.2 L259.5,336.3 L259.5,335.4 L259.5,334.5 L259.5,333.6 L259.5,332.7 L259.5,331.8 L259.5,330.9 L259.6,330.0 L259.7,329.4 L259.8,328.5 L259.8,327.6 L259.8,326.7 L259.8,325.8 L259.9,324.9 L260.0,324.0 L260.1,323.4 L260.2,322.5 L260.3,321.9 L260.5,321.0 L260.6,320.4 L260.9,319.5 L261.2,318.9 L261.5,318.6 L262.1,318.2 L262.8,318.0 L263.3,318.0 L264.2,318.3 L264.7,318.6 L265.1,319.0 L265.5,319.5 L265.7,319.8 L266.3,319.3 L266.6,318.8 L266.9,318.3 L267.3,317.7 L267.8,317.3 L268.4,317.1 L269.3,316.9 L270.2,316.8 L270.8,316.8 L271.4,316.8 L272.3,317.0 L272.9,317.2 L273.6,317.4 L274.4,317.7 L274.7,318.1 L274.8,318.9 L274.7,319.7 L274.5,320.4 L274.3,321.0 L274.1,321.6 L273.8,322.4 L273.6,323.1 L273.4,323.7 L273.2,324.3 L272.9,325.0 L272.6,325.6 L272.3,326.3 L272.0,326.9 L271.7,327.5 L271.4,328.0 L271.1,328.6 L270.8,329.1 L270.5,329.7 L270.2,330.3 L269.9,330.9 L269.6,331.5 L269.2,332.1 L268.9,332.7 L268.5,333.3 L268.1,333.9 L267.8,334.4 L267.5,334.8 L267.1,335.4 L266.7,336.0 L266.3,336.6 L266.0,337.0 L265.5,337.5 L265.1,337.8 L264.8,338.4 L264.6,339.3 L264.6,340.2 L264.6,341.1 L264.5,341.9 L264.5,342.6 L264.4,343.5 L264.3,344.4 L264.2,345.2 L264.0,345.9 L263.7,346.5 L263.3,346.9 L263.0,347.1Z M290.0,347.5 L289.1,347.7 L288.5,347.4 L288.0,346.8 L287.8,346.2 L287.7,345.3 L287.8,344.4 L287.9,343.7 L288.1,342.9 L288.2,342.3 L288.4,341.4 L288.6,340.8 L289.0,340.2 L289.4,340.2 L289.8,340.8 L290.0,341.4 L290.2,342.3 L290.4,342.9 L290.6,343.7 L290.8,344.4 L290.9,345.0 L290.9,345.9 L290.8,346.5 L290.4,347.1 L290.0,347.5 L290.0,347.5Z" stroke="rgb(74,74,74)" stroke-width="0.5" fill="#000" fill-opacity="0.03"/>
<path d="M281.6,315.7 L280.7,315.8 L279.8,315.6 L279.4,315.3 L279.0,314.7 L279.2,314.0 L280.1,313.9 L281.0,313.9 L281.6,313.8 L282.5,313.6 L283.1,313.3 L283.7,312.9 L284.2,312.6 L284.6,312.3 L285.2,311.8 L285.7,311.4 L286.1,311.1 L286.7,310.6 L287.2,310.2 L287.6,309.8 L288.0,309.3 L288.3,308.7 L288.6,308.1 L288.8,307.3 L289.0,306.6 L289.1,306.0 L289.4,305.2 L289.7,304.5 L290.0,304.0 L290.3,303.6 L290.9,303.1 L291.5,302.8 L292.1,302.7 L292.7,302.7 L293.5,303.0 L293.9,303.3 L294.5,303.9 L294.8,304.5 L295.0,305.1 L295.2,305.7 L295.2,306.6 L295.1,307.3 L294.8,308.1 L294.5,308.7 L294.2,309.1 L293.6,309.6 L293.1,309.9 L292.4,310.2 L291.8,310.3 L290.9,310.4 L290.0,310.5 L289.4,310.7 L288.8,310.9 L288.2,311.4 L287.8,311.7 L287.3,312.1 L286.7,312.6 L286.4,312.9 L285.8,313.4 L285.3,313.8 L284.8,314.1 L284.3,314.4 L283.7,314.7 L283.1,315.0 L282.5,315.3 L281.8,315.6 L281.6,315.7Z M262.7,347.1 L261.8,347.3 L261.2,347.1 L260.6,346.6 L260.3,346.2 L260.0,345.3 L260.0,344.7 L259.9,343.8 L259.9,342.9 L259.9,342.0 L259.9,341.1 L259.8,340.2 L259.7,339.6 L259.7,338.7 L259.6,337.8 L259.6,336.9 L259.6,336.0 L259.6,335.1 L259.6,334.2 L259.6,333.3 L259.6,332.4 L259.7,331.5 L259.7,330.6 L259.8,330.0 L259.9,329.1 L259.9,328.2 L259.9,327.3 L259.9,326.4 L260.0,325.5 L260.0,324.9 L260.1,324.0 L260.3,323.1 L260.4,322.5 L260.5,321.6 L260.6,321.0 L260.8,320.1 L261.0,319.5 L261.4,318.9 L261.8,318.5 L262.4,318.2 L263.3,318.1 L263.9,318.3 L264.5,318.8 L264.9,319.2 L265.1,319.8 L265.2,320.7 L265.1,321.6 L265.0,322.2 L264.9,323.1 L264.8,323.7 L264.6,324.6 L264.5,325.5 L264.5,326.1 L264.5,326.7 L264.5,327.6 L264.5,328.5 L264.5,329.1 L264.4,330.0 L264.2,330.9 L264.2,331.5 L264.2,332.1 L264.3,333.0 L264.3,333.9 L264.3,334.8 L264.3,335.7 L264.2,336.6 L264.2,337.2 L264.2,338.1 L264.2,339.0 L264.2,339.6 L264.3,340.5 L264.3,341.4 L264.3,342.3 L264.2,343.2 L264.2,343.8 L264.1,344.7 L264.0,345.6 L263.7,346.2 L263.3,346.8 L262.8,347.1 L262.7,347.1Z M266.0,334.5 L265.7,334.0 L265.7,333.3 L265.7,332.6 L265.9,331.8 L266.0,330.9 L266.0,330.3 L266.0,329.4 L266.1,328.5 L266.1,327.6 L266.1,326.7 L266.2,325.8 L266.4,325.2 L266.5,324.3 L266.6,323.7 L266.8,322.8 L266.9,322.2 L267.1,321.3 L267.2,320.7 L267.5,319.8 L267.8,319.2 L268.1,318.8 L268.7,318.3 L269.3,318.1 L270.2,318.0 L271.1,318.0 L272.0,318.2 L272.6,318.5 L273.2,318.8 L273.5,319.5 L273.3,320.4 L273.1,321.0 L272.9,321.6 L272.6,322.4 L272.4,323.1 L272.2,323.7 L272.0,324.3 L271.7,325.0 L271.4,325.6 L271.1,326.3 L270.8,326.9 L270.5,327.5 L270.2,328.1 L269.9,328.6 L269.6,329.2 L269.3,329.7 L269.0,330.3 L268.7,331.0 L268.4,331.5 L268.0,332.1 L267.7,332.7 L267.3,333.3 L266.9,333.8 L266.6,334.2 L266.0,334.5 L266.0,334.5Z M289.4,347.1 L288.8,347.0 L288.4,346.5 L288.1,345.9 L288.1,345.0 L288.2,344.2 L288.4,343.5 L288.6,342.9 L288.9,342.3 L289.5,342.3 L289.8,342.9 L290.1,343.5 L290.3,344.1 L290.5,345.0 L290.5,345.9 L290.3,346.5 L289.7,347.0 L289.4,347.1Z" stroke="rgb(67,67,67)" stroke-width="0.5" fill="#000" fill-opacity="0.03"/>
<path d="M292.4,310.0 L291.5,310.1 L290.6,310.1 L289.7,310.0 L289.1,309.8 L288.8,309.0 L288.9,308.1 L289.0,307.2 L289.1,306.6 L289.4,305.7 L289.6,305.1 L289.9,304.5 L290.3,303.9 L290.6,303.6 L291.2,303.1 L291.8,302.9 L292.7,302.9 L293.3,303.1 L293.9,303.5 L294.3,303.9 L294.6,304.5 L294.9,305.1 L295.1,306.0 L295.0,306.9 L294.8,307.8 L294.5,308.4 L294.2,308.9 L293.8,309.3 L293.3,309.6 L292.7,309.9 L292.4,310.0Z M262.4,347.1 L261.5,347.1 L260.9,346.8 L260.6,346.5 L260.3,345.9 L260.1,345.0 L260.0,344.1 L260.0,343.2 L260.0,342.3 L260.0,341.4 L260.0,340.8 L259.8,339.9 L259.8,339.0 L259.7,338.1 L259.7,337.2 L259.7,336.3 L259.7,335.4 L259.7,334.5 L259.7,333.6 L259.7,332.7 L259.7,331.8 L259.8,330.9 L259.9,330.0 L260.0,329.1 L260.0,328.5 L260.0,327.6 L260.0,326.7 L260.1,325.8 L260.1,324.9 L260.2,324.0 L260.3,323.4 L260.4,322.5 L260.6,321.7 L260.7,321.0 L260.9,320.2 L261.1,319.5 L261.5,318.9 L261.8,318.6 L262.4,318.3 L263.3,318.3 L263.9,318.5 L264.4,318.9 L264.8,319.5 L265.0,320.1 L265.0,321.0 L264.8,321.9 L264.7,322.5 L264.6,323.4 L264.5,324.0 L264.3,324.9 L264.3,325.8 L264.3,326.7 L264.3,327.6 L264.3,328.5 L264.2,329.4 L264.1,330.0 L264.0,330.9 L264.0,331.8 L264.0,332.7 L264.0,333.6 L264.0,334.5 L264.0,335.4 L264.0,336.3 L264.0,337.2 L263.9,338.1 L263.9,339.0 L264.0,339.9 L264.1,340.8 L264.2,341.7 L264.1,342.6 L264.1,343.5 L264.0,344.4 L263.9,345.3 L263.8,345.9 L263.4,346.5 L263.0,346.9 L262.4,347.1 L262.4,347.1Z M268.1,329.4 L267.5,329.4 L267.4,328.5 L267.3,327.6 L267.4,326.7 L267.5,326.0 L267.7,325.2 L267.8,324.5 L268.0,323.7 L268.1,323.1 L268.3,322.2 L268.4,321.5 L268.6,320.7 L268.9,320.1 L269.3,319.6 L269.9,319.3 L270.8,319.2 L271.7,319.5 L272.0,319.8 L272.0,320.7 L271.8,321.3 L271.6,321.9 L271.4,322.7 L271.2,323.4 L271.0,324.0 L270.7,324.6 L270.4,325.2 L270.2,325.8 L269.9,326.4 L269.6,327.0 L269.3,327.6 L268.9,328.2 L268.5,328.8 L268.1,329.4 L268.1,329.4Z M289.7,346.3 L288.8,346.2 L288.6,345.6 L288.6,344.7 L288.8,344.1 L289.4,343.7 L289.7,344.1 L290.0,344.9 L290.0,345.6 L289.8,346.2 L289.7,346.3Z" stroke="rgb(60,60,60)" stroke-width="0.5" fill="#000" fill-opacity="0.03"/>
<path d="M291.8,309.9 L290.9,309.9 L290.3,309.8 L289.7,309.4 L289.4,309.0 L289.2,308.1 L289.2,307.2 L289.4,306.3 L289.5,305.7 L289.7,305.1 L290.0,304.5 L290.5,303.9 L290.9,303.5 L291.5,303.2 L292.4,303.0 L293.3,303.3 L293.8,303.6 L294.2,304.1 L294.5,304.6 L294.8,305.4 L294.9,306.0 L294.9,306.9 L294.8,307.5 L294.5,308.1 L294.1,308.7 L293.6,309.2 L293.0,309.6 L292.4,309.8 L291.8,309.9 L291.8,309.9Z M262.7,346.9 L261.8,347.1 L261.1,346.8 L260.6,346.3 L260.3,345.6 L260.2,345.0 L260.1,344.1 L260.1,343.2 L260.1,342.3 L260.1,341.4 L260.0,340.5 L259.9,339.9 L259.9,339.0 L259.8,338.1 L259.8,337.2 L259.8,336.3 L259.8,335.4 L259.8,334.5 L259.8,333.6 L259.8,332.7 L259.8,331.8 L259.9,330.9 L260.0,330.0 L260.1,329.4 L260.1,328.5 L260.1,327.6 L260.1,326.7 L260.1,325.8 L260.2,324.9 L260.3,324.1 L260.4,323.4 L260.6,322.5 L260.7,321.9 L260.8,321.0 L260.9,320.4 L261.2,319.6 L261.5,319.1 L262.0,318.6 L262.7,318.4 L263.6,318.5 L264.2,318.9 L264.5,319.3 L264.8,320.1 L264.8,320.4 L264.7,321.3 L264.6,322.2 L264.5,322.8 L264.4,323.7 L264.2,324.5 L264.1,325.2 L264.1,326.1 L264.1,327.0 L264.1,327.9 L264.1,328.8 L264.0,329.7 L263.9,330.3 L263.8,331.2 L263.8,332.1 L263.8,333.0 L263.8,333.9 L263.8,334.8 L263.8,335.7 L263.8,336.6 L263.8,337.5 L263.8,338.4 L263.8,339.3 L263.9,340.2 L264.0,340.8 L264.0,341.7 L264.0,342.6 L264.0,343.5 L263.9,344.4 L263.9,345.0 L263.6,345.9 L263.3,346.4 L262.9,346.8 L262.7,346.9Z" stroke="rgb(53,53,53)" stroke-width="0.5" fill="#000" fill-opacity="0.03"/>
<path d="M292.1,309.7 L291.2,309.7 L290.6,309.5 L290.0,309.1 L289.7,308.7 L289.4,307.8 L289.4,306.9 L289.6,306.0 L289.8,305.4 L290.1,304.8 L290.5,304.2 L290.9,303.8 L291.5,303.4 L292.1,303.2 L292.8,303.3 L293.4,303.6 L293.9,304.0 L294.3,304.5 L294.6,305.1 L294.7,306.0 L294.7,306.9 L294.5,307.7 L294.2,308.3 L293.9,308.7 L293.3,309.2 L292.7,309.5 L292.1,309.7 L292.1,309.7Z M262.4,346.9 L261.5,346.9 L260.9,346.5 L260.6,346.1 L260.3,345.3 L260.3,344.7 L260.3,343.8 L260.3,342.9 L260.3,342.0 L260.2,341.1 L260.1,340.2 L260.0,339.4 L260.0,338.7 L260.0,337.8 L260.0,336.9 L260.0,336.0 L260.0,335.1 L260.0,334.2 L260.0,333.3 L260.0,332.4 L260.0,331.5 L260.0,330.8 L260.1,330.0 L260.2,329.1 L260.3,328.2 L260.3,327.3 L260.3,326.4 L260.3,325.5 L260.3,324.9 L260.4,324.0 L260.6,323.1 L260.7,322.5 L260.8,321.6 L260.9,321.0 L261.1,320.1 L261.4,319.5 L261.8,318.9 L262.3,318.6 L263.0,318.5 L263.6,318.7 L264.2,319.1 L264.5,319.7 L264.6,320.4 L264.6,321.3 L264.5,321.9 L264.3,322.8 L264.2,323.5 L264.1,324.3 L263.9,325.2 L263.9,325.8 L263.9,326.7 L263.9,327.6 L263.9,328.5 L263.9,329.4 L263.7,330.3 L263.6,331.2 L263.6,331.8 L263.6,332.7 L263.6,333.3 L263.6,334.2 L263.6,335.1 L263.6,336.0 L263.6,336.6 L263.6,337.5 L263.6,338.4 L263.6,339.2 L263.7,339.9 L263.8,340.8 L263.9,341.7 L263.8,342.6 L263.8,343.5 L263.8,344.4 L263.7,345.3 L263.5,345.9 L263.1,346.5 L262.6,346.8 L262.4,346.9Z" stroke="rgb(46,46,46)" stroke-width="0.5" fill="#000" fill-opacity="0.03"/>
<path d="M292.4,309.4 L291.5,309.5 L290.9,309.3 L290.3,308.9 L289.9,308.4 L289.7,307.7 L289.7,306.9 L289.7,306.3 L290.0,305.4 L290.3,304.8 L290.6,304.3 L291.0,303.9 L291.6,303.6 L292.4,303.4 L293.0,303.6 L293.6,304.0 L294.1,304.5 L294.4,305.1 L294.5,305.7 L294.6,306.6 L294.5,307.2 L294.2,308.0 L293.9,308.4 L293.3,309.0 L292.7,309.3 L292.4,309.4Z M262.7,346.6 L261.8,346.8 L261.1,346.5 L260.7,345.9 L260.5,345.3 L260.4,344.4 L260.4,343.5 L260.4,342.6 L260.4,341.7 L260.3,340.8 L260.2,340.2 L260.1,339.3 L260.1,338.4 L260.1,337.5 L260.1,336.6 L260.1,335.7 L260.1,334.8 L260.1,333.9 L260.1,333.0 L260.1,332.1 L260.1,331.2 L260.2,330.3 L260.3,329.4 L260.4,328.8 L260.4,327.9 L260.4,327.0 L260.4,326.1 L260.4,325.2 L260.5,324.3 L260.6,323.7 L260.7,322.8 L260.9,322.0 L261.0,321.3 L261.2,320.4 L261.4,319.8 L261.7,319.2 L262.1,318.9 L263.0,318.6 L263.7,318.9 L264.2,319.4 L264.4,320.1 L264.4,321.0 L264.3,321.9 L264.2,322.5 L264.1,323.4 L263.9,324.3 L263.8,324.9 L263.7,325.8 L263.7,326.7 L263.7,327.6 L263.7,328.5 L263.7,329.4 L263.6,330.0 L263.5,330.9 L263.4,331.8 L263.4,332.7 L263.4,333.6 L263.4,334.5 L263.4,335.4 L263.4,336.3 L263.4,337.2 L263.4,338.1 L263.4,339.0 L263.5,339.9 L263.6,340.5 L263.7,341.4 L263.7,342.3 L263.7,343.2 L263.7,344.1 L263.6,345.0 L263.5,345.6 L263.2,346.2 L262.7,346.6 L262.7,346.6Z" stroke="rgb(39,39,39)" stroke-width="0.5" fill="#000" fill-opacity="0.03"/>
<path d="M292.7,309.1 L291.8,309.2 L290.9,309.0 L290.5,308.7 L290.1,308.1 L289.9,307.5 L289.9,306.6 L290.0,305.9 L290.3,305.1 L290.6,304.6 L291.0,304.2 L291.5,303.9 L292.4,303.7 L293.1,303.9 L293.6,304.3 L294.0,304.8 L294.3,305.4 L294.4,306.3 L294.3,307.2 L294.1,307.8 L293.7,308.4 L293.3,308.7 L292.7,309.1 L292.7,309.1Z M262.4,346.6 L261.5,346.5 L261.0,346.2 L260.7,345.6 L260.6,345.0 L260.5,344.1 L260.5,343.2 L260.5,342.3 L260.5,341.4 L260.4,340.5 L260.3,339.8 L260.2,339.0 L260.2,338.1 L260.2,337.2 L260.2,336.3 L260.2,335.4 L260.2,334.5 L260.2,333.6 L260.2,332.7 L260.2,331.8 L260.2,330.9 L260.3,330.3 L260.4,329.4 L260.5,328.5 L260.5,327.6 L260.5,326.7 L260.5,325.8 L260.6,324.9 L260.6,324.3 L260.8,323.4 L260.9,322.8 L261.0,321.9 L261.2,321.0 L261.3,320.4 L261.5,319.8 L261.9,319.2 L262.4,318.9 L263.3,318.9 L263.8,319.2 L264.2,319.8 L264.3,320.4 L264.2,321.3 L264.1,321.9 L264.0,322.8 L263.9,323.4 L263.7,324.3 L263.6,325.2 L263.6,325.8 L263.6,326.7 L263.6,327.6 L263.6,328.5 L263.5,329.4 L263.4,330.3 L263.3,330.9 L263.3,331.8 L263.3,332.7 L263.3,333.6 L263.3,334.5 L263.3,335.4 L263.3,336.3 L263.3,337.2 L263.2,338.1 L263.3,339.0 L263.3,339.6 L263.4,340.5 L263.5,341.4 L263.5,342.3 L263.5,343.2 L263.5,344.1 L263.5,345.0 L263.3,345.6 L263.0,346.2 L262.4,346.6 L262.4,346.6Z" stroke="rgb(32,32,32)" stroke-width="0.5" fill="#000" fill-opacity="0.03"/>
<path d="M292.7,308.8 L291.8,308.9 L291.1,308.7 L290.6,308.3 L290.3,307.8 L290.1,306.9 L290.2,306.0 L290.4,305.4 L290.8,304.8 L291.2,304.3 L291.8,304.0 L292.7,304.0 L293.3,304.3 L293.7,304.8 L294.0,305.4 L294.2,306.2 L294.2,306.6 L294.0,307.5 L293.6,308.1 L293.3,308.4 L292.7,308.8 L292.7,308.8Z M262.4,346.4 L261.5,346.3 L261.0,345.9 L260.8,345.3 L260.7,344.4 L260.7,343.5 L260.7,342.6 L260.7,341.7 L260.6,340.8 L260.5,340.2 L260.4,339.3 L260.4,338.4 L260.4,337.5 L260.4,336.6 L260.4,335.7 L260.4,334.8 L260.4,333.9 L260.4,333.0 L260.4,332.1 L260.4,331.2 L260.5,330.3 L260.6,329.4 L260.7,328.8 L260.7,327.9 L260.7,327.0 L260.7,326.1 L260.7,325.2 L260.8,324.3 L260.9,323.7 L261.1,322.8 L261.2,322.0 L261.3,321.3 L261.5,320.4 L261.7,319.8 L262.1,319.3 L262.7,319.0 L263.5,319.2 L263.9,319.7 L264.1,320.4 L264.0,321.3 L263.9,322.1 L263.8,322.8 L263.6,323.7 L263.5,324.3 L263.4,325.2 L263.4,326.1 L263.4,327.0 L263.4,327.9 L263.4,328.8 L263.3,329.5 L263.2,330.3 L263.1,331.2 L263.1,332.1 L263.1,333.0 L263.1,333.9 L263.1,334.8 L263.1,335.7 L263.1,336.6 L263.1,337.5 L263.1,338.4 L263.1,339.3 L263.2,340.2 L263.3,340.9 L263.4,341.7 L263.4,342.6 L263.3,343.5 L263.3,344.4 L263.3,345.0 L263.0,345.8 L262.7,346.2 L262.4,346.4Z" stroke="rgb(25,25,25)" stroke-width="0.5" fill="#000" fill-opacity="0.03"/>
<path d="M292.7,308.5 L291.8,308.6 L291.2,308.4 L290.7,307.8 L290.4,307.2 L290.4,306.3 L290.6,305.6 L290.9,305.0 L291.5,304.5 L292.1,304.3 L293.0,304.5 L293.4,304.8 L293.8,305.4 L293.9,306.0 L293.9,306.9 L293.7,307.5 L293.3,308.1 L292.9,308.4 L292.7,308.5Z M262.1,346.2 L261.5,346.1 L261.1,345.6 L260.9,344.7 L260.9,344.1 L260.9,343.2 L260.9,342.3 L260.9,341.4 L260.8,340.5 L260.6,339.6 L260.6,338.8 L260.6,338.1 L260.6,337.2 L260.6,336.3 L260.6,335.4 L260.6,334.5 L260.6,333.6 L260.6,332.7 L260.6,331.8 L260.6,331.2 L260.7,330.3 L260.8,329.4 L260.9,328.5 L260.9,327.6 L260.9,326.7 L260.9,325.8 L260.9,325.2 L261.0,324.3 L261.2,323.4 L261.3,322.8 L261.4,321.9 L261.5,321.3 L261.7,320.4 L262.0,319.8 L262.4,319.3 L263.3,319.4 L263.7,319.8 L263.9,320.7 L263.8,321.6 L263.6,322.5 L263.5,323.1 L263.4,324.0 L263.3,324.6 L263.2,325.5 L263.2,326.4 L263.1,327.3 L263.1,328.2 L263.1,329.1 L263.0,330.0 L262.9,330.6 L262.9,331.5 L262.9,332.4 L262.9,333.3 L262.9,334.2 L262.9,335.1 L262.9,336.0 L262.8,336.9 L262.8,337.8 L262.8,338.7 L262.9,339.6 L263.0,340.4 L263.1,341.1 L263.1,342.0 L263.1,342.9 L263.1,343.8 L263.1,344.7 L263.0,345.3 L262.7,345.9 L262.1,346.2 L262.1,346.2Z" stroke="rgb(18,18,18)" stroke-width="0.5" fill="#000" fill-opacity="0.03"/>
<path d="M292.7,308.2 L291.8,308.3 L291.2,307.9 L290.9,307.5 L290.7,306.6 L290.8,305.7 L291.2,305.1 L291.6,304.8 L292.4,304.6 L293.0,304.8 L293.5,305.4 L293.7,306.0 L293.7,306.9 L293.4,307.5 L293.0,308.0 L292.7,308.2Z M262.4,345.7 L261.5,345.7 L261.2,345.0 L261.2,344.4 L261.1,343.5 L261.1,342.6 L261.1,341.7 L261.1,340.8 L260.9,339.9 L260.9,339.3 L260.8,338.4 L260.8,337.5 L260.8,336.6 L260.8,335.7 L260.8,334.8 L260.8,333.9 L260.8,333.0 L260.8,332.1 L260.9,331.2 L260.9,330.5 L261.0,329.7 L261.1,328.8 L261.1,327.9 L261.1,327.0 L261.1,326.1 L261.2,325.2 L261.2,324.6 L261.4,323.7 L261.5,322.9 L261.6,322.2 L261.8,321.3 L261.9,320.7 L262.1,320.1 L262.7,319.6 L263.3,319.8 L263.6,320.7 L263.6,321.0 L263.4,321.9 L263.3,322.8 L263.2,323.4 L263.0,324.3 L263.0,324.9 L262.9,325.8 L262.9,326.7 L262.9,327.6 L262.9,328.5 L262.8,329.4 L262.7,330.3 L262.6,330.9 L262.6,331.8 L262.6,332.7 L262.6,333.6 L262.6,334.5 L262.6,335.4 L262.6,336.3 L262.6,337.2 L262.6,338.1 L262.6,339.0 L262.7,339.9 L262.8,340.5 L262.9,341.4 L262.9,342.3 L262.9,343.2 L262.9,344.1 L262.8,345.0 L262.5,345.6 L262.4,345.7Z" stroke="rgb(12,12,12)" stroke-width="0.5" fill="#000" fill-opacity="0.03"/>
<path d="M292.4,307.9 L291.7,307.8 L291.2,307.4 L291.0,306.6 L291.2,305.7 L291.5,305.3 L292.1,305.0 L292.8,305.1 L293.3,305.7 L293.4,306.3 L293.3,307.1 L293.0,307.5 L292.4,307.9 L292.4,307.9Z M262.1,345.4 L261.6,345.0 L261.5,344.4 L261.5,343.5 L261.5,342.6 L261.5,341.7 L261.4,340.8 L261.3,339.9 L261.2,339.0 L261.2,338.4 L261.2,337.5 L261.2,336.6 L261.2,335.7 L261.2,334.8 L261.2,333.9 L261.2,333.0 L261.2,332.1 L261.2,331.2 L261.2,330.6 L261.4,329.7 L261.4,328.8 L261.5,327.9 L261.5,327.0 L261.5,326.1 L261.5,325.2 L261.6,324.6 L261.7,323.7 L261.8,323.1 L262.0,322.2 L262.1,321.3 L262.3,320.7 L262.7,320.1 L263.0,320.1 L263.2,321.0 L263.1,321.9 L263.0,322.5 L262.8,323.4 L262.7,324.3 L262.6,324.9 L262.5,325.8 L262.5,326.7 L262.5,327.6 L262.5,328.5 L262.5,329.4 L262.4,330.0 L262.3,330.9 L262.2,331.8 L262.2,332.7 L262.2,333.6 L262.2,334.5 L262.2,335.4 L262.2,336.3 L262.2,337.2 L262.2,338.1 L262.2,339.0 L262.3,339.9 L262.4,340.5 L262.5,341.4 L262.5,342.3 L262.5,343.2 L262.5,344.1 L262.4,345.0 L262.1,345.4 L262.1,345.4Z" stroke="rgb(5,5,5)" stroke-width="0.5" fill="#000" fill-opacity="0.03"/>
</g>
<clipPath id="cl457"><rect x="311.5" y="298.5" width="58.89999999999998" height="59.89999999999998"/></clipPath>
<g clip-path="url(#cl457)" fill="none" stroke-linejoin="round">
<path d="M326.5,348.0 L325.6,348.0 L325.0,347.8 L324.4,347.4 L324.1,347.1 L323.7,346.5 L323.5,345.9 L323.3,345.0 L323.3,344.1 L323.2,343.2 L323.1,342.6 L323.0,341.7 L323.0,340.8 L323.0,339.9 L323.0,339.0 L323.0,338.1 L323.0,337.2 L323.0,336.3 L323.0,335.4 L323.0,334.5 L323.0,333.6 L323.0,332.7 L323.0,331.8 L323.0,330.9 L323.0,330.0 L323.0,329.1 L323.0,328.2 L323.2,327.3 L323.2,326.7 L323.3,325.8 L323.3,324.9 L323.4,324.0 L323.5,323.2 L323.6,322.5 L323.8,321.6 L323.9,321.0 L324.0,320.1 L324.2,319.5 L324.5,318.9 L324.9,318.3 L325.3,318.0 L325.9,317.6 L326.5,317.3 L327.2,317.1 L327.7,316.7 L328.0,316.2 L328.4,315.6 L328.7,315.0 L329.1,314.4 L329.5,314.1 L330.4,313.8 L331.0,313.6 L331.6,313.5 L332.5,313.2 L333.1,313.0 L333.7,312.9 L334.6,312.8 L335.5,312.8 L336.3,312.9 L337.0,313.0 L337.9,313.2 L338.8,313.0 L339.4,312.7 L339.9,312.3 L340.3,312.0 L341.1,311.7 L341.8,311.6 L342.7,311.7 L343.6,311.7 L344.2,311.7 L344.8,311.7 L345.7,311.5 L346.3,311.2 L346.8,310.8 L347.2,310.5 L347.8,310.1 L348.4,309.6 L348.8,309.3 L349.3,308.9 L349.8,308.4 L350.2,308.0 L350.5,307.5 L350.8,306.6 L350.9,306.0 L351.1,305.4 L351.4,304.5 L351.7,303.9 L352.0,303.4 L352.3,303.0 L352.9,302.4 L353.3,302.1 L353.8,301.8 L354.6,301.5 L355.3,301.4 L356.2,301.4 L356.8,301.5 L357.4,301.8 L358.0,302.2 L358.6,302.7 L358.9,303.0 L359.3,303.6 L359.7,304.2 L359.9,304.8 L360.1,305.5 L360.2,306.3 L360.2,307.2 L360.1,308.1 L359.9,308.7 L359.7,309.3 L359.4,309.9 L359.0,310.5 L358.6,310.9 L358.1,311.4 L357.6,311.7 L357.0,312.0 L356.2,312.3 L355.6,312.4 L354.8,312.6 L354.1,312.9 L353.5,313.2 L353.1,313.5 L352.6,313.9 L352.0,314.4 L351.7,314.7 L351.1,315.2 L350.5,315.6 L350.1,315.9 L349.6,316.2 L349.0,316.5 L348.4,316.8 L347.8,317.1 L347.2,317.4 L346.5,317.7 L345.7,318.0 L345.1,318.1 L344.2,318.3 L343.6,318.6 L343.3,318.9 L343.1,319.8 L343.0,320.5 L342.7,321.3 L342.4,321.9 L342.2,322.5 L341.9,323.1 L341.6,323.7 L341.4,324.3 L341.2,324.9 L340.9,325.5 L340.6,326.2 L340.3,326.8 L340.0,327.4 L339.7,328.0 L339.4,328.5 L339.1,329.1 L338.7,329.7 L338.4,330.3 L338.0,330.9 L337.6,331.5 L337.3,332.0 L337.0,332.4 L336.7,333.0 L336.3,333.6 L336.0,334.2 L335.6,334.8 L335.2,335.3 L334.9,335.7 L334.5,336.3 L334.1,336.9 L333.7,337.4 L333.4,337.8 L333.0,338.4 L332.6,339.0 L332.2,339.5 L331.9,339.9 L331.5,340.5 L331.1,341.1 L330.7,341.7 L330.4,342.3 L330.1,342.9 L329.8,343.4 L329.5,344.1 L329.3,344.7 L329.1,345.3 L328.9,345.9 L328.6,346.5 L328.2,347.1 L327.7,347.5 L327.1,347.9 L326.5,348.0 L326.5,348.0Z M355.6,349.8 L354.7,350.1 L353.8,350.0 L353.0,349.8 L352.4,349.5 L352.0,349.2 L351.4,348.6 L351.1,348.2 L350.8,347.7 L350.5,347.0 L350.3,346.2 L350.2,345.3 L350.2,345.0 L350.3,344.1 L350.5,343.3 L350.8,342.6 L351.0,342.0 L351.3,341.4 L351.5,340.8 L351.7,339.9 L351.7,339.3 L351.7,338.4 L351.7,337.5 L351.7,336.6 L351.8,335.7 L351.8,334.8 L351.9,333.9 L352.0,333.2 L352.1,332.4 L352.3,331.6 L352.5,330.9 L352.7,330.3 L353.0,329.7 L353.5,329.2 L354.3,329.4 L354.7,329.9 L355.0,330.6 L355.2,331.2 L355.3,331.8 L355.5,332.7 L355.6,333.3 L355.7,334.2 L355.8,335.1 L355.8,336.0 L355.9,336.9 L355.9,337.8 L355.9,338.4 L356.0,339.3 L356.2,340.1 L356.5,340.7 L356.8,341.1 L357.3,341.7 L357.7,342.2 L358.0,342.7 L358.3,343.4 L358.5,344.1 L358.6,345.0 L358.6,345.9 L358.4,346.8 L358.1,347.4 L357.8,348.0 L357.4,348.6 L357.1,348.9 L356.5,349.4 L355.9,349.7 L355.6,349.8Z" stroke="rgb(102,102,102)" stroke-width="0.5" fill="#000" fill-opacity="0.03"/>
<path d="M326.8,347.7 L325.9,347.8 L325.3,347.7 L324.7,347.4 L324.1,346.8 L323.8,346.2 L323.6,345.6 L323.5,344.7 L323.5,343.8 L323.4,343.2 L323.3,342.3 L323.2,341.4 L323.2,340.5 L323.2,339.6 L323.2,338.7 L323.2,337.8 L323.2,336.9 L323.2,336.0 L323.2,335.1 L323.2,334.2 L323.2,333.3 L323.2,332.4 L323.2,331.5 L323.2,330.6 L323.2,329.7 L323.2,328.8 L323.3,327.9 L323.4,327.0 L323.5,326.4 L323.5,325.5 L323.5,324.6 L323.6,323.7 L323.8,322.8 L323.9,322.2 L324.0,321.3 L324.1,320.7 L324.3,319.8 L324.6,319.2 L325.0,318.6 L325.3,318.3 L325.9,317.8 L326.5,317.6 L327.4,317.4 L328.0,317.3 L328.6,316.8 L328.9,316.3 L329.2,315.7 L329.5,315.3 L330.1,314.8 L330.7,314.6 L331.5,314.4 L332.2,314.2 L332.8,314.0 L333.7,313.8 L334.3,313.7 L335.2,313.7 L336.0,313.8 L336.7,314.0 L337.3,314.1 L338.2,314.2 L339.0,314.1 L339.5,313.8 L339.9,313.2 L340.3,312.7 L340.9,312.3 L341.5,312.1 L342.4,312.1 L343.3,312.1 L344.2,312.1 L345.1,312.1 L345.7,311.9 L346.3,311.7 L346.9,311.3 L347.5,310.8 L348.0,310.5 L348.4,310.2 L349.0,309.7 L349.5,309.3 L349.9,308.9 L350.4,308.4 L350.8,307.8 L351.0,307.2 L351.2,306.6 L351.4,305.8 L351.6,305.1 L351.8,304.5 L352.2,303.9 L352.6,303.3 L352.9,303.0 L353.5,302.5 L354.1,302.2 L354.7,301.9 L355.6,301.8 L356.5,301.9 L357.1,302.2 L357.7,302.5 L358.3,303.0 L358.6,303.3 L359.0,303.9 L359.4,304.5 L359.6,305.1 L359.8,306.0 L359.8,306.6 L359.8,307.5 L359.7,308.1 L359.5,308.7 L359.2,309.4 L358.9,309.9 L358.4,310.5 L358.0,310.9 L357.4,311.3 L356.8,311.6 L356.2,311.8 L355.5,312.0 L354.7,312.2 L354.1,312.4 L353.5,312.7 L352.9,313.1 L352.4,313.5 L352.0,313.9 L351.4,314.4 L351.0,314.7 L350.5,315.1 L349.9,315.5 L349.3,315.9 L348.7,316.2 L348.1,316.5 L347.5,316.8 L346.9,317.1 L346.3,317.3 L345.7,317.5 L344.8,317.7 L344.2,317.7 L343.3,317.7 L342.4,318.0 L342.1,318.6 L342.1,319.2 L342.0,320.1 L341.8,320.7 L341.5,321.5 L341.2,322.1 L340.9,322.8 L340.7,323.4 L340.5,324.0 L340.2,324.6 L340.0,325.2 L339.7,325.8 L339.4,326.5 L339.1,327.1 L338.8,327.7 L338.5,328.2 L338.2,328.8 L337.8,329.4 L337.5,330.0 L337.1,330.6 L336.8,331.2 L336.4,331.8 L336.1,332.3 L335.8,332.8 L335.5,333.4 L335.2,333.9 L334.8,334.5 L334.4,335.1 L334.0,335.6 L333.7,336.0 L333.3,336.6 L332.9,337.2 L332.5,337.8 L332.2,338.2 L331.8,338.7 L331.4,339.3 L331.0,339.9 L330.7,340.3 L330.4,340.8 L330.1,341.4 L329.8,342.0 L329.5,342.6 L329.2,343.4 L329.0,344.1 L328.9,344.7 L328.7,345.6 L328.5,346.2 L328.1,346.8 L327.7,347.2 L327.1,347.6 L326.8,347.7Z M355.0,349.2 L354.1,349.3 L353.5,349.2 L352.9,348.9 L352.3,348.5 L351.8,348.0 L351.4,347.4 L351.2,346.8 L351.0,346.2 L350.9,345.3 L350.9,344.4 L351.1,343.6 L351.3,342.9 L351.6,342.3 L351.8,341.7 L352.0,341.1 L352.2,340.2 L352.2,339.3 L352.2,338.4 L352.2,337.5 L352.2,336.6 L352.3,335.7 L352.3,335.1 L352.4,334.2 L352.6,333.3 L352.7,332.7 L352.9,332.0 L353.2,331.4 L353.8,331.0 L354.4,331.4 L354.7,332.0 L354.9,332.7 L355.0,333.3 L355.2,334.2 L355.3,335.1 L355.3,335.7 L355.4,336.6 L355.4,337.5 L355.4,338.4 L355.4,339.3 L355.6,340.2 L355.8,340.8 L356.2,341.4 L356.5,341.8 L356.9,342.3 L357.3,342.9 L357.6,343.5 L357.8,344.1 L357.9,345.0 L357.8,345.9 L357.7,346.5 L357.4,347.3 L357.1,347.7 L356.6,348.3 L356.2,348.6 L355.6,349.0 L355.0,349.2 L355.0,349.2Z" stroke="rgb(95,95,95)" stroke-width="0.5" fill="#000" fill-opacity="0.03"/>
<path d="M327.1,347.4 L326.2,347.7 L325.3,347.5 L324.7,347.2 L324.3,346.8 L324.0,346.2 L323.8,345.6 L323.7,344.7 L323.6,343.8 L323.5,342.9 L323.5,342.3 L323.4,341.4 L323.4,340.5 L323.4,339.6 L323.4,338.7 L323.4,337.8 L323.4,336.9 L323.4,336.0 L323.4,335.1 L323.4,334.2 L323.4,333.3 L323.4,332.4 L323.4,331.5 L323.4,330.6 L323.4,329.7 L323.4,328.8 L323.5,327.9 L323.5,327.3 L323.6,326.4 L323.7,325.5 L323.7,324.6 L323.8,323.7 L323.9,323.1 L324.0,322.2 L324.1,321.6 L324.3,320.7 L324.4,320.1 L324.7,319.3 L325.0,318.8 L325.5,318.3 L325.9,318.0 L326.8,317.7 L327.4,317.7 L328.0,317.7 L328.9,317.7 L329.2,317.3 L329.5,316.8 L329.9,316.2 L330.4,315.7 L331.0,315.4 L331.6,315.2 L332.5,315.0 L333.1,314.9 L333.8,314.7 L334.6,314.6 L335.5,314.7 L336.1,314.8 L337.0,315.0 L337.6,315.1 L338.5,315.2 L339.3,315.3 L340.0,315.4 L340.5,315.0 L340.4,314.1 L340.6,313.2 L340.9,312.9 L341.5,312.6 L342.4,312.5 L343.3,312.5 L344.2,312.5 L345.1,312.4 L345.7,312.3 L346.4,312.0 L346.9,311.7 L347.5,311.3 L348.1,310.8 L348.5,310.5 L349.0,310.1 L349.6,309.6 L350.0,309.3 L350.5,308.8 L350.8,308.4 L351.1,307.8 L351.4,306.9 L351.5,306.3 L351.7,305.7 L352.0,304.8 L352.3,304.2 L352.6,303.7 L353.0,303.3 L353.5,302.8 L354.1,302.5 L354.7,302.3 L355.6,302.1 L356.5,302.3 L357.1,302.5 L357.7,302.8 L358.2,303.3 L358.6,303.8 L358.9,304.2 L359.2,304.8 L359.5,305.7 L359.6,306.3 L359.6,307.2 L359.5,307.8 L359.2,308.7 L359.0,309.3 L358.6,309.9 L358.3,310.2 L357.7,310.8 L357.2,311.1 L356.5,311.4 L355.9,311.6 L355.3,311.7 L354.4,312.0 L353.8,312.2 L353.2,312.5 L352.6,312.9 L352.2,313.2 L351.7,313.7 L351.2,314.1 L350.8,314.4 L350.2,314.9 L349.6,315.3 L349.1,315.6 L348.5,315.9 L347.9,316.2 L347.3,316.5 L346.7,316.8 L346.0,317.1 L345.4,317.2 L344.5,317.3 L343.6,317.2 L343.0,317.0 L342.4,316.8 L341.5,316.8 L341.3,317.4 L341.1,318.0 L341.1,318.9 L341.0,319.8 L340.9,320.4 L340.6,321.1 L340.3,321.8 L340.0,322.5 L339.8,323.1 L339.6,323.7 L339.4,324.3 L339.1,324.9 L338.8,325.6 L338.5,326.3 L338.2,326.9 L337.9,327.5 L337.6,328.1 L337.3,328.6 L337.0,329.1 L336.7,329.7 L336.3,330.3 L336.0,330.9 L335.6,331.5 L335.3,332.1 L335.0,332.7 L334.6,333.3 L334.3,333.8 L334.0,334.3 L333.6,334.8 L333.2,335.4 L332.8,336.0 L332.5,336.5 L332.2,336.9 L331.8,337.5 L331.4,338.1 L331.0,338.7 L330.7,339.1 L330.4,339.6 L330.0,340.2 L329.6,340.8 L329.4,341.4 L329.1,342.0 L328.9,342.9 L328.9,343.5 L328.7,344.4 L328.6,345.1 L328.4,345.9 L328.1,346.5 L327.7,347.0 L327.1,347.4 L327.1,347.4Z M355.0,348.6 L354.1,348.7 L353.5,348.6 L352.9,348.3 L352.3,347.7 L352.0,347.3 L351.7,346.8 L351.4,345.9 L351.4,345.3 L351.4,344.4 L351.5,343.8 L351.7,343.2 L352.0,342.4 L352.3,341.7 L352.5,341.1 L352.6,340.3 L352.6,339.6 L352.6,338.7 L352.6,337.8 L352.6,336.9 L352.6,336.0 L352.7,335.1 L352.9,334.2 L353.0,333.6 L353.3,333.0 L353.8,332.5 L354.3,333.0 L354.6,333.6 L354.7,334.2 L354.9,335.1 L355.0,336.0 L355.0,336.9 L355.0,337.8 L355.0,338.7 L355.0,339.3 L355.1,340.2 L355.3,340.8 L355.6,341.4 L356.0,342.0 L356.5,342.6 L356.8,343.1 L357.1,343.7 L357.3,344.4 L357.4,345.3 L357.3,346.2 L357.0,346.8 L356.7,347.4 L356.2,348.0 L355.7,348.3 L355.0,348.6 L355.0,348.6Z" stroke="rgb(88,88,88)" stroke-width="0.5" fill="#000" fill-opacity="0.03"/>
<path d="M345.4,316.8 L344.5,316.9 L343.9,316.8 L343.2,316.5 L342.7,316.1 L342.1,315.6 L341.8,315.3 L341.4,314.7 L341.2,314.1 L341.2,313.5 L341.8,313.0 L342.4,312.9 L343.3,312.9 L344.2,312.9 L345.1,312.8 L346.0,312.6 L346.6,312.4 L347.2,312.0 L347.6,311.7 L348.1,311.3 L348.7,310.8 L349.1,310.5 L349.6,310.1 L350.2,309.6 L350.5,309.3 L351.0,308.7 L351.3,308.1 L351.5,307.5 L351.7,306.6 L351.8,306.0 L352.0,305.4 L352.3,304.7 L352.6,304.2 L353.0,303.6 L353.5,303.2 L354.1,302.8 L354.7,302.5 L355.6,302.4 L356.5,302.5 L357.1,302.8 L357.7,303.2 L358.1,303.6 L358.6,304.2 L358.9,304.7 L359.2,305.4 L359.3,306.0 L359.4,306.9 L359.3,307.8 L359.1,308.4 L358.8,309.0 L358.5,309.6 L358.0,310.2 L357.6,310.5 L357.1,310.9 L356.5,311.1 L355.6,311.4 L355.0,311.5 L354.2,311.7 L353.5,311.9 L352.9,312.2 L352.4,312.6 L352.0,312.9 L351.4,313.4 L350.9,313.8 L350.5,314.1 L349.9,314.6 L349.3,315.0 L348.8,315.3 L348.3,315.6 L347.7,315.9 L347.0,316.2 L346.4,316.5 L345.7,316.7 L345.4,316.8Z M326.5,347.5 L325.6,347.5 L325.0,347.2 L324.5,346.8 L324.1,346.2 L323.9,345.6 L323.8,344.7 L323.8,343.9 L323.7,343.2 L323.6,342.3 L323.5,341.4 L323.5,340.5 L323.5,339.6 L323.5,338.7 L323.5,337.8 L323.5,336.9 L323.5,336.0 L323.5,335.1 L323.5,334.2 L323.5,333.3 L323.5,332.4 L323.5,331.5 L323.5,330.6 L323.5,329.7 L323.5,328.8 L323.6,327.9 L323.7,327.0 L323.8,326.3 L323.8,325.5 L323.8,324.6 L323.9,323.7 L324.1,322.8 L324.2,322.2 L324.3,321.3 L324.4,320.7 L324.7,319.8 L324.9,319.2 L325.3,318.7 L325.7,318.3 L326.3,318.0 L327.1,317.9 L327.9,318.0 L328.6,318.3 L329.2,318.6 L329.5,318.6 L330.0,318.0 L330.3,317.4 L330.7,316.9 L331.1,316.5 L331.9,316.2 L332.5,316.0 L333.1,315.9 L334.0,315.7 L334.9,315.7 L335.8,315.8 L336.4,316.0 L337.3,316.2 L337.9,316.3 L338.8,316.5 L339.4,316.7 L339.8,317.1 L340.0,318.0 L340.0,318.9 L339.8,319.8 L339.7,320.4 L339.4,321.1 L339.1,321.8 L338.9,322.5 L338.7,323.1 L338.5,323.7 L338.2,324.4 L337.9,325.1 L337.6,325.8 L337.3,326.4 L337.0,327.0 L336.7,327.6 L336.4,328.2 L336.1,328.8 L335.8,329.3 L335.5,329.8 L335.2,330.3 L334.9,330.9 L334.6,331.5 L334.2,332.1 L333.9,332.7 L333.6,333.3 L333.2,333.9 L332.8,334.5 L332.5,334.9 L332.2,335.4 L331.8,336.0 L331.4,336.6 L331.0,337.2 L330.7,337.6 L330.4,338.1 L330.0,338.7 L329.5,339.3 L329.2,339.9 L329.0,340.5 L328.8,341.1 L328.7,342.0 L328.6,342.9 L328.6,343.5 L328.5,344.4 L328.4,345.3 L328.2,345.9 L327.9,346.5 L327.4,347.1 L326.8,347.4 L326.5,347.5Z M355.0,348.0 L354.1,348.1 L353.5,348.0 L352.9,347.6 L352.4,347.1 L352.1,346.5 L351.9,345.9 L351.8,345.0 L351.9,344.1 L352.1,343.5 L352.3,342.9 L352.6,342.1 L352.9,341.4 L353.1,340.8 L353.2,339.9 L353.2,339.0 L353.1,338.1 L353.1,337.2 L353.1,336.3 L353.2,335.7 L353.4,334.8 L353.8,334.3 L354.2,334.8 L354.4,335.7 L354.5,336.3 L354.5,337.2 L354.5,338.1 L354.4,339.0 L354.5,339.9 L354.7,340.8 L355.0,341.4 L355.3,341.8 L355.6,342.3 L356.1,342.9 L356.5,343.5 L356.7,344.1 L356.9,344.7 L356.9,345.6 L356.7,346.2 L356.5,346.8 L356.0,347.4 L355.6,347.7 L355.0,348.0 L355.0,348.0Z" stroke="rgb(81,81,81)" stroke-width="0.5" fill="#000" fill-opacity="0.03"/>
<path d="M346.0,316.2 L345.1,316.5 L344.2,316.4 L343.6,316.2 L343.0,315.7 L342.5,315.3 L342.1,314.7 L341.9,314.1 L342.1,313.5 L343.0,313.3 L343.9,313.3 L344.8,313.2 L345.4,313.2 L346.3,312.9 L346.9,312.7 L347.4,312.3 L347.8,312.0 L348.4,311.6 L349.0,311.1 L349.4,310.8 L349.9,310.4 L350.5,309.9 L350.8,309.5 L351.2,309.0 L351.4,308.4 L351.7,307.5 L351.8,306.9 L352.0,306.1 L352.2,305.4 L352.5,304.8 L352.8,304.2 L353.2,303.7 L353.7,303.3 L354.2,303.0 L355.0,302.7 L355.6,302.6 L356.2,302.7 L357.0,303.0 L357.5,303.3 L358.0,303.7 L358.4,304.2 L358.7,304.8 L359.0,305.4 L359.1,306.3 L359.2,307.2 L359.0,308.1 L358.8,308.7 L358.5,309.3 L358.0,309.9 L357.7,310.2 L357.1,310.6 L356.5,310.9 L355.9,311.1 L355.0,311.3 L354.4,311.4 L353.5,311.6 L352.9,311.8 L352.3,312.2 L351.7,312.6 L351.4,312.9 L350.8,313.4 L350.3,313.8 L349.9,314.1 L349.3,314.5 L348.7,314.9 L348.1,315.2 L347.5,315.5 L346.9,315.8 L346.3,316.1 L346.0,316.2Z M327.1,347.1 L326.2,347.4 L325.3,347.2 L324.7,346.8 L324.4,346.4 L324.1,345.8 L324.0,345.0 L323.9,344.1 L323.8,343.2 L323.7,342.6 L323.7,341.7 L323.6,340.8 L323.6,339.9 L323.6,339.0 L323.6,338.1 L323.6,337.2 L323.6,336.3 L323.6,335.4 L323.6,334.5 L323.6,333.6 L323.6,332.7 L323.6,331.8 L323.6,330.9 L323.6,330.0 L323.6,329.1 L323.7,328.2 L323.8,327.3 L323.9,326.7 L323.9,325.8 L323.9,324.9 L324.0,324.0 L324.1,323.4 L324.2,322.5 L324.4,321.6 L324.5,321.0 L324.7,320.1 L324.9,319.5 L325.3,318.9 L325.6,318.5 L326.2,318.2 L327.1,318.0 L328.0,318.3 L328.5,318.6 L328.9,319.0 L329.2,319.5 L329.7,320.1 L330.1,319.9 L330.4,319.3 L330.7,318.8 L331.0,318.3 L331.4,317.7 L331.9,317.3 L332.5,317.1 L333.4,316.9 L334.0,316.8 L334.9,316.7 L335.5,316.8 L336.4,317.1 L337.0,317.3 L337.6,317.4 L338.4,317.7 L338.8,318.2 L338.9,318.9 L338.8,319.6 L338.6,320.4 L338.3,321.0 L338.1,321.6 L337.9,322.2 L337.6,323.1 L337.4,323.7 L337.2,324.3 L336.9,324.9 L336.7,325.5 L336.4,326.1 L336.1,326.7 L335.8,327.3 L335.5,327.9 L335.2,328.5 L334.8,329.1 L334.5,329.7 L334.2,330.3 L333.9,330.9 L333.6,331.5 L333.2,332.1 L332.9,332.7 L332.5,333.3 L332.2,333.8 L331.9,334.3 L331.6,334.8 L331.2,335.4 L330.8,336.0 L330.4,336.5 L330.1,337.0 L329.7,337.5 L329.2,338.0 L328.9,338.5 L328.6,339.3 L328.6,339.9 L328.5,340.8 L328.4,341.7 L328.4,342.6 L328.4,343.5 L328.4,344.4 L328.3,345.1 L328.1,345.9 L327.8,346.5 L327.4,346.9 L327.1,347.1Z M355.0,347.5 L354.1,347.6 L353.5,347.4 L352.9,347.0 L352.6,346.5 L352.3,345.7 L352.2,345.0 L352.3,344.2 L352.5,343.5 L352.7,342.9 L353.0,342.3 L353.4,341.7 L353.8,341.3 L354.4,341.6 L354.8,342.0 L355.3,342.6 L355.6,343.0 L356.0,343.5 L356.2,344.1 L356.4,345.0 L356.3,345.9 L356.1,346.5 L355.6,347.1 L355.2,347.4 L355.0,347.5Z" stroke="rgb(74,74,74)" stroke-width="0.5" fill="#000" fill-opacity="0.03"/>
<path d="M345.7,315.6 L344.8,315.8 L343.9,315.6 L343.4,315.3 L343.0,314.7 L343.0,314.1 L343.6,313.9 L344.5,313.9 L345.4,313.8 L346.0,313.7 L346.7,313.5 L347.2,313.2 L347.8,312.8 L348.4,312.4 L348.9,312.0 L349.3,311.7 L349.9,311.2 L350.4,310.8 L350.8,310.4 L351.2,309.9 L351.4,309.3 L351.7,308.5 L351.8,307.8 L352.0,307.0 L352.1,306.3 L352.3,305.7 L352.6,305.0 L352.9,304.4 L353.3,303.9 L353.8,303.5 L354.4,303.1 L355.0,302.9 L355.9,302.9 L356.5,303.0 L357.1,303.3 L357.7,303.7 L358.1,304.2 L358.5,304.8 L358.8,305.4 L358.9,306.0 L359.0,306.9 L358.9,307.7 L358.7,308.4 L358.4,309.0 L358.0,309.6 L357.7,309.9 L357.1,310.4 L356.5,310.7 L355.9,310.9 L355.0,311.1 L354.4,311.2 L353.5,311.3 L352.8,311.4 L352.0,311.7 L351.5,312.0 L351.1,312.3 L350.5,312.8 L350.0,313.2 L349.6,313.5 L349.0,313.9 L348.4,314.3 L347.8,314.7 L347.2,315.0 L346.6,315.3 L346.0,315.5 L345.7,315.6Z M330.4,334.4 L329.8,333.9 L329.7,333.3 L329.7,332.4 L329.7,331.5 L329.7,330.6 L329.8,329.7 L329.8,328.8 L329.8,328.2 L329.9,327.3 L330.1,326.5 L330.2,325.8 L330.4,325.0 L330.5,324.3 L330.7,323.4 L330.8,322.8 L331.0,321.9 L331.1,321.3 L331.3,320.4 L331.6,319.8 L331.9,319.2 L332.2,318.8 L332.8,318.3 L333.4,318.1 L334.3,318.0 L334.9,318.0 L335.5,318.1 L336.2,318.3 L337.0,318.6 L337.3,318.9 L337.5,319.8 L337.3,320.4 L337.0,321.3 L336.8,321.9 L336.6,322.5 L336.4,323.2 L336.1,324.0 L335.9,324.6 L335.6,325.2 L335.3,325.8 L335.0,326.4 L334.8,327.0 L334.5,327.6 L334.1,328.2 L333.8,328.8 L333.5,329.4 L333.2,330.0 L332.9,330.6 L332.6,331.2 L332.3,331.8 L331.9,332.4 L331.6,332.9 L331.3,333.3 L330.8,333.9 L330.4,334.4 L330.4,334.4Z M326.8,347.1 L325.9,347.3 L325.3,347.1 L324.7,346.6 L324.4,346.2 L324.1,345.3 L324.1,344.7 L324.0,343.8 L323.9,342.9 L323.8,342.0 L323.8,341.4 L323.7,340.5 L323.7,339.6 L323.7,338.7 L323.7,337.8 L323.7,336.9 L323.7,336.0 L323.7,335.1 L323.7,334.2 L323.7,333.3 L323.7,332.4 L323.7,331.5 L323.7,330.6 L323.7,329.7 L323.8,328.8 L323.8,328.2 L323.9,327.3 L324.0,326.4 L324.0,325.5 L324.1,324.6 L324.1,324.0 L324.3,323.1 L324.4,322.3 L324.5,321.6 L324.7,320.7 L324.8,320.1 L325.0,319.5 L325.4,318.9 L325.9,318.5 L326.5,318.2 L327.4,318.2 L328.0,318.5 L328.5,318.9 L328.9,319.5 L329.1,320.1 L329.1,321.0 L329.1,321.9 L328.9,322.8 L328.8,323.4 L328.7,324.3 L328.6,325.1 L328.6,325.7 L328.6,326.4 L328.6,327.0 L328.5,327.9 L328.4,328.8 L328.3,329.7 L328.4,330.6 L328.4,331.5 L328.4,332.4 L328.4,333.3 L328.4,334.2 L328.4,335.1 L328.4,336.0 L328.4,336.9 L328.3,337.8 L328.3,338.4 L328.2,339.3 L328.2,340.2 L328.2,341.1 L328.2,342.0 L328.3,342.9 L328.3,343.8 L328.2,344.7 L328.1,345.6 L327.8,346.2 L327.4,346.7 L326.9,347.1 L326.8,347.1Z M355.0,346.8 L354.1,347.0 L353.5,346.8 L353.0,346.2 L352.8,345.6 L352.7,344.7 L352.9,343.8 L353.1,343.2 L353.5,342.7 L354.1,342.4 L354.7,342.8 L355.1,343.2 L355.5,343.8 L355.8,344.4 L355.9,345.0 L355.9,345.6 L355.6,346.3 L355.1,346.8 L355.0,346.8Z" stroke="rgb(67,67,67)" stroke-width="0.5" fill="#000" fill-opacity="0.03"/>
<path d="M355.3,310.9 L354.4,311.0 L353.5,311.0 L352.6,310.9 L352.0,310.6 L351.8,309.9 L351.9,309.0 L352.0,308.1 L352.1,307.5 L352.2,306.6 L352.4,306.0 L352.6,305.4 L352.9,304.7 L353.3,304.2 L353.8,303.7 L354.4,303.3 L355.0,303.1 L355.9,303.1 L356.7,303.3 L357.3,303.6 L357.7,304.0 L358.1,304.5 L358.5,305.1 L358.7,305.7 L358.8,306.6 L358.8,307.5 L358.6,308.2 L358.3,308.9 L358.0,309.3 L357.5,309.9 L357.1,310.2 L356.5,310.5 L355.6,310.8 L355.3,310.9Z M326.5,347.1 L325.6,347.1 L325.0,346.8 L324.7,346.5 L324.4,345.9 L324.2,345.0 L324.1,344.1 L324.1,343.5 L324.0,342.6 L323.9,341.7 L323.8,340.8 L323.8,339.9 L323.8,339.0 L323.8,338.1 L323.8,337.2 L323.8,336.3 L323.8,335.4 L323.8,334.5 L323.8,333.6 L323.8,332.7 L323.8,331.8 L323.8,330.9 L323.8,330.0 L323.9,329.1 L323.9,328.2 L324.0,327.3 L324.1,326.6 L324.1,325.8 L324.2,324.9 L324.2,324.0 L324.4,323.1 L324.5,322.5 L324.6,321.6 L324.7,321.0 L324.9,320.1 L325.1,319.5 L325.6,318.9 L325.9,318.6 L326.6,318.3 L327.2,318.3 L328.0,318.6 L328.3,318.9 L328.7,319.5 L328.9,320.4 L328.9,321.3 L328.8,322.2 L328.6,323.1 L328.5,323.7 L328.4,324.6 L328.4,325.5 L328.4,326.4 L328.3,327.0 L328.2,327.9 L328.1,328.8 L328.1,329.7 L328.1,330.6 L328.1,331.5 L328.1,332.4 L328.1,333.3 L328.1,334.2 L328.1,335.1 L328.1,336.0 L328.1,336.9 L328.1,337.8 L328.0,338.7 L328.0,339.6 L328.0,340.3 L328.0,341.1 L328.0,341.7 L328.1,342.6 L328.1,343.5 L328.1,344.4 L328.0,345.3 L327.9,345.9 L327.5,346.5 L327.1,346.9 L326.5,347.1 L326.5,347.1Z M331.3,330.3 L331.1,329.7 L331.1,328.8 L331.1,327.9 L331.3,327.0 L331.4,326.4 L331.6,325.5 L331.7,324.9 L331.9,324.0 L332.0,323.4 L332.2,322.5 L332.3,321.9 L332.5,321.0 L332.7,320.4 L333.1,319.9 L333.5,319.5 L334.3,319.3 L335.2,319.3 L335.8,319.6 L336.1,320.4 L335.9,321.3 L335.7,321.9 L335.5,322.5 L335.2,323.4 L335.0,324.0 L334.7,324.6 L334.5,325.2 L334.2,325.8 L333.9,326.4 L333.6,327.0 L333.3,327.6 L333.0,328.2 L332.6,328.8 L332.3,329.4 L331.9,329.9 L331.3,330.3 L331.3,330.3Z M354.7,346.3 L353.8,346.2 L353.5,345.9 L353.2,345.2 L353.2,344.6 L353.5,343.8 L353.8,343.4 L354.5,343.5 L355.0,344.0 L355.3,344.6 L355.3,345.3 L355.1,345.9 L354.7,346.3 L354.7,346.3Z" stroke="rgb(60,60,60)" stroke-width="0.5" fill="#000" fill-opacity="0.03"/>
<path d="M355.9,310.5 L355.0,310.7 L354.1,310.7 L353.2,310.5 L352.6,310.2 L352.3,309.6 L352.2,309.0 L352.2,308.1 L352.3,307.2 L352.4,306.6 L352.6,305.8 L352.9,305.1 L353.2,304.6 L353.5,304.2 L354.1,303.7 L354.7,303.4 L355.3,303.3 L356.1,303.3 L356.8,303.5 L357.4,303.9 L357.7,304.2 L358.1,304.8 L358.4,305.4 L358.6,306.0 L358.7,306.9 L358.6,307.6 L358.4,308.4 L358.0,309.0 L357.7,309.4 L357.2,309.9 L356.7,310.2 L356.0,310.5 L355.9,310.5Z M326.8,346.9 L325.9,347.1 L325.2,346.8 L324.7,346.3 L324.4,345.6 L324.3,345.0 L324.2,344.1 L324.2,343.2 L324.1,342.6 L324.0,341.7 L323.9,340.8 L323.9,339.9 L323.9,339.0 L323.9,338.1 L323.9,337.2 L323.9,336.3 L323.9,335.4 L323.9,334.5 L323.9,333.6 L323.9,332.7 L323.9,331.8 L323.9,330.9 L323.9,330.0 L323.9,329.1 L324.0,328.2 L324.1,327.4 L324.2,326.7 L324.2,325.8 L324.3,324.9 L324.3,324.0 L324.4,323.4 L324.6,322.5 L324.7,321.7 L324.8,321.0 L325.0,320.2 L325.3,319.5 L325.6,319.0 L326.1,318.6 L326.8,318.4 L327.7,318.6 L328.1,318.9 L328.5,319.5 L328.7,320.1 L328.7,321.0 L328.6,321.9 L328.5,322.5 L328.4,323.4 L328.3,324.0 L328.2,324.9 L328.2,325.8 L328.2,326.7 L328.0,327.6 L327.9,328.2 L327.9,329.1 L327.9,330.0 L327.9,330.9 L327.9,331.8 L327.9,332.7 L327.9,333.6 L327.9,334.5 L327.9,335.4 L327.9,336.3 L327.9,337.2 L327.9,338.1 L327.9,339.0 L327.9,339.9 L327.8,340.8 L327.9,341.7 L327.9,342.6 L328.0,343.3 L328.0,344.1 L328.0,344.7 L327.8,345.6 L327.6,346.2 L327.1,346.7 L326.8,346.9Z" stroke="rgb(53,53,53)" stroke-width="0.5" fill="#000" fill-opacity="0.03"/>
<path d="M356.2,310.2 L355.3,310.5 L354.4,310.5 L353.5,310.3 L353.0,309.9 L352.6,309.3 L352.5,308.7 L352.4,307.8 L352.5,306.9 L352.6,306.3 L352.9,305.5 L353.2,304.9 L353.5,304.5 L354.1,303.9 L354.7,303.6 L355.3,303.5 L356.2,303.5 L356.8,303.8 L357.4,304.2 L357.7,304.5 L358.1,305.1 L358.3,305.7 L358.5,306.6 L358.5,307.5 L358.3,308.1 L358.0,308.7 L357.6,309.3 L357.1,309.7 L356.5,310.1 L356.2,310.2Z M326.5,346.9 L325.6,346.9 L325.0,346.5 L324.7,346.1 L324.4,345.3 L324.4,344.7 L324.3,343.8 L324.2,342.9 L324.1,342.0 L324.1,341.4 L324.1,340.5 L324.1,339.6 L324.1,338.7 L324.1,337.8 L324.1,336.9 L324.1,336.0 L324.1,335.1 L324.1,334.2 L324.1,333.3 L324.1,332.4 L324.1,331.5 L324.1,330.6 L324.1,329.7 L324.1,328.8 L324.1,328.2 L324.2,327.3 L324.3,326.4 L324.4,325.5 L324.4,324.6 L324.4,324.0 L324.6,323.1 L324.7,322.4 L324.8,321.6 L325.0,320.7 L325.1,320.1 L325.4,319.5 L325.9,318.9 L326.4,318.6 L327.1,318.5 L327.7,318.8 L328.1,319.2 L328.4,319.8 L328.5,320.7 L328.5,321.6 L328.4,322.5 L328.3,323.1 L328.1,324.0 L328.0,324.9 L328.0,325.5 L328.0,326.4 L327.9,327.3 L327.8,328.2 L327.7,329.1 L327.7,329.7 L327.7,330.6 L327.7,331.5 L327.7,332.3 L327.7,333.0 L327.7,333.9 L327.7,334.8 L327.7,335.7 L327.7,336.6 L327.7,337.5 L327.7,338.1 L327.7,339.0 L327.7,339.9 L327.7,340.8 L327.7,341.7 L327.8,342.3 L327.9,343.2 L327.9,344.1 L327.8,345.0 L327.7,345.6 L327.4,346.2 L326.8,346.8 L326.5,346.9Z" stroke="rgb(46,46,46)" stroke-width="0.5" fill="#000" fill-opacity="0.03"/>
<path d="M355.3,310.2 L354.4,310.2 L353.8,310.0 L353.2,309.6 L352.9,309.1 L352.7,308.4 L352.6,307.5 L352.7,306.6 L352.9,306.0 L353.2,305.3 L353.5,304.8 L354.1,304.2 L354.6,303.9 L355.3,303.7 L356.2,303.7 L356.8,304.0 L357.4,304.5 L357.7,304.8 L358.0,305.4 L358.3,306.3 L358.3,306.9 L358.3,307.5 L358.0,308.3 L357.7,308.8 L357.3,309.3 L356.8,309.7 L356.2,310.0 L355.6,310.2 L355.3,310.2Z M326.8,346.6 L325.9,346.8 L325.2,346.5 L324.8,345.9 L324.6,345.3 L324.5,344.4 L324.4,343.5 L324.4,342.9 L324.2,342.0 L324.2,341.1 L324.2,340.2 L324.2,339.3 L324.2,338.4 L324.2,337.5 L324.2,336.6 L324.2,335.7 L324.2,334.8 L324.2,333.9 L324.2,333.0 L324.2,332.1 L324.2,331.2 L324.2,330.3 L324.2,329.4 L324.2,328.5 L324.3,327.6 L324.4,327.0 L324.5,326.1 L324.5,325.2 L324.5,324.3 L324.7,323.4 L324.8,322.8 L324.9,321.9 L325.0,321.3 L325.2,320.4 L325.4,319.8 L325.8,319.2 L326.2,318.8 L327.1,318.7 L327.7,319.0 L328.1,319.5 L328.3,320.1 L328.4,321.0 L328.3,321.9 L328.2,322.5 L328.1,323.4 L328.0,324.0 L327.9,324.9 L327.8,325.8 L327.8,326.7 L327.7,327.4 L327.6,328.2 L327.5,329.1 L327.5,330.0 L327.5,330.9 L327.5,331.8 L327.5,332.7 L327.5,333.6 L327.5,334.5 L327.5,335.4 L327.5,336.3 L327.5,337.2 L327.5,338.1 L327.5,339.0 L327.5,339.9 L327.5,340.8 L327.5,341.7 L327.6,342.6 L327.7,343.2 L327.7,344.1 L327.7,344.9 L327.6,345.6 L327.3,346.2 L326.8,346.6 L326.8,346.6Z" stroke="rgb(39,39,39)" stroke-width="0.5" fill="#000" fill-opacity="0.03"/>
<path d="M355.6,310.0 L354.7,310.0 L354.1,309.8 L353.5,309.4 L353.2,309.0 L352.9,308.1 L352.9,307.5 L352.9,306.9 L353.1,306.0 L353.4,305.4 L353.8,304.8 L354.1,304.5 L354.7,304.1 L355.5,303.9 L355.9,303.9 L356.7,304.2 L357.1,304.5 L357.6,305.1 L357.9,305.7 L358.1,306.3 L358.1,307.2 L358.0,307.8 L357.7,308.5 L357.3,309.0 L356.8,309.5 L356.2,309.8 L355.6,310.0 L355.6,310.0Z M326.5,346.6 L325.6,346.5 L325.1,346.2 L324.8,345.6 L324.7,345.0 L324.6,344.1 L324.5,343.2 L324.4,342.3 L324.4,341.7 L324.3,340.8 L324.3,339.9 L324.3,339.0 L324.3,338.1 L324.3,337.2 L324.3,336.3 L324.3,335.4 L324.3,334.5 L324.3,333.6 L324.3,332.7 L324.3,331.8 L324.3,330.9 L324.3,330.0 L324.3,329.1 L324.4,328.2 L324.4,327.6 L324.6,326.7 L324.6,325.8 L324.6,324.9 L324.7,324.1 L324.8,323.4 L324.9,322.5 L325.0,321.9 L325.2,321.0 L325.3,320.4 L325.6,319.7 L326.0,319.2 L326.5,318.9 L327.2,318.9 L327.7,319.2 L328.1,319.8 L328.2,320.7 L328.2,321.6 L328.0,322.5 L327.9,323.1 L327.8,324.0 L327.7,324.6 L327.7,325.5 L327.6,326.4 L327.6,327.3 L327.4,328.2 L327.4,328.8 L327.4,329.7 L327.4,330.6 L327.4,331.5 L327.4,332.4 L327.4,333.3 L327.4,334.2 L327.4,335.1 L327.4,336.0 L327.4,336.9 L327.4,337.8 L327.4,338.7 L327.3,339.6 L327.3,340.5 L327.4,341.4 L327.4,342.0 L327.5,342.9 L327.6,343.8 L327.6,344.7 L327.4,345.6 L327.1,346.2 L326.7,346.5 L326.5,346.6Z" stroke="rgb(32,32,32)" stroke-width="0.5" fill="#000" fill-opacity="0.03"/>
<path d="M355.9,309.6 L355.0,309.7 L354.4,309.6 L353.8,309.2 L353.4,308.7 L353.2,308.1 L353.1,307.2 L353.2,306.5 L353.5,305.7 L353.8,305.1 L354.1,304.8 L354.7,304.4 L355.3,304.2 L356.0,304.2 L356.7,304.5 L357.1,304.8 L357.6,305.4 L357.8,306.0 L357.9,306.9 L357.8,307.8 L357.5,308.4 L357.1,308.9 L356.6,309.3 L356.0,309.6 L355.9,309.6Z M326.5,346.4 L325.6,346.3 L325.1,345.9 L324.9,345.3 L324.8,344.4 L324.7,343.5 L324.7,342.9 L324.5,342.0 L324.5,341.1 L324.5,340.2 L324.5,339.3 L324.5,338.4 L324.5,337.5 L324.5,336.6 L324.5,335.7 L324.5,334.8 L324.5,333.9 L324.5,333.0 L324.5,332.1 L324.5,331.2 L324.5,330.3 L324.5,329.4 L324.5,328.5 L324.6,327.6 L324.7,327.0 L324.8,326.1 L324.8,325.2 L324.8,324.3 L325.0,323.4 L325.1,322.8 L325.2,321.9 L325.3,321.3 L325.5,320.4 L325.7,319.8 L326.2,319.2 L326.8,319.0 L327.4,319.2 L327.9,319.8 L328.0,320.4 L328.0,321.3 L327.9,321.9 L327.8,322.8 L327.7,323.4 L327.6,324.3 L327.5,325.2 L327.5,326.1 L327.4,327.0 L327.3,327.6 L327.2,328.5 L327.2,329.4 L327.2,330.3 L327.2,331.2 L327.2,332.1 L327.2,333.0 L327.2,333.9 L327.2,334.8 L327.2,335.7 L327.2,336.6 L327.2,337.5 L327.2,338.4 L327.2,339.3 L327.2,340.2 L327.2,341.1 L327.2,342.0 L327.3,342.9 L327.4,343.5 L327.4,344.4 L327.4,345.0 L327.1,345.8 L326.8,346.2 L326.5,346.4Z" stroke="rgb(25,25,25)" stroke-width="0.5" fill="#000" fill-opacity="0.03"/>
<path d="M355.9,309.3 L355.0,309.4 L354.4,309.2 L353.8,308.7 L353.5,308.1 L353.4,307.5 L353.4,306.6 L353.6,306.0 L353.9,305.4 L354.4,304.9 L355.0,304.5 L355.6,304.4 L356.2,304.6 L356.8,304.9 L357.2,305.4 L357.5,306.0 L357.7,306.9 L357.5,307.8 L357.2,308.4 L356.8,308.8 L356.2,309.2 L355.9,309.3Z M326.2,346.2 L325.6,346.1 L325.2,345.6 L325.0,344.7 L325.0,344.1 L324.9,343.2 L324.8,342.3 L324.7,341.4 L324.7,340.8 L324.7,339.9 L324.7,339.0 L324.7,338.1 L324.7,337.2 L324.7,336.3 L324.7,335.4 L324.7,334.5 L324.7,333.6 L324.7,332.7 L324.7,331.8 L324.7,330.9 L324.7,330.0 L324.7,329.1 L324.7,328.5 L324.8,327.6 L324.9,326.7 L325.0,325.8 L325.0,324.9 L325.0,324.3 L325.2,323.4 L325.3,322.6 L325.4,321.9 L325.6,321.0 L325.7,320.4 L326.0,319.8 L326.5,319.3 L327.4,319.5 L327.7,320.1 L327.8,320.7 L327.8,321.6 L327.7,322.2 L327.5,323.1 L327.4,323.8 L327.3,324.6 L327.3,325.5 L327.2,326.4 L327.1,327.3 L327.0,327.9 L327.0,328.8 L327.0,329.7 L327.0,330.6 L327.0,331.5 L327.0,332.4 L327.0,333.3 L327.0,334.2 L327.0,335.1 L327.0,336.0 L327.0,336.9 L327.0,337.8 L326.9,338.7 L326.9,339.6 L326.9,340.5 L327.0,341.4 L327.0,342.3 L327.1,342.9 L327.2,343.8 L327.2,344.7 L327.1,345.3 L326.8,345.9 L326.2,346.2 L326.2,346.2Z" stroke="rgb(18,18,18)" stroke-width="0.5" fill="#000" fill-opacity="0.03"/>
<path d="M355.9,309.0 L355.0,309.1 L354.4,308.8 L354.0,308.4 L353.8,307.8 L353.7,306.9 L353.8,306.2 L354.1,305.6 L354.6,305.1 L355.2,304.8 L355.9,304.8 L356.5,305.1 L356.9,305.4 L357.3,306.0 L357.4,306.6 L357.4,307.2 L357.1,308.0 L356.8,308.4 L356.2,308.9 L355.9,309.0Z M326.5,345.7 L325.6,345.7 L325.3,345.0 L325.2,344.4 L325.2,343.5 L325.1,342.6 L325.0,342.0 L325.0,341.1 L324.9,340.2 L324.9,339.3 L324.9,338.4 L324.9,337.5 L324.9,336.6 L324.9,335.7 L324.9,334.8 L324.9,333.9 L324.9,333.0 L324.9,332.1 L324.9,331.2 L324.9,330.3 L324.9,329.4 L325.0,328.5 L325.0,327.9 L325.1,327.0 L325.2,326.1 L325.2,325.2 L325.3,324.3 L325.4,323.7 L325.5,322.8 L325.6,322.2 L325.8,321.3 L325.9,320.7 L326.2,320.0 L326.8,319.6 L327.4,320.1 L327.5,320.7 L327.5,321.6 L327.4,322.2 L327.2,323.1 L327.1,324.0 L327.0,324.6 L327.0,325.5 L327.0,326.4 L326.9,327.3 L326.8,327.9 L326.7,328.8 L326.7,329.7 L326.7,330.6 L326.7,331.5 L326.7,332.4 L326.7,333.3 L326.7,334.2 L326.7,335.1 L326.7,336.0 L326.7,336.9 L326.7,337.8 L326.7,338.7 L326.7,339.6 L326.7,340.5 L326.7,341.4 L326.8,342.3 L326.8,342.9 L326.9,343.8 L326.9,344.7 L326.8,345.3 L326.5,345.7Z" stroke="rgb(12,12,12)" stroke-width="0.5" fill="#000" fill-opacity="0.03"/>
<path d="M355.6,308.7 L355.0,308.7 L354.4,308.3 L354.1,307.8 L354.0,306.9 L354.1,306.3 L354.4,305.7 L355.0,305.2 L355.6,305.1 L356.2,305.2 L356.7,305.7 L357.0,306.3 L357.1,306.9 L357.0,307.5 L356.7,308.1 L356.2,308.5 L355.6,308.7 L355.6,308.7Z M326.2,345.4 L325.7,345.0 L325.6,344.4 L325.5,343.5 L325.4,342.6 L325.3,341.7 L325.3,341.1 L325.3,340.2 L325.3,339.3 L325.3,338.4 L325.3,337.5 L325.3,336.6 L325.3,335.7 L325.3,334.8 L325.3,333.9 L325.3,333.0 L325.3,332.1 L325.3,331.2 L325.3,330.3 L325.3,329.4 L325.3,328.5 L325.4,327.9 L325.5,327.0 L325.5,326.1 L325.6,325.2 L325.6,324.5 L325.7,323.7 L325.9,322.8 L326.0,322.2 L326.1,321.3 L326.3,320.7 L326.8,320.2 L327.1,320.7 L327.1,321.6 L327.0,322.2 L326.9,323.1 L326.8,323.7 L326.7,324.6 L326.6,325.5 L326.6,326.4 L326.5,327.3 L326.4,327.9 L326.3,328.8 L326.3,329.7 L326.3,330.6 L326.3,331.5 L326.3,332.4 L326.3,333.3 L326.3,334.2 L326.3,335.1 L326.3,336.0 L326.3,336.9 L326.3,337.8 L326.3,338.7 L326.3,339.6 L326.3,340.5 L326.3,341.4 L326.4,342.3 L326.5,342.9 L326.6,343.8 L326.6,344.7 L326.3,345.3 L326.2,345.4Z" stroke="rgb(5,5,5)" stroke-width="0.5" fill="#000" fill-opacity="0.03"/>
</g>
<clipPath id="cl475"><rect x="377.2" y="298.5" width="59.80000000000001" height="59.89999999999998"/></clipPath>
<g clip-path="url(#cl475)" fill="none" stroke-linejoin="round">
<path d="M391.6,348.1 L390.7,348.1 L390.1,347.9 L389.5,347.6 L389.0,347.1 L388.6,346.5 L388.4,345.9 L388.2,345.3 L388.1,344.4 L388.1,343.5 L388.1,342.6 L388.1,341.7 L388.1,340.8 L388.1,339.9 L388.1,339.0 L388.0,338.1 L387.9,337.5 L387.8,336.6 L387.8,335.7 L387.8,334.8 L387.8,333.9 L387.9,333.0 L388.0,332.2 L388.1,331.5 L388.1,330.6 L388.1,329.7 L388.1,328.8 L388.1,327.9 L388.1,327.0 L388.1,326.1 L388.2,325.2 L388.3,324.6 L388.4,323.7 L388.6,322.9 L388.7,322.2 L388.9,321.3 L389.0,320.7 L389.1,319.8 L389.2,319.2 L389.4,318.3 L389.5,317.7 L389.8,317.0 L390.1,316.5 L390.7,316.0 L391.3,315.7 L391.9,315.5 L392.8,315.3 L393.4,315.0 L393.7,314.7 L394.2,314.1 L394.7,313.8 L395.5,313.5 L396.1,313.2 L396.7,313.0 L397.3,312.8 L397.9,312.6 L398.7,312.3 L399.4,312.1 L400.3,312.1 L400.9,312.0 L401.8,311.9 L402.7,311.9 L403.6,311.8 L404.2,311.6 L404.8,311.2 L405.3,310.8 L405.7,310.5 L406.4,310.2 L407.2,309.9 L407.8,309.8 L408.5,309.6 L409.3,309.4 L409.9,309.2 L410.5,308.9 L411.1,308.5 L411.7,308.1 L412.0,307.8 L412.6,307.3 L413.1,306.9 L413.5,306.6 L414.1,306.1 L414.6,305.7 L415.0,305.4 L415.6,304.9 L416.0,304.5 L416.5,304.1 L417.1,303.6 L417.4,303.3 L418.0,302.8 L418.4,302.4 L418.9,302.0 L419.5,301.5 L419.9,301.2 L420.4,300.9 L421.0,300.6 L421.8,300.3 L422.5,300.2 L423.2,300.3 L423.8,300.6 L424.3,301.0 L424.7,301.5 L425.1,302.1 L425.3,302.7 L425.4,303.6 L425.5,304.5 L425.4,305.4 L425.2,306.2 L425.0,306.9 L424.7,307.5 L424.3,308.0 L423.9,308.4 L423.4,308.8 L422.8,309.0 L421.9,309.2 L421.2,309.3 L420.5,309.6 L420.0,309.9 L419.5,310.3 L418.9,310.7 L418.3,311.1 L417.9,311.4 L417.4,311.8 L416.8,312.2 L416.4,312.6 L415.9,313.0 L415.4,313.5 L415.0,313.8 L414.4,314.3 L414.0,314.7 L413.5,315.1 L413.0,315.6 L412.6,315.9 L412.0,316.3 L411.4,316.6 L410.8,316.9 L410.3,317.4 L410.1,318.0 L409.9,318.9 L409.8,319.5 L409.6,320.2 L409.4,321.0 L409.2,321.6 L409.0,322.5 L408.8,323.1 L408.7,323.7 L408.4,324.6 L408.1,325.2 L407.9,325.8 L407.6,326.4 L407.3,327.0 L407.0,327.6 L406.7,328.2 L406.5,328.8 L406.2,329.4 L405.9,330.0 L405.6,330.6 L405.2,331.2 L404.8,331.7 L404.5,332.1 L404.1,332.7 L403.7,333.3 L403.3,333.8 L403.0,334.2 L402.5,334.8 L402.1,335.4 L401.8,335.8 L401.5,336.3 L401.0,336.9 L400.6,337.5 L400.3,337.8 L399.8,338.4 L399.4,338.9 L399.1,339.3 L398.6,339.9 L398.2,340.4 L397.9,340.8 L397.4,341.4 L397.0,341.9 L396.6,342.3 L396.1,342.9 L395.8,343.3 L395.4,343.8 L394.9,344.3 L394.6,344.7 L394.2,345.3 L393.8,345.9 L393.6,346.5 L393.2,347.1 L392.8,347.5 L392.2,347.9 L391.6,348.1 L391.6,348.1Z" stroke="rgb(102,102,102)" stroke-width="0.5" fill="#000" fill-opacity="0.03"/>
<path d="M391.9,347.7 L391.0,347.9 L390.2,347.7 L389.6,347.4 L389.2,347.0 L388.9,346.5 L388.6,345.8 L388.4,345.0 L388.3,344.1 L388.3,343.2 L388.3,342.3 L388.3,341.4 L388.3,340.5 L388.3,339.6 L388.3,338.7 L388.2,338.1 L388.1,337.2 L388.0,336.3 L388.0,335.4 L388.0,334.5 L388.0,333.6 L388.1,332.7 L388.3,331.8 L388.3,331.2 L388.3,330.3 L388.3,329.4 L388.3,328.5 L388.3,327.6 L388.3,326.7 L388.4,325.8 L388.5,324.9 L388.6,324.3 L388.7,323.4 L388.9,322.5 L389.0,321.9 L389.1,321.0 L389.2,320.4 L389.4,319.5 L389.5,318.9 L389.6,318.0 L389.9,317.4 L390.2,316.8 L390.7,316.3 L391.3,315.9 L391.9,315.7 L392.8,315.6 L393.6,315.6 L394.1,315.3 L394.6,314.8 L395.2,314.4 L395.8,314.2 L396.4,314.0 L397.0,313.7 L397.7,313.5 L398.5,313.2 L399.1,313.1 L400.0,312.9 L400.7,312.9 L401.5,312.8 L402.4,312.8 L403.3,312.8 L404.2,312.7 L404.7,312.3 L405.1,311.7 L405.4,311.4 L406.0,310.9 L406.6,310.6 L407.2,310.4 L407.9,310.2 L408.7,310.0 L409.3,309.8 L410.0,309.6 L410.7,309.3 L411.2,309.0 L411.7,308.6 L412.3,308.1 L412.7,307.8 L413.2,307.4 L413.8,306.9 L414.2,306.6 L414.7,306.2 L415.3,305.7 L415.7,305.4 L416.2,304.9 L416.7,304.5 L417.1,304.2 L417.7,303.6 L418.1,303.3 L418.6,302.8 L419.1,302.4 L419.5,302.0 L420.1,301.6 L420.7,301.2 L421.3,300.9 L421.9,300.7 L422.8,300.7 L423.4,300.9 L424.0,301.3 L424.4,301.8 L424.8,302.4 L425.0,303.0 L425.1,303.9 L425.1,304.8 L424.9,305.7 L424.8,306.3 L424.5,306.9 L424.1,307.5 L423.7,307.9 L423.1,308.3 L422.5,308.5 L421.6,308.7 L421.0,308.9 L420.4,309.1 L419.8,309.5 L419.2,309.9 L418.8,310.2 L418.3,310.6 L417.7,311.0 L417.2,311.4 L416.8,311.7 L416.2,312.2 L415.7,312.6 L415.3,313.0 L414.7,313.5 L414.3,313.8 L413.8,314.3 L413.3,314.7 L412.9,315.1 L412.3,315.6 L411.8,315.9 L411.1,316.2 L410.5,316.3 L409.6,316.5 L409.2,316.8 L409.0,317.7 L408.9,318.3 L408.8,319.2 L408.6,319.8 L408.4,320.7 L408.3,321.3 L408.1,322.0 L407.9,322.8 L407.7,323.4 L407.5,324.2 L407.2,324.9 L407.0,325.5 L406.7,326.1 L406.4,326.7 L406.1,327.3 L405.9,327.9 L405.6,328.5 L405.3,329.1 L405.1,329.7 L404.7,330.3 L404.3,330.9 L403.9,331.5 L403.6,332.0 L403.3,332.4 L402.9,333.0 L402.4,333.6 L402.1,334.0 L401.8,334.5 L401.4,335.1 L400.9,335.7 L400.6,336.2 L400.3,336.6 L399.9,337.2 L399.4,337.7 L399.1,338.1 L398.6,338.7 L398.2,339.3 L397.9,339.6 L397.4,340.2 L397.0,340.8 L396.7,341.2 L396.2,341.7 L395.8,342.2 L395.5,342.6 L395.1,343.2 L394.6,343.7 L394.3,344.1 L394.0,344.7 L393.7,345.4 L393.4,346.2 L393.1,346.8 L392.8,347.1 L392.2,347.6 L391.9,347.7Z" stroke="rgb(95,95,95)" stroke-width="0.5" fill="#000" fill-opacity="0.03"/>
<path d="M391.0,347.7 L390.4,347.6 L389.8,347.3 L389.2,346.8 L388.9,346.2 L388.7,345.6 L388.6,345.0 L388.5,344.1 L388.5,343.2 L388.5,342.3 L388.5,341.4 L388.5,340.5 L388.5,339.6 L388.4,338.7 L388.3,337.8 L388.3,337.2 L388.2,336.3 L388.2,335.4 L388.2,334.5 L388.2,333.6 L388.3,332.7 L388.4,332.1 L388.5,331.2 L388.5,330.3 L388.5,329.4 L388.5,328.5 L388.5,327.6 L388.5,326.7 L388.5,325.8 L388.6,325.2 L388.7,324.3 L388.9,323.4 L389.0,322.8 L389.1,321.9 L389.2,321.3 L389.4,320.4 L389.5,319.7 L389.6,318.9 L389.8,318.1 L390.0,317.4 L390.4,316.8 L390.7,316.5 L391.3,316.1 L392.0,315.9 L392.8,315.9 L393.4,315.9 L394.3,316.0 L394.9,315.6 L395.3,315.3 L395.8,315.0 L396.6,314.7 L397.3,314.4 L397.9,314.2 L398.5,314.1 L399.4,313.8 L400.0,313.8 L400.9,313.7 L401.8,313.7 L402.7,313.7 L403.6,313.7 L404.5,313.8 L405.4,313.7 L405.5,312.9 L405.6,312.0 L406.0,311.4 L406.5,311.1 L407.1,310.8 L407.8,310.6 L408.4,310.4 L409.3,310.2 L409.9,310.0 L410.5,309.8 L411.1,309.5 L411.7,309.1 L412.2,308.7 L412.6,308.3 L413.2,307.9 L413.7,307.5 L414.1,307.1 L414.7,306.6 L415.1,306.3 L415.6,305.9 L416.2,305.4 L416.5,305.1 L417.1,304.6 L417.6,304.2 L418.0,303.8 L418.6,303.3 L418.9,303.0 L419.5,302.4 L419.9,302.1 L420.4,301.7 L421.0,301.4 L421.6,301.2 L422.5,301.0 L423.3,301.2 L423.8,301.5 L424.3,302.1 L424.6,302.7 L424.8,303.3 L424.8,304.2 L424.8,305.1 L424.6,305.8 L424.3,306.6 L424.0,307.1 L423.7,307.5 L423.1,307.9 L422.5,308.1 L421.6,308.3 L421.0,308.5 L420.4,308.7 L419.8,309.1 L419.2,309.5 L418.7,309.9 L418.2,310.2 L417.7,310.6 L417.1,311.0 L416.6,311.4 L416.2,311.7 L415.6,312.2 L415.2,312.6 L414.7,313.0 L414.2,313.5 L413.8,313.8 L413.2,314.3 L412.8,314.7 L412.3,315.1 L411.7,315.5 L411.1,315.8 L410.2,315.9 L409.3,315.7 L408.4,315.7 L407.9,316.2 L407.9,317.1 L408.0,318.0 L407.8,318.9 L407.7,319.5 L407.5,320.4 L407.4,321.0 L407.2,321.7 L407.0,322.5 L406.9,323.1 L406.6,324.0 L406.4,324.6 L406.1,325.2 L405.9,325.8 L405.6,326.4 L405.3,327.0 L405.1,327.6 L404.8,328.3 L404.5,328.9 L404.2,329.5 L403.9,330.1 L403.5,330.6 L403.2,331.2 L402.8,331.8 L402.4,332.3 L402.1,332.7 L401.7,333.3 L401.3,333.9 L400.9,334.5 L400.6,334.9 L400.3,335.4 L399.9,336.0 L399.4,336.6 L399.1,337.0 L398.7,337.5 L398.2,338.1 L397.9,338.5 L397.6,339.0 L397.1,339.6 L396.7,340.1 L396.4,340.5 L395.9,341.1 L395.5,341.6 L395.2,342.0 L394.7,342.6 L394.3,343.2 L394.0,343.7 L393.7,344.4 L393.6,345.0 L393.4,345.6 L393.1,346.4 L392.8,346.9 L392.2,347.4 L391.6,347.7 L391.0,347.7 L391.0,347.7Z" stroke="rgb(88,88,88)" stroke-width="0.5" fill="#000" fill-opacity="0.03"/>
<path d="M411.1,315.3 L410.2,315.4 L409.6,315.2 L408.9,315.0 L408.3,314.7 L407.8,314.4 L407.2,313.8 L406.9,313.5 L406.4,312.9 L406.2,312.3 L406.5,311.7 L406.9,311.4 L407.5,311.1 L408.4,310.8 L409.0,310.7 L409.6,310.5 L410.5,310.2 L411.1,309.9 L411.6,309.6 L412.0,309.3 L412.6,308.8 L413.1,308.4 L413.5,308.1 L414.1,307.6 L414.6,307.2 L415.0,306.9 L415.6,306.4 L416.1,306.0 L416.5,305.6 L417.1,305.1 L417.5,304.8 L418.0,304.3 L418.5,303.9 L418.9,303.5 L419.4,303.0 L419.8,302.6 L420.4,302.1 L420.8,301.8 L421.5,301.5 L422.2,301.3 L423.1,301.5 L423.7,301.8 L424.0,302.2 L424.3,302.7 L424.5,303.6 L424.6,304.5 L424.5,305.4 L424.3,306.0 L424.0,306.6 L423.5,307.2 L423.1,307.5 L422.4,307.8 L421.6,308.0 L421.0,308.1 L420.2,308.4 L419.7,308.7 L419.2,309.0 L418.6,309.5 L418.0,309.9 L417.6,310.2 L417.1,310.5 L416.5,311.0 L416.0,311.4 L415.6,311.7 L415.0,312.3 L414.6,312.6 L414.1,313.1 L413.6,313.5 L413.2,313.8 L412.6,314.4 L412.2,314.7 L411.7,315.1 L411.1,315.3 L411.1,315.3Z M391.6,347.5 L390.7,347.6 L390.1,347.3 L389.5,346.9 L389.2,346.5 L388.9,345.8 L388.7,345.0 L388.6,344.1 L388.6,343.2 L388.6,342.3 L388.6,341.4 L388.6,340.5 L388.6,339.6 L388.6,338.8 L388.5,338.1 L388.4,337.2 L388.3,336.3 L388.3,335.4 L388.3,334.5 L388.3,333.6 L388.4,332.7 L388.6,331.8 L388.6,331.2 L388.6,330.3 L388.6,329.4 L388.6,328.5 L388.6,327.6 L388.6,326.7 L388.7,325.8 L388.8,324.9 L388.9,324.2 L389.0,323.4 L389.2,322.5 L389.3,321.9 L389.4,321.0 L389.5,320.4 L389.7,319.5 L389.8,318.8 L390.0,318.0 L390.2,317.4 L390.6,316.8 L391.0,316.4 L391.6,316.1 L392.5,316.0 L393.4,316.2 L394.0,316.5 L394.6,316.8 L395.0,316.8 L395.5,316.4 L396.1,315.9 L396.7,315.6 L397.3,315.4 L397.9,315.2 L398.7,315.0 L399.4,314.8 L400.3,314.7 L401.2,314.7 L402.1,314.7 L403.0,314.8 L403.9,314.9 L404.5,315.0 L405.2,315.3 L405.8,315.6 L406.3,316.0 L406.6,316.5 L406.8,317.4 L406.8,318.3 L406.7,319.2 L406.5,319.8 L406.3,320.7 L406.2,321.3 L406.0,322.2 L405.9,322.8 L405.7,323.4 L405.4,324.3 L405.2,324.9 L404.9,325.5 L404.7,326.1 L404.4,326.7 L404.2,327.3 L403.9,327.9 L403.6,328.6 L403.3,329.2 L403.0,329.7 L402.6,330.3 L402.3,330.9 L401.9,331.5 L401.5,332.1 L401.2,332.5 L400.8,333.0 L400.4,333.6 L400.1,334.2 L399.7,334.7 L399.4,335.2 L399.1,335.7 L398.6,336.3 L398.2,336.8 L397.9,337.2 L397.5,337.8 L397.0,338.4 L396.7,338.8 L396.3,339.3 L395.9,339.9 L395.5,340.4 L395.2,340.8 L394.7,341.4 L394.3,342.0 L394.0,342.6 L393.8,343.2 L393.6,343.8 L393.4,344.7 L393.3,345.3 L393.1,346.0 L392.8,346.6 L392.4,347.1 L391.9,347.4 L391.6,347.5Z" stroke="rgb(81,81,81)" stroke-width="0.5" fill="#000" fill-opacity="0.03"/>
<path d="M411.4,314.7 L410.5,314.9 L409.6,314.7 L409.0,314.5 L408.4,314.1 L408.0,313.8 L407.5,313.3 L407.2,312.9 L407.0,312.0 L407.5,311.6 L408.1,311.3 L408.9,311.1 L409.6,310.9 L410.2,310.7 L410.8,310.5 L411.4,310.2 L412.0,309.8 L412.6,309.4 L413.0,309.0 L413.5,308.6 L414.1,308.1 L414.5,307.8 L415.0,307.4 L415.6,306.9 L416.0,306.6 L416.5,306.2 L417.0,305.7 L417.4,305.4 L418.0,304.9 L418.4,304.5 L418.9,304.0 L419.3,303.6 L419.8,303.0 L420.1,302.7 L420.7,302.2 L421.3,301.8 L421.9,301.6 L422.8,301.6 L423.4,301.9 L423.9,302.4 L424.2,303.0 L424.3,303.6 L424.4,304.5 L424.3,305.1 L424.0,306.0 L423.7,306.6 L423.4,306.9 L422.8,307.4 L422.2,307.6 L421.3,307.7 L420.7,307.8 L420.0,308.1 L419.4,308.4 L418.9,308.8 L418.3,309.2 L417.7,309.6 L417.3,309.9 L416.8,310.3 L416.2,310.7 L415.7,311.1 L415.3,311.5 L414.7,312.0 L414.4,312.3 L413.8,312.8 L413.3,313.2 L412.9,313.6 L412.3,314.1 L411.9,314.4 L411.4,314.7 L411.4,314.7Z M391.3,347.4 L390.7,347.4 L389.9,347.1 L389.5,346.7 L389.2,346.2 L388.9,345.4 L388.8,344.7 L388.7,343.8 L388.7,342.9 L388.7,342.0 L388.7,341.1 L388.7,340.2 L388.7,339.3 L388.7,338.4 L388.6,337.8 L388.5,336.9 L388.4,336.0 L388.4,335.1 L388.4,334.2 L388.5,333.3 L388.6,332.4 L388.7,331.8 L388.7,330.9 L388.7,330.0 L388.7,329.1 L388.7,328.2 L388.7,327.3 L388.7,326.4 L388.8,325.5 L388.9,324.9 L389.0,324.0 L389.2,323.1 L389.3,322.5 L389.4,321.6 L389.5,321.0 L389.7,320.1 L389.8,319.5 L389.9,318.6 L390.1,318.0 L390.4,317.3 L390.7,316.8 L391.3,316.4 L391.9,316.2 L392.8,316.2 L393.4,316.4 L394.0,316.8 L394.3,317.1 L394.7,317.7 L395.2,318.2 L395.7,317.7 L396.1,317.2 L396.5,316.8 L397.0,316.5 L397.9,316.2 L398.5,316.0 L399.1,315.9 L400.0,315.7 L400.9,315.7 L401.8,315.7 L402.7,315.8 L403.6,315.9 L404.2,316.1 L404.8,316.3 L405.4,316.7 L405.7,317.2 L405.8,318.0 L405.7,318.9 L405.6,319.5 L405.4,320.4 L405.3,321.0 L405.1,321.8 L404.9,322.5 L404.8,323.1 L404.5,323.9 L404.2,324.6 L404.0,325.2 L403.8,325.8 L403.5,326.4 L403.3,327.0 L403.0,327.7 L402.7,328.4 L402.4,329.0 L402.1,329.5 L401.8,330.0 L401.4,330.6 L401.0,331.2 L400.6,331.8 L400.3,332.3 L400.0,332.8 L399.7,333.3 L399.3,333.9 L398.9,334.5 L398.5,335.1 L398.2,335.5 L397.9,336.0 L397.4,336.6 L397.0,337.1 L396.7,337.6 L396.3,338.1 L395.8,338.7 L395.5,339.2 L395.2,339.6 L394.7,340.2 L394.3,340.7 L394.0,341.2 L393.7,342.0 L393.6,342.6 L393.4,343.5 L393.3,344.1 L393.2,345.0 L393.1,345.6 L392.8,346.4 L392.5,346.8 L391.9,347.3 L391.3,347.4 L391.3,347.4Z" stroke="rgb(74,74,74)" stroke-width="0.5" fill="#000" fill-opacity="0.03"/>
<path d="M411.1,314.1 L410.2,314.2 L409.6,314.1 L409.0,313.7 L408.4,313.2 L408.1,312.8 L408.1,312.2 L408.7,311.9 L409.3,311.7 L410.2,311.4 L410.8,311.2 L411.4,310.9 L412.0,310.6 L412.5,310.2 L412.9,309.9 L413.5,309.4 L414.0,309.0 L414.4,308.7 L415.0,308.2 L415.5,307.8 L415.9,307.5 L416.5,307.0 L417.0,306.6 L417.4,306.2 L418.0,305.7 L418.3,305.4 L418.9,304.8 L419.2,304.4 L419.5,303.9 L420.0,303.3 L420.4,302.8 L420.8,302.4 L421.3,302.1 L422.2,301.8 L423.1,302.0 L423.6,302.4 L424.0,303.0 L424.1,303.6 L424.2,304.5 L424.0,305.4 L423.8,306.0 L423.4,306.6 L423.0,306.9 L422.4,307.2 L421.6,307.3 L420.7,307.4 L420.0,307.5 L419.2,307.8 L418.8,308.1 L418.3,308.4 L417.7,308.8 L417.1,309.3 L416.6,309.6 L416.2,309.9 L415.6,310.4 L415.1,310.8 L414.7,311.1 L414.1,311.7 L413.8,312.0 L413.2,312.5 L412.7,312.9 L412.3,313.2 L411.7,313.8 L411.2,314.1 L411.1,314.1Z M391.9,347.1 L391.0,347.3 L390.2,347.1 L389.7,346.8 L389.3,346.2 L389.1,345.6 L388.9,344.7 L388.9,344.1 L388.8,343.2 L388.8,342.3 L388.8,341.4 L388.8,340.5 L388.8,339.6 L388.8,338.7 L388.7,337.8 L388.6,336.9 L388.6,336.3 L388.5,335.4 L388.5,334.5 L388.6,333.6 L388.6,333.0 L388.7,332.1 L388.8,331.2 L388.8,330.3 L388.8,329.4 L388.8,328.5 L388.8,327.6 L388.8,326.7 L388.9,325.8 L389.0,325.2 L389.1,324.3 L389.2,323.7 L389.4,322.8 L389.5,322.0 L389.6,321.3 L389.8,320.4 L389.9,319.8 L390.0,318.9 L390.1,318.3 L390.4,317.5 L390.7,317.0 L391.3,316.5 L391.9,316.3 L392.8,316.3 L393.4,316.5 L394.0,317.1 L394.3,317.7 L394.5,318.3 L394.6,319.1 L394.6,319.8 L394.6,320.4 L394.5,321.3 L394.3,322.1 L394.2,322.8 L394.0,323.6 L393.9,324.3 L393.8,325.2 L393.7,326.1 L394.0,326.9 L394.3,326.1 L394.4,325.5 L394.6,324.9 L394.8,324.0 L394.9,323.4 L395.1,322.5 L395.2,321.9 L395.4,321.0 L395.6,320.4 L395.8,319.8 L396.1,319.2 L396.5,318.6 L396.9,318.0 L397.3,317.7 L397.9,317.3 L398.8,317.1 L399.4,317.0 L400.3,316.9 L401.2,316.9 L402.1,316.9 L403.0,317.0 L403.6,317.2 L404.2,317.5 L404.6,318.0 L404.6,318.9 L404.5,319.5 L404.3,320.4 L404.2,321.0 L404.0,321.9 L403.8,322.5 L403.6,323.3 L403.3,324.0 L403.1,324.6 L402.9,325.2 L402.7,325.8 L402.4,326.5 L402.1,327.2 L401.8,327.9 L401.5,328.5 L401.2,329.0 L400.9,329.5 L400.6,330.0 L400.3,330.6 L399.9,331.2 L399.5,331.8 L399.1,332.4 L398.8,332.9 L398.5,333.4 L398.2,333.9 L397.8,334.5 L397.4,335.1 L397.0,335.6 L396.7,336.0 L396.3,336.6 L395.9,337.2 L395.5,337.7 L395.0,338.1 L394.3,338.3 L393.8,338.7 L393.7,339.4 L393.6,340.2 L393.5,341.1 L393.4,341.8 L393.3,342.6 L393.2,343.5 L393.1,344.4 L393.1,345.0 L392.9,345.9 L392.6,346.5 L392.2,346.9 L391.9,347.1Z" stroke="rgb(67,67,67)" stroke-width="0.5" fill="#000" fill-opacity="0.03"/>
<path d="M422.2,307.0 L421.3,307.0 L420.6,306.9 L419.9,306.6 L419.5,306.0 L419.5,305.5 L419.6,304.8 L419.9,304.2 L420.2,303.6 L420.6,303.0 L421.0,302.6 L421.6,302.2 L422.2,302.1 L422.8,302.1 L423.4,302.5 L423.7,303.0 L424.0,303.9 L423.9,304.8 L423.7,305.6 L423.4,306.2 L423.0,306.6 L422.4,306.9 L422.2,307.0Z M391.6,347.1 L390.7,347.2 L390.1,346.9 L389.6,346.5 L389.3,345.9 L389.1,345.3 L389.0,344.4 L388.9,343.5 L388.9,342.6 L388.9,341.7 L388.9,340.8 L388.9,339.9 L388.9,339.0 L388.9,338.4 L388.8,337.5 L388.7,336.6 L388.6,335.7 L388.6,334.8 L388.7,333.9 L388.7,333.0 L388.8,332.1 L388.9,331.5 L388.9,330.6 L388.9,329.7 L388.9,328.8 L388.9,327.9 L388.9,327.0 L389.0,326.1 L389.1,325.2 L389.2,324.4 L389.3,323.7 L389.5,322.8 L389.6,322.2 L389.7,321.3 L389.8,320.7 L389.9,319.8 L390.1,319.0 L390.2,318.3 L390.4,317.7 L390.8,317.1 L391.3,316.6 L391.9,316.4 L392.8,316.4 L393.4,316.7 L393.8,317.1 L394.1,317.7 L394.3,318.6 L394.3,319.2 L394.3,319.8 L394.2,320.7 L394.0,321.6 L393.9,322.2 L393.7,323.1 L393.6,323.7 L393.5,324.6 L393.4,325.2 L393.3,326.1 L393.3,327.0 L393.3,327.9 L393.3,328.8 L393.4,329.7 L393.4,330.6 L393.3,331.5 L393.2,332.4 L393.1,333.0 L393.0,333.9 L393.0,334.8 L393.0,335.7 L393.0,336.6 L393.1,337.2 L393.2,338.1 L393.3,339.0 L393.3,339.9 L393.3,340.8 L393.2,341.7 L393.1,342.6 L393.1,343.2 L393.0,344.1 L392.9,345.0 L392.8,345.7 L392.5,346.4 L392.2,346.8 L391.6,347.1 L391.6,347.1Z M395.8,335.5 L395.1,335.4 L394.9,334.5 L394.9,333.6 L395.0,332.7 L395.0,331.8 L395.0,330.9 L395.0,330.0 L395.0,329.1 L395.1,328.2 L395.2,327.4 L395.4,326.7 L395.5,326.1 L395.7,325.2 L395.8,324.6 L396.0,323.7 L396.2,323.1 L396.4,322.2 L396.5,321.6 L396.7,320.8 L397.0,320.1 L397.3,319.5 L397.6,319.1 L398.1,318.6 L398.7,318.3 L399.4,318.1 L400.3,318.0 L401.2,318.0 L402.1,318.1 L402.9,318.3 L403.3,318.7 L403.4,319.5 L403.3,320.1 L403.1,321.0 L403.0,321.6 L402.8,322.5 L402.6,323.1 L402.4,323.7 L402.1,324.5 L401.8,325.2 L401.6,325.8 L401.4,326.4 L401.1,327.0 L400.9,327.6 L400.6,328.2 L400.2,328.8 L399.9,329.4 L399.5,330.0 L399.1,330.6 L398.8,331.2 L398.5,331.7 L398.2,332.2 L397.9,332.7 L397.5,333.3 L397.1,333.9 L396.7,334.5 L396.4,334.9 L395.9,335.4 L395.8,335.5Z" stroke="rgb(60,60,60)" stroke-width="0.5" fill="#000" fill-opacity="0.03"/>
<path d="M422.2,306.6 L421.3,306.6 L420.7,306.3 L420.4,305.8 L420.2,305.1 L420.3,304.2 L420.6,303.6 L421.0,303.0 L421.3,302.7 L421.9,302.4 L422.7,302.4 L423.2,302.7 L423.6,303.3 L423.8,303.9 L423.7,304.8 L423.5,305.4 L423.2,306.0 L422.8,306.4 L422.2,306.6 L422.2,306.6Z M391.0,347.1 L390.4,347.0 L389.8,346.5 L389.5,346.1 L389.2,345.3 L389.1,344.7 L389.0,343.8 L389.0,342.9 L389.0,342.0 L389.0,341.1 L389.0,340.2 L389.0,339.3 L389.0,338.4 L388.9,337.7 L388.8,336.9 L388.7,336.0 L388.7,335.1 L388.7,334.2 L388.8,333.3 L388.9,332.5 L389.0,331.8 L389.0,330.9 L389.0,330.0 L389.0,329.1 L389.0,328.2 L389.0,327.3 L389.0,326.4 L389.1,325.5 L389.2,324.9 L389.4,324.0 L389.5,323.2 L389.6,322.5 L389.8,321.6 L389.9,321.0 L390.0,320.1 L390.1,319.5 L390.3,318.6 L390.4,318.0 L390.7,317.4 L391.3,316.8 L391.9,316.5 L392.5,316.5 L393.1,316.7 L393.6,317.1 L394.0,317.7 L394.1,318.3 L394.2,319.2 L394.1,320.1 L394.0,320.7 L393.8,321.6 L393.7,322.2 L393.5,323.1 L393.4,323.7 L393.3,324.6 L393.1,325.5 L393.1,326.1 L393.1,327.0 L393.1,327.9 L393.1,328.8 L393.1,329.7 L393.1,330.6 L393.1,331.5 L393.0,332.4 L392.8,333.3 L392.8,333.9 L392.8,334.8 L392.8,335.7 L392.8,336.6 L392.9,337.2 L393.0,338.1 L393.0,339.0 L393.1,339.9 L393.0,340.8 L393.0,341.7 L393.0,342.6 L392.9,343.5 L392.9,344.4 L392.8,345.0 L392.6,345.9 L392.3,346.5 L391.9,346.9 L391.1,347.1 L391.0,347.1Z M396.7,331.8 L396.4,331.4 L396.3,330.6 L396.3,329.7 L396.3,328.8 L396.4,328.1 L396.6,327.3 L396.7,326.7 L396.9,325.8 L397.1,325.2 L397.3,324.3 L397.5,323.7 L397.6,323.1 L397.8,322.2 L397.9,321.6 L398.2,320.8 L398.5,320.3 L398.9,319.8 L399.5,319.5 L400.3,319.3 L401.2,319.4 L401.8,319.7 L402.0,320.4 L401.9,321.3 L401.8,321.9 L401.5,322.8 L401.3,323.4 L401.1,324.0 L400.9,324.6 L400.6,325.4 L400.4,326.1 L400.1,326.7 L399.8,327.3 L399.5,327.9 L399.2,328.5 L398.8,329.1 L398.5,329.6 L398.2,330.1 L397.9,330.6 L397.4,331.2 L397.0,331.7 L396.7,331.8Z" stroke="rgb(53,53,53)" stroke-width="0.5" fill="#000" fill-opacity="0.03"/>
<path d="M422.5,306.1 L421.6,306.2 L421.0,305.7 L420.8,305.1 L420.8,304.2 L421.0,303.6 L421.5,303.0 L422.1,302.7 L422.6,302.7 L423.1,303.0 L423.4,303.6 L423.5,304.5 L423.4,305.1 L423.0,305.7 L422.5,306.1 L422.5,306.1Z M391.6,346.9 L390.7,346.9 L390.1,346.7 L389.7,346.2 L389.4,345.6 L389.2,344.7 L389.2,344.1 L389.2,343.2 L389.2,342.3 L389.2,341.4 L389.2,340.5 L389.2,339.6 L389.1,338.7 L389.0,337.8 L388.9,336.9 L388.9,336.3 L388.9,335.4 L388.9,334.5 L388.9,333.6 L388.9,333.0 L389.1,332.1 L389.1,331.2 L389.2,330.3 L389.2,329.4 L389.2,328.5 L389.2,327.6 L389.2,326.7 L389.2,325.9 L389.3,325.2 L389.4,324.3 L389.5,323.7 L389.7,322.8 L389.8,322.1 L389.9,321.3 L390.1,320.4 L390.2,319.8 L390.3,318.9 L390.5,318.3 L390.7,317.6 L391.1,317.1 L391.6,316.7 L392.5,316.6 L393.1,316.8 L393.6,317.4 L393.9,318.0 L394.0,318.9 L393.9,319.8 L393.8,320.7 L393.7,321.3 L393.5,322.2 L393.4,322.8 L393.2,323.7 L393.1,324.4 L393.0,325.2 L392.9,326.1 L392.9,327.0 L392.9,327.9 L392.9,328.8 L392.9,329.7 L392.9,330.6 L392.9,331.5 L392.8,332.1 L392.7,333.0 L392.6,333.9 L392.6,334.8 L392.6,335.7 L392.6,336.6 L392.7,337.5 L392.8,338.3 L392.8,339.0 L392.9,339.9 L392.9,340.8 L392.8,341.7 L392.8,342.4 L392.8,343.2 L392.7,344.1 L392.7,345.0 L392.5,345.9 L392.2,346.4 L391.8,346.8 L391.6,346.9Z" stroke="rgb(46,46,46)" stroke-width="0.5" fill="#000" fill-opacity="0.03"/>
<path d="M422.2,305.7 L421.6,305.5 L421.3,304.9 L421.3,304.2 L421.5,303.6 L421.9,303.2 L422.8,303.3 L423.1,303.7 L423.2,304.5 L423.0,305.1 L422.5,305.6 L422.2,305.7Z M391.3,346.8 L390.7,346.8 L390.1,346.5 L389.7,345.9 L389.4,345.3 L389.3,344.4 L389.3,343.5 L389.3,342.6 L389.3,341.7 L389.3,340.8 L389.3,339.9 L389.3,339.0 L389.2,338.1 L389.1,337.5 L389.0,336.6 L389.0,335.7 L389.0,334.8 L389.0,333.9 L389.1,333.0 L389.2,332.1 L389.3,331.5 L389.3,330.6 L389.3,329.7 L389.3,328.8 L389.3,327.9 L389.3,327.0 L389.3,326.1 L389.4,325.2 L389.5,324.6 L389.6,323.7 L389.8,322.8 L389.9,322.2 L390.1,321.3 L390.2,320.7 L390.3,319.8 L390.4,319.2 L390.6,318.3 L390.8,317.7 L391.3,317.1 L391.9,316.8 L392.5,316.8 L393.1,317.0 L393.5,317.4 L393.7,318.0 L393.8,318.9 L393.7,319.8 L393.6,320.4 L393.5,321.3 L393.4,321.9 L393.2,322.8 L393.1,323.4 L392.9,324.3 L392.8,325.2 L392.7,325.8 L392.7,326.7 L392.7,327.6 L392.7,328.5 L392.7,329.4 L392.7,330.3 L392.7,331.2 L392.6,332.1 L392.5,332.8 L392.4,333.6 L392.4,334.5 L392.4,335.4 L392.4,336.3 L392.5,337.2 L392.6,337.8 L392.7,338.7 L392.7,339.6 L392.7,340.5 L392.7,341.4 L392.6,342.3 L392.6,343.2 L392.6,344.1 L392.5,345.0 L392.4,345.6 L392.2,346.2 L391.6,346.7 L391.3,346.8Z" stroke="rgb(39,39,39)" stroke-width="0.5" fill="#000" fill-opacity="0.03"/>
<path d="M422.5,304.6 L422.0,304.2 L422.5,304.2 L422.5,304.6Z M391.6,346.6 L390.7,346.6 L390.1,346.3 L389.8,345.8 L389.5,345.0 L389.5,344.4 L389.4,343.5 L389.4,342.6 L389.4,341.7 L389.4,340.8 L389.4,339.9 L389.4,339.0 L389.3,338.1 L389.2,337.2 L389.1,336.6 L389.1,335.7 L389.1,334.8 L389.1,333.9 L389.2,333.0 L389.3,332.4 L389.4,331.5 L389.4,330.6 L389.4,329.7 L389.4,328.8 L389.4,327.9 L389.4,327.0 L389.4,326.1 L389.5,325.5 L389.6,324.6 L389.8,323.7 L389.9,323.1 L390.0,322.2 L390.1,321.6 L390.3,320.7 L390.4,320.0 L390.5,319.2 L390.7,318.4 L391.0,317.7 L391.3,317.3 L391.9,316.9 L392.8,317.0 L393.2,317.4 L393.5,318.0 L393.6,318.9 L393.6,319.8 L393.4,320.7 L393.3,321.3 L393.2,322.2 L393.0,322.8 L392.9,323.7 L392.8,324.3 L392.6,325.2 L392.5,326.1 L392.5,327.0 L392.5,327.9 L392.5,328.8 L392.5,329.7 L392.5,330.6 L392.5,331.2 L392.4,332.1 L392.3,333.0 L392.2,333.9 L392.2,334.5 L392.2,335.4 L392.2,336.0 L392.3,336.9 L392.4,337.8 L392.5,338.7 L392.5,339.6 L392.5,340.5 L392.5,341.4 L392.5,342.3 L392.5,343.2 L392.4,344.1 L392.4,345.0 L392.2,345.8 L391.9,346.3 L391.6,346.6Z" stroke="rgb(32,32,32)" stroke-width="0.5" fill="#000" fill-opacity="0.03"/>
<path d="M391.6,346.3 L390.7,346.4 L390.1,346.0 L389.8,345.4 L389.6,344.7 L389.6,343.8 L389.6,342.9 L389.6,342.0 L389.6,341.1 L389.6,340.2 L389.6,339.3 L389.5,338.4 L389.5,337.8 L389.3,336.9 L389.3,336.0 L389.3,335.1 L389.3,334.2 L389.3,333.3 L389.5,332.4 L389.5,331.8 L389.6,330.9 L389.6,330.0 L389.6,329.1 L389.6,328.2 L389.6,327.3 L389.6,326.4 L389.7,325.5 L389.8,324.7 L389.9,324.0 L390.1,323.1 L390.2,322.5 L390.3,321.6 L390.4,321.0 L390.6,320.1 L390.7,319.3 L390.8,318.6 L391.0,318.0 L391.4,317.4 L392.2,317.1 L392.5,317.1 L393.1,317.6 L393.4,318.3 L393.4,318.9 L393.4,319.5 L393.3,320.4 L393.1,321.3 L393.0,321.9 L392.8,322.8 L392.7,323.4 L392.6,324.3 L392.5,324.9 L392.3,325.8 L392.3,326.7 L392.3,327.6 L392.3,328.5 L392.3,329.4 L392.3,330.3 L392.3,331.2 L392.2,332.1 L392.1,332.7 L392.0,333.6 L392.0,334.5 L392.0,335.4 L392.0,336.3 L392.1,337.2 L392.2,338.0 L392.3,338.7 L392.3,339.6 L392.3,340.5 L392.3,341.4 L392.3,342.3 L392.3,343.2 L392.3,344.1 L392.2,345.0 L392.1,345.6 L391.7,346.2 L391.6,346.3Z" stroke="rgb(25,25,25)" stroke-width="0.5" fill="#000" fill-opacity="0.03"/>
<path d="M391.3,346.2 L390.7,346.2 L390.1,345.6 L389.9,345.0 L389.8,344.1 L389.8,343.5 L389.8,342.6 L389.8,341.7 L389.8,340.8 L389.8,339.9 L389.8,339.0 L389.7,338.1 L389.6,337.2 L389.5,336.4 L389.5,335.7 L389.5,334.8 L389.5,333.9 L389.5,333.3 L389.7,332.4 L389.7,331.5 L389.8,330.6 L389.8,329.7 L389.8,328.8 L389.8,327.9 L389.8,327.0 L389.8,326.2 L389.9,325.5 L390.0,324.6 L390.1,324.0 L390.3,323.1 L390.4,322.2 L390.5,321.6 L390.7,320.7 L390.8,320.1 L390.9,319.2 L391.0,318.6 L391.3,317.9 L391.9,317.4 L392.5,317.4 L392.9,317.7 L393.2,318.3 L393.2,319.2 L393.1,320.0 L393.0,320.7 L392.8,321.6 L392.7,322.2 L392.6,323.1 L392.4,323.7 L392.3,324.6 L392.2,325.2 L392.1,326.1 L392.1,327.0 L392.1,327.9 L392.1,328.8 L392.1,329.7 L392.1,330.6 L392.1,331.5 L392.0,332.4 L391.9,333.0 L391.8,333.9 L391.8,334.8 L391.8,335.7 L391.8,336.6 L391.9,337.4 L392.0,338.1 L392.1,339.0 L392.1,339.9 L392.1,340.8 L392.1,341.7 L392.1,342.6 L392.0,343.5 L392.0,344.4 L392.0,345.3 L391.7,345.9 L391.3,346.2 L391.3,346.2Z" stroke="rgb(18,18,18)" stroke-width="0.5" fill="#000" fill-opacity="0.03"/>
<path d="M391.0,345.9 L390.4,345.6 L390.2,345.0 L390.1,344.4 L390.0,343.5 L390.0,342.6 L390.0,341.7 L390.0,340.8 L390.0,339.9 L390.0,339.0 L389.9,338.1 L389.8,337.2 L389.8,336.6 L389.7,335.7 L389.7,334.8 L389.7,333.9 L389.8,333.1 L389.9,332.4 L390.0,331.5 L390.0,330.6 L390.0,329.7 L390.0,328.8 L390.0,327.9 L390.0,327.0 L390.1,326.1 L390.1,325.5 L390.3,324.6 L390.4,323.7 L390.5,323.1 L390.7,322.2 L390.8,321.6 L390.9,320.7 L391.0,320.1 L391.2,319.2 L391.3,318.6 L391.6,318.0 L392.2,317.7 L392.7,318.0 L392.9,318.6 L392.9,319.5 L392.8,320.3 L392.7,321.0 L392.5,321.9 L392.4,322.5 L392.2,323.4 L392.1,324.0 L392.0,324.9 L391.9,325.5 L391.8,326.4 L391.8,327.3 L391.8,328.2 L391.8,329.1 L391.8,330.0 L391.8,330.9 L391.8,331.8 L391.6,332.7 L391.6,333.3 L391.5,334.2 L391.5,335.1 L391.5,336.0 L391.6,336.9 L391.6,337.5 L391.8,338.4 L391.8,339.3 L391.8,340.2 L391.8,341.1 L391.8,342.0 L391.8,342.9 L391.8,343.8 L391.8,344.7 L391.6,345.5 L391.1,345.9 L391.0,345.9Z" stroke="rgb(12,12,12)" stroke-width="0.5" fill="#000" fill-opacity="0.03"/>
<path d="M391.0,345.4 L390.6,345.0 L390.4,344.1 L390.4,343.5 L390.4,342.6 L390.4,341.7 L390.4,340.8 L390.4,339.9 L390.3,339.0 L390.3,338.1 L390.2,337.2 L390.1,336.6 L390.1,335.7 L390.1,334.8 L390.1,333.9 L390.1,333.3 L390.2,332.4 L390.3,331.5 L390.3,330.6 L390.3,329.7 L390.3,328.8 L390.3,327.9 L390.3,327.0 L390.4,326.1 L390.5,325.5 L390.6,324.6 L390.7,323.9 L390.9,323.1 L391.0,322.2 L391.1,321.6 L391.2,320.7 L391.3,320.1 L391.5,319.2 L391.7,318.6 L392.2,318.2 L392.5,318.6 L392.6,319.5 L392.5,320.1 L392.3,321.0 L392.2,321.8 L392.0,322.5 L391.9,323.3 L391.8,324.0 L391.6,324.9 L391.5,325.5 L391.5,326.4 L391.5,327.3 L391.5,328.2 L391.5,329.1 L391.5,330.0 L391.5,330.9 L391.4,331.8 L391.3,332.7 L391.2,333.3 L391.2,334.2 L391.2,335.1 L391.2,336.0 L391.2,336.9 L391.3,337.5 L391.4,338.4 L391.5,339.3 L391.5,340.2 L391.5,341.1 L391.4,342.0 L391.4,342.9 L391.4,343.8 L391.4,344.7 L391.1,345.3 L391.0,345.4Z" stroke="rgb(5,5,5)" stroke-width="0.5" fill="#000" fill-opacity="0.03"/>
</g>
<clipPath id="cl493"><rect x="443.5" y="298.5" width="59.30000000000001" height="59.89999999999998"/></clipPath>
<g clip-path="url(#cl493)" fill="none" stroke-linejoin="round">
<path d="M456.7,353.4 L455.8,353.5 L455.2,353.3 L454.6,353.1 L454.0,352.5 L453.7,352.1 L453.4,351.4 L453.2,350.7 L453.2,349.8 L453.2,348.9 L453.2,348.0 L453.2,347.1 L453.1,346.2 L453.1,345.6 L452.9,344.7 L452.9,343.8 L452.9,342.9 L452.9,342.0 L452.9,341.1 L452.9,340.2 L452.9,339.3 L452.9,338.4 L452.9,337.5 L452.9,336.6 L452.9,335.7 L452.9,334.8 L452.9,333.9 L452.9,333.0 L452.9,332.1 L452.9,331.2 L452.9,330.3 L452.9,329.4 L453.0,328.5 L453.1,327.7 L453.2,327.0 L453.3,326.1 L453.4,325.3 L453.5,324.6 L453.6,323.7 L453.7,323.1 L453.8,322.2 L453.9,321.3 L454.0,320.7 L454.1,319.8 L454.3,318.9 L454.5,318.3 L454.8,317.7 L455.2,317.1 L455.6,316.8 L456.3,316.5 L457.0,316.3 L457.6,316.1 L458.2,315.6 L458.5,315.0 L458.7,314.4 L459.0,313.8 L459.4,313.2 L459.8,312.9 L460.3,312.6 L460.9,312.2 L461.5,312.0 L462.1,311.7 L462.7,311.4 L463.3,311.1 L463.9,310.8 L464.8,310.5 L465.7,310.5 L466.6,310.5 L467.5,310.6 L468.4,310.6 L469.3,310.7 L470.2,310.8 L470.8,310.9 L471.4,311.1 L472.3,311.4 L473.2,311.1 L473.6,310.8 L474.1,310.4 L474.7,310.0 L475.3,309.8 L476.1,309.6 L476.8,309.5 L477.7,309.3 L478.3,309.2 L478.9,309.0 L479.5,308.7 L480.1,308.2 L480.6,307.8 L481.0,307.3 L481.4,306.9 L481.9,306.3 L482.2,305.9 L482.5,305.4 L482.8,304.8 L483.0,303.9 L483.0,303.0 L483.1,302.4 L483.3,301.5 L483.5,300.9 L483.8,300.3 L484.2,299.7 L484.6,299.3 L485.2,298.9 L485.8,298.7 L486.7,298.7 L487.3,298.9 L487.9,299.2 L488.4,299.7 L488.8,300.2 L489.1,300.7 L489.4,301.4 L489.6,302.1 L489.7,302.7 L489.7,303.6 L489.6,304.2 L489.4,304.8 L489.1,305.4 L488.8,306.0 L488.4,306.6 L487.9,307.2 L487.6,307.6 L487.2,308.1 L486.7,308.7 L486.4,309.1 L485.9,309.6 L485.5,310.1 L485.1,310.5 L484.6,311.1 L484.3,311.5 L483.8,312.0 L483.4,312.4 L482.9,312.9 L482.5,313.3 L482.1,313.8 L481.6,314.3 L481.2,314.7 L480.7,315.1 L480.1,315.6 L479.7,315.9 L479.2,316.3 L478.6,316.8 L478.2,317.1 L477.7,317.7 L477.5,318.3 L477.4,319.2 L477.4,319.8 L477.2,320.7 L477.2,321.6 L477.1,322.3 L477.0,323.1 L476.8,324.0 L476.7,324.6 L476.5,325.5 L476.3,326.1 L476.2,326.7 L476.0,327.6 L475.8,328.2 L475.6,329.0 L475.4,329.7 L475.3,330.3 L475.1,331.2 L474.9,331.8 L474.7,332.7 L474.5,333.3 L474.4,333.9 L474.1,334.7 L473.9,335.4 L473.7,336.0 L473.5,336.7 L473.3,337.5 L473.1,338.1 L472.9,338.7 L472.6,339.6 L472.4,340.2 L472.2,340.8 L471.9,341.4 L471.6,342.0 L471.2,342.6 L470.8,343.2 L470.5,343.7 L470.2,344.1 L469.8,344.7 L469.4,345.3 L469.0,345.9 L468.7,346.3 L468.4,346.8 L468.0,347.4 L467.5,348.0 L467.2,348.3 L466.6,348.8 L466.0,349.2 L465.4,349.5 L464.9,349.8 L464.4,350.1 L463.9,350.4 L463.3,350.8 L462.7,351.1 L462.1,351.5 L461.5,351.9 L460.9,352.1 L460.3,352.2 L459.4,352.2 L458.5,352.5 L458.0,352.8 L457.5,353.1 L456.8,353.4 L456.7,353.4Z M486.4,348.0 L485.5,348.2 L484.6,348.1 L484.0,348.0 L483.1,347.7 L482.5,347.4 L481.9,347.1 L481.4,346.8 L481.0,346.5 L480.4,346.0 L480.0,345.6 L479.5,345.0 L479.2,344.4 L479.0,343.8 L479.1,342.9 L479.5,342.3 L480.1,342.0 L480.7,341.9 L481.6,341.8 L482.5,342.0 L483.1,342.2 L483.7,342.4 L484.3,342.7 L484.9,343.0 L485.5,343.4 L486.0,343.8 L486.4,344.2 L486.9,344.7 L487.3,345.3 L487.5,345.9 L487.6,346.5 L487.5,347.1 L487.1,347.7 L486.5,348.0 L486.4,348.0Z" stroke="rgb(102,102,102)" stroke-width="0.5" fill="#000" fill-opacity="0.03"/>
<path d="M456.7,353.2 L455.8,353.3 L455.2,353.1 L454.6,352.8 L454.0,352.2 L453.7,351.6 L453.5,351.0 L453.4,350.1 L453.4,349.2 L453.4,348.3 L453.4,347.4 L453.4,346.5 L453.3,345.9 L453.2,345.0 L453.1,344.1 L453.1,343.2 L453.1,342.3 L453.1,341.4 L453.1,340.5 L453.1,339.6 L453.1,338.7 L453.1,337.8 L453.1,336.9 L453.1,336.0 L453.1,335.1 L453.1,334.2 L453.1,333.3 L453.1,332.4 L453.1,331.5 L453.1,330.6 L453.1,329.7 L453.2,328.8 L453.3,327.9 L453.4,327.1 L453.5,326.4 L453.6,325.5 L453.7,324.8 L453.8,324.0 L453.9,323.1 L454.0,322.5 L454.1,321.6 L454.2,320.7 L454.3,320.1 L454.4,319.2 L454.6,318.6 L454.9,317.9 L455.3,317.4 L455.8,317.0 L456.4,316.7 L457.3,316.5 L458.1,316.5 L458.8,316.2 L459.1,315.8 L459.4,315.0 L459.7,314.4 L460.0,314.0 L460.5,313.5 L461.0,313.2 L461.6,312.9 L462.3,312.6 L463.0,312.3 L463.6,312.0 L464.2,311.7 L464.8,311.6 L465.7,311.5 L466.6,311.6 L467.5,311.6 L468.1,311.7 L469.0,311.8 L469.9,311.9 L470.5,312.1 L471.1,312.3 L471.8,312.6 L472.6,312.9 L473.2,312.9 L473.6,312.6 L473.8,311.8 L474.1,311.2 L474.4,310.8 L475.0,310.4 L475.6,310.2 L476.5,310.0 L477.1,309.9 L478.0,309.7 L478.6,309.6 L479.3,309.3 L479.8,309.0 L480.4,308.6 L480.9,308.1 L481.3,307.6 L481.7,307.2 L482.2,306.6 L482.5,306.2 L482.9,305.7 L483.2,305.1 L483.4,304.2 L483.4,303.4 L483.4,302.7 L483.6,301.8 L483.8,301.2 L484.1,300.6 L484.5,300.0 L484.9,299.7 L485.5,299.4 L486.4,299.2 L487.2,299.4 L487.7,299.7 L488.2,300.1 L488.6,300.6 L488.9,301.2 L489.2,301.8 L489.4,302.7 L489.4,303.6 L489.1,304.5 L488.9,305.1 L488.5,305.7 L488.2,306.2 L487.9,306.6 L487.4,307.2 L487.0,307.7 L486.7,308.1 L486.2,308.7 L485.8,309.1 L485.3,309.6 L484.9,310.1 L484.6,310.5 L484.0,311.1 L483.7,311.5 L483.2,312.0 L482.8,312.4 L482.3,312.9 L481.9,313.3 L481.5,313.8 L481.0,314.2 L480.5,314.7 L480.1,315.0 L479.5,315.5 L479.0,315.9 L478.4,316.2 L477.7,316.4 L477.1,316.6 L476.5,316.9 L476.2,317.7 L476.1,318.3 L476.1,319.2 L476.0,320.1 L475.9,320.8 L475.9,321.6 L475.8,322.5 L475.6,323.4 L475.5,324.0 L475.4,324.9 L475.2,325.5 L475.0,326.4 L474.9,327.0 L474.7,327.7 L474.5,328.5 L474.4,329.1 L474.2,330.0 L474.0,330.6 L473.8,331.5 L473.7,332.1 L473.5,332.8 L473.3,333.6 L473.1,334.2 L472.9,334.9 L472.7,335.7 L472.5,336.3 L472.3,337.0 L472.1,337.8 L471.9,338.4 L471.7,339.1 L471.4,339.9 L471.2,340.5 L471.0,341.1 L470.6,341.7 L470.3,342.3 L469.9,342.9 L469.6,343.3 L469.3,343.8 L468.9,344.4 L468.5,345.0 L468.1,345.6 L467.8,346.1 L467.5,346.5 L467.1,347.1 L466.6,347.7 L466.2,348.0 L465.7,348.3 L465.1,348.7 L464.5,349.1 L463.9,349.5 L463.4,349.8 L462.9,350.1 L462.4,350.4 L461.8,350.8 L461.2,351.1 L460.6,351.4 L459.7,351.5 L459.0,351.6 L458.5,352.0 L458.0,352.5 L457.6,352.8 L457.0,353.1 L456.7,353.2Z M484.9,347.1 L484.3,347.1 L483.4,346.9 L482.8,346.6 L482.2,346.3 L481.6,345.9 L481.3,345.6 L480.8,345.0 L480.5,344.4 L480.5,343.5 L481.0,343.0 L481.6,342.9 L482.2,342.9 L483.1,343.1 L483.7,343.3 L484.3,343.6 L484.9,344.0 L485.3,344.4 L485.8,345.0 L486.1,345.5 L486.2,346.2 L485.9,346.8 L485.2,347.1 L484.9,347.1Z" stroke="rgb(95,95,95)" stroke-width="0.5" fill="#000" fill-opacity="0.03"/>
<path d="M478.6,315.7 L477.7,315.9 L476.8,315.6 L476.4,315.3 L475.9,314.9 L475.4,314.4 L475.0,313.9 L474.7,313.3 L474.4,312.6 L474.4,312.0 L474.5,311.4 L475.0,310.9 L475.6,310.6 L476.2,310.4 L477.1,310.2 L477.7,310.1 L478.6,309.9 L479.2,309.7 L479.8,309.4 L480.4,309.0 L480.8,308.7 L481.3,308.2 L481.6,307.8 L482.1,307.2 L482.5,306.8 L482.9,306.3 L483.2,305.7 L483.5,305.1 L483.6,304.2 L483.7,303.3 L483.7,302.7 L483.9,301.8 L484.1,301.2 L484.4,300.6 L484.9,300.1 L485.5,299.7 L486.1,299.6 L487.0,299.7 L487.6,300.0 L488.0,300.3 L488.4,300.9 L488.8,301.5 L489.0,302.1 L489.1,302.7 L489.1,303.5 L489.0,304.2 L488.7,304.8 L488.4,305.4 L488.0,306.0 L487.6,306.5 L487.3,306.9 L486.7,307.5 L486.4,307.9 L486.0,308.4 L485.5,308.9 L485.1,309.3 L484.6,309.9 L484.3,310.3 L483.8,310.8 L483.4,311.3 L483.0,311.7 L482.5,312.2 L482.1,312.6 L481.6,313.1 L481.3,313.5 L480.7,314.0 L480.3,314.4 L479.8,314.8 L479.2,315.3 L478.7,315.6 L478.6,315.7Z M457.0,352.9 L456.1,353.1 L455.2,352.9 L454.6,352.6 L454.2,352.2 L453.9,351.6 L453.7,351.0 L453.6,350.1 L453.6,349.2 L453.6,348.3 L453.6,347.4 L453.5,346.5 L453.4,345.6 L453.4,345.0 L453.3,344.1 L453.3,343.2 L453.3,342.3 L453.3,341.4 L453.3,340.5 L453.3,339.6 L453.3,338.7 L453.3,337.8 L453.3,336.9 L453.3,336.0 L453.3,335.1 L453.3,334.2 L453.3,333.3 L453.3,332.4 L453.3,331.5 L453.3,330.6 L453.3,329.7 L453.3,328.8 L453.4,328.2 L453.5,327.3 L453.6,326.4 L453.7,325.8 L453.8,324.9 L453.9,324.0 L454.0,323.4 L454.1,322.5 L454.2,321.6 L454.3,321.0 L454.5,320.1 L454.6,319.3 L454.8,318.6 L455.0,318.0 L455.5,317.4 L455.9,317.1 L456.7,316.8 L457.3,316.7 L458.1,316.8 L458.8,317.0 L459.5,316.8 L459.9,316.2 L460.1,315.6 L460.4,315.0 L460.9,314.4 L461.3,314.1 L461.9,313.8 L462.6,313.5 L463.3,313.2 L463.9,313.0 L464.5,312.7 L465.1,312.6 L466.0,312.5 L466.6,312.6 L467.5,312.7 L468.4,312.8 L469.1,312.9 L469.9,313.1 L470.5,313.3 L471.1,313.5 L471.7,313.8 L472.3,314.1 L472.9,314.4 L473.5,314.7 L474.1,315.2 L474.4,315.6 L474.7,316.2 L474.9,317.1 L474.9,318.0 L474.9,318.9 L474.8,319.8 L474.7,320.7 L474.7,321.3 L474.6,322.2 L474.5,323.1 L474.4,323.8 L474.2,324.6 L474.1,325.3 L473.9,326.1 L473.8,326.7 L473.6,327.6 L473.4,328.2 L473.3,329.1 L473.1,329.7 L472.9,330.6 L472.8,331.2 L472.6,332.1 L472.5,332.7 L472.3,333.3 L472.1,334.2 L471.9,334.8 L471.7,335.5 L471.5,336.3 L471.3,336.9 L471.1,337.7 L470.9,338.4 L470.7,339.0 L470.5,339.7 L470.2,340.5 L469.9,341.1 L469.6,341.6 L469.3,342.1 L469.0,342.6 L468.6,343.2 L468.2,343.8 L467.9,344.4 L467.5,344.9 L467.2,345.4 L466.9,345.9 L466.5,346.5 L466.0,347.1 L465.6,347.4 L465.1,347.8 L464.5,348.1 L463.9,348.5 L463.3,348.9 L462.9,349.2 L462.4,349.5 L461.8,349.9 L461.2,350.3 L460.6,350.6 L460.0,350.7 L459.1,350.9 L458.7,351.3 L458.3,351.9 L457.9,352.3 L457.3,352.8 L457.0,352.9Z M484.3,346.0 L483.4,345.9 L482.8,345.7 L482.3,345.3 L481.9,344.7 L481.9,344.4 L482.5,344.0 L483.3,344.1 L483.9,344.4 L484.3,344.7 L484.7,345.3 L484.5,345.9 L484.3,346.0Z" stroke="rgb(88,88,88)" stroke-width="0.5" fill="#000" fill-opacity="0.03"/>
<path d="M478.0,315.3 L477.4,315.2 L476.8,314.9 L476.3,314.4 L475.9,313.9 L475.5,313.5 L475.2,312.9 L475.0,312.3 L475.0,311.7 L475.5,311.1 L476.2,310.8 L476.8,310.7 L477.7,310.5 L478.3,310.4 L479.0,310.2 L479.8,309.9 L480.3,309.6 L480.7,309.3 L481.3,308.7 L481.6,308.4 L482.1,307.8 L482.5,307.4 L482.9,306.9 L483.3,306.3 L483.6,305.7 L483.8,305.1 L483.9,304.2 L483.9,303.3 L484.0,302.4 L484.1,301.8 L484.4,301.2 L484.8,300.6 L485.2,300.2 L485.8,300.0 L486.7,299.9 L487.3,300.1 L487.9,300.6 L488.2,301.0 L488.5,301.5 L488.8,302.4 L488.9,303.0 L488.8,303.9 L488.6,304.5 L488.3,305.1 L487.9,305.7 L487.6,306.1 L487.1,306.6 L486.7,307.1 L486.3,307.5 L485.8,308.0 L485.5,308.4 L484.9,309.0 L484.6,309.3 L484.1,309.9 L483.7,310.4 L483.3,310.8 L482.8,311.4 L482.5,311.7 L481.9,312.3 L481.6,312.6 L481.0,313.2 L480.7,313.5 L480.1,314.1 L479.7,314.4 L479.2,314.8 L478.6,315.2 L478.0,315.3 L478.0,315.3Z M456.7,352.9 L455.8,353.0 L455.2,352.8 L454.6,352.4 L454.2,351.9 L453.9,351.3 L453.8,350.4 L453.7,349.5 L453.7,348.6 L453.7,347.7 L453.7,346.8 L453.7,346.2 L453.5,345.3 L453.4,344.4 L453.4,343.5 L453.4,342.6 L453.4,341.7 L453.4,340.8 L453.4,339.9 L453.4,339.0 L453.4,338.1 L453.4,337.2 L453.4,336.3 L453.4,335.4 L453.4,334.5 L453.4,333.6 L453.4,332.7 L453.4,331.8 L453.4,330.9 L453.4,330.0 L453.4,329.1 L453.5,328.2 L453.7,327.3 L453.7,326.7 L453.8,325.8 L454.0,324.9 L454.0,324.3 L454.2,323.4 L454.3,322.5 L454.4,321.9 L454.5,321.0 L454.6,320.2 L454.7,319.5 L454.9,318.7 L455.2,318.0 L455.5,317.6 L456.1,317.2 L456.7,316.9 L457.6,316.9 L458.3,317.1 L458.8,317.4 L459.4,317.9 L460.0,318.2 L460.4,317.7 L460.7,317.1 L460.9,316.5 L461.2,315.9 L461.6,315.3 L462.1,314.9 L462.7,314.7 L463.4,314.4 L464.2,314.1 L464.8,313.9 L465.4,313.8 L466.3,313.8 L466.9,313.8 L467.8,314.0 L468.5,314.1 L469.3,314.3 L469.9,314.4 L470.5,314.7 L471.1,315.0 L471.7,315.3 L472.3,315.7 L472.9,316.1 L473.3,316.5 L473.5,317.1 L473.6,318.0 L473.6,318.9 L473.5,319.8 L473.4,320.4 L473.4,321.3 L473.3,322.2 L473.2,323.1 L473.1,323.7 L473.0,324.6 L472.8,325.2 L472.6,326.1 L472.5,326.7 L472.3,327.6 L472.2,328.2 L472.0,329.1 L471.9,329.7 L471.7,330.6 L471.6,331.2 L471.4,332.1 L471.3,332.7 L471.1,333.4 L470.9,334.2 L470.7,334.8 L470.5,335.7 L470.3,336.3 L470.2,336.9 L469.9,337.8 L469.8,338.4 L469.6,339.0 L469.3,339.9 L469.0,340.5 L468.7,341.1 L468.4,341.6 L468.1,342.1 L467.8,342.6 L467.4,343.2 L467.1,343.8 L466.7,344.4 L466.3,345.0 L466.0,345.5 L465.7,345.9 L465.2,346.5 L464.8,346.8 L464.2,347.2 L463.6,347.6 L463.0,348.0 L462.6,348.3 L462.1,348.6 L461.5,349.0 L460.9,349.4 L460.3,349.7 L459.7,349.8 L459.0,350.1 L458.6,350.7 L458.4,351.3 L458.0,351.9 L457.6,352.4 L457.0,352.8 L456.7,352.9Z" stroke="rgb(81,81,81)" stroke-width="0.5" fill="#000" fill-opacity="0.03"/>
<path d="M478.3,314.8 L477.5,314.7 L477.0,314.4 L476.5,313.9 L476.2,313.5 L475.7,312.9 L475.5,312.3 L475.6,311.7 L476.2,311.3 L476.8,311.1 L477.7,310.9 L478.3,310.8 L479.2,310.6 L479.8,310.3 L480.4,310.0 L480.9,309.6 L481.3,309.3 L481.9,308.7 L482.2,308.4 L482.7,307.8 L483.1,307.3 L483.4,306.9 L483.7,306.3 L484.0,305.6 L484.1,304.8 L484.1,303.9 L484.1,303.0 L484.3,302.1 L484.5,301.5 L484.9,300.9 L485.2,300.6 L485.8,300.2 L486.7,300.2 L487.3,300.4 L487.8,300.9 L488.2,301.4 L488.5,302.0 L488.7,302.7 L488.7,303.6 L488.5,304.2 L488.2,304.9 L487.9,305.4 L487.4,306.0 L487.0,306.4 L486.4,306.9 L486.1,307.2 L485.5,307.8 L485.2,308.1 L484.6,308.7 L484.3,309.1 L483.8,309.6 L483.4,310.1 L483.0,310.5 L482.5,311.1 L482.2,311.4 L481.6,312.0 L481.3,312.3 L480.8,312.9 L480.4,313.2 L479.8,313.8 L479.5,314.1 L478.9,314.5 L478.3,314.8 L478.3,314.8Z M456.4,352.8 L455.7,352.8 L455.0,352.5 L454.6,352.2 L454.2,351.6 L454.0,351.0 L453.8,350.1 L453.8,349.2 L453.8,348.3 L453.8,347.4 L453.8,346.5 L453.7,345.6 L453.6,345.0 L453.5,344.1 L453.5,343.2 L453.5,342.3 L453.5,341.4 L453.5,340.5 L453.5,339.6 L453.5,338.7 L453.5,337.8 L453.5,336.9 L453.5,336.0 L453.5,335.1 L453.5,334.2 L453.5,333.3 L453.5,332.4 L453.5,331.5 L453.5,330.6 L453.5,329.7 L453.6,328.8 L453.7,327.9 L453.8,327.3 L453.9,326.4 L454.0,325.5 L454.1,324.9 L454.2,324.0 L454.3,323.4 L454.4,322.5 L454.5,321.6 L454.6,321.0 L454.7,320.1 L454.9,319.2 L455.0,318.6 L455.3,318.0 L455.8,317.5 L456.4,317.2 L457.0,317.0 L457.7,317.1 L458.4,317.4 L458.8,317.7 L459.2,318.3 L459.4,318.9 L459.6,319.8 L459.7,320.6 L459.7,321.3 L459.7,321.9 L459.7,322.8 L459.7,322.5 L460.0,321.8 L460.2,321.0 L460.4,320.4 L460.6,319.8 L460.9,319.2 L461.2,318.6 L461.5,318.0 L461.8,317.4 L462.1,316.8 L462.5,316.2 L463.0,315.8 L463.6,315.5 L464.3,315.3 L465.1,315.1 L465.7,315.0 L466.6,315.0 L467.2,315.1 L468.1,315.3 L468.7,315.4 L469.4,315.6 L470.1,315.9 L470.7,316.2 L471.2,316.5 L471.7,316.8 L472.2,317.4 L472.3,318.0 L472.4,318.9 L472.3,319.7 L472.3,320.4 L472.2,321.3 L472.1,322.2 L472.0,323.1 L471.9,323.7 L471.8,324.6 L471.6,325.2 L471.5,326.1 L471.4,326.7 L471.2,327.6 L471.1,328.2 L470.9,329.1 L470.8,329.7 L470.6,330.6 L470.5,331.2 L470.3,332.1 L470.2,332.7 L469.9,333.6 L469.8,334.2 L469.6,334.9 L469.4,335.7 L469.3,336.3 L469.0,337.2 L468.9,337.8 L468.7,338.4 L468.4,339.3 L468.2,339.9 L467.9,340.5 L467.5,341.1 L467.2,341.6 L466.9,342.1 L466.6,342.7 L466.3,343.2 L465.9,343.8 L465.6,344.4 L465.2,345.0 L464.8,345.5 L464.4,345.9 L463.9,346.3 L463.3,346.7 L462.8,347.1 L462.4,347.4 L461.8,347.8 L461.2,348.2 L460.6,348.5 L460.0,348.8 L459.1,348.7 L458.8,349.2 L458.5,350.1 L458.4,350.7 L458.2,351.3 L457.9,351.9 L457.3,352.5 L456.7,352.8 L456.4,352.8Z" stroke="rgb(74,74,74)" stroke-width="0.5" fill="#000" fill-opacity="0.03"/>
<path d="M478.6,313.9 L477.7,314.0 L477.1,313.5 L476.8,313.2 L476.4,312.6 L476.5,311.9 L477.1,311.7 L478.0,311.5 L478.6,311.4 L479.5,311.2 L480.1,311.0 L480.7,310.7 L481.3,310.3 L481.8,309.9 L482.2,309.5 L482.7,309.0 L483.1,308.6 L483.5,308.1 L483.8,307.5 L484.1,306.9 L484.3,306.1 L484.3,305.4 L484.3,304.5 L484.3,303.9 L484.3,303.3 L484.4,302.4 L484.6,301.8 L484.9,301.2 L485.5,300.7 L486.1,300.4 L487.0,300.6 L487.5,300.9 L487.9,301.3 L488.2,301.8 L488.5,302.7 L488.5,303.6 L488.2,304.5 L487.9,305.0 L487.6,305.4 L487.0,306.0 L486.7,306.3 L486.1,306.7 L485.5,307.1 L485.0,307.5 L484.5,307.8 L484.0,308.2 L483.5,308.7 L483.1,309.1 L482.7,309.6 L482.3,310.2 L481.9,310.6 L481.5,311.1 L481.0,311.6 L480.7,312.0 L480.1,312.6 L479.8,312.9 L479.2,313.5 L478.8,313.8 L478.6,313.9Z M461.2,346.9 L460.3,346.9 L460.0,346.2 L460.0,345.3 L460.0,344.7 L459.9,343.8 L459.8,342.9 L459.7,342.0 L459.7,341.1 L459.7,340.5 L459.5,339.6 L459.5,338.7 L459.6,337.8 L459.7,337.1 L459.8,336.3 L459.9,335.4 L459.9,334.5 L460.0,333.6 L460.0,332.7 L460.0,332.1 L460.0,331.2 L460.1,330.3 L460.1,329.4 L460.2,328.5 L460.4,327.9 L460.5,327.0 L460.6,326.4 L460.8,325.5 L460.9,324.9 L461.1,324.0 L461.2,323.4 L461.4,322.5 L461.5,321.9 L461.7,321.0 L461.9,320.4 L462.1,319.8 L462.5,319.2 L462.8,318.6 L463.1,318.0 L463.5,317.4 L463.9,317.0 L464.5,316.7 L465.2,316.5 L466.0,316.4 L466.9,316.4 L467.5,316.6 L468.4,316.8 L469.0,317.0 L469.6,317.2 L470.2,317.6 L470.7,318.0 L471.0,318.6 L471.0,319.5 L471.0,320.4 L470.9,321.3 L470.8,322.2 L470.8,322.8 L470.6,323.7 L470.5,324.5 L470.4,325.2 L470.2,326.1 L470.1,326.7 L469.9,327.6 L469.8,328.2 L469.7,329.1 L469.5,329.7 L469.4,330.6 L469.3,331.2 L469.1,332.1 L468.9,332.7 L468.7,333.6 L468.6,334.2 L468.4,334.9 L468.2,335.7 L468.1,336.3 L467.8,337.2 L467.7,337.8 L467.5,338.5 L467.2,339.3 L466.9,339.9 L466.6,340.4 L466.3,341.0 L466.0,341.5 L465.7,342.0 L465.4,342.6 L465.0,343.2 L464.7,343.8 L464.3,344.4 L463.9,344.9 L463.5,345.3 L463.0,345.6 L462.4,346.1 L461.8,346.5 L461.3,346.8 L461.2,346.9Z M456.7,352.6 L455.8,352.7 L455.2,352.5 L454.6,352.1 L454.3,351.6 L454.0,350.7 L454.0,350.1 L453.9,349.2 L453.9,348.3 L453.9,347.4 L453.9,346.5 L453.8,345.6 L453.7,344.7 L453.7,344.1 L453.6,343.2 L453.6,342.3 L453.6,341.4 L453.6,340.5 L453.6,339.6 L453.6,338.7 L453.6,337.8 L453.6,336.9 L453.6,336.0 L453.6,335.1 L453.6,334.2 L453.6,333.3 L453.6,332.4 L453.6,331.5 L453.6,330.6 L453.7,329.7 L453.7,328.8 L453.8,328.2 L453.9,327.3 L454.0,326.4 L454.1,325.8 L454.2,324.9 L454.3,324.2 L454.4,323.4 L454.5,322.5 L454.6,321.8 L454.7,321.0 L454.8,320.1 L454.9,319.5 L455.2,318.6 L455.5,318.0 L455.8,317.7 L456.4,317.3 L457.3,317.2 L458.1,317.4 L458.5,317.7 L458.9,318.3 L459.1,318.9 L459.3,319.8 L459.3,320.7 L459.2,321.6 L459.1,322.2 L459.0,323.1 L458.8,324.0 L458.8,324.6 L458.7,325.5 L458.6,326.4 L458.5,327.0 L458.4,327.9 L458.2,328.8 L458.2,329.4 L458.2,330.3 L458.2,331.2 L458.2,332.1 L458.2,333.0 L458.2,333.9 L458.2,334.8 L458.2,335.7 L458.2,336.3 L458.3,337.2 L458.3,338.1 L458.4,339.0 L458.3,339.9 L458.3,340.8 L458.2,341.7 L458.2,342.6 L458.2,343.5 L458.2,344.1 L458.2,344.7 L458.4,345.6 L458.5,346.5 L458.5,347.1 L458.5,347.7 L458.5,348.6 L458.4,349.5 L458.2,350.4 L458.1,351.0 L457.9,351.6 L457.4,352.2 L457.0,352.5 L456.7,352.6Z" stroke="rgb(67,67,67)" stroke-width="0.5" fill="#000" fill-opacity="0.03"/>
<path d="M486.1,306.3 L485.2,306.5 L484.8,306.0 L484.6,305.1 L484.5,304.5 L484.5,303.6 L484.5,302.7 L484.7,302.1 L485.0,301.5 L485.5,300.9 L486.1,300.7 L487.0,300.8 L487.5,301.2 L487.9,301.7 L488.2,302.3 L488.3,303.0 L488.2,303.9 L488.0,304.5 L487.6,305.1 L487.3,305.4 L486.7,306.0 L486.1,306.3 L486.1,306.3Z M456.7,352.5 L455.8,352.6 L455.2,352.4 L454.6,351.9 L454.3,351.4 L454.1,350.7 L454.1,349.8 L454.0,348.9 L454.0,348.0 L454.0,347.1 L454.0,346.3 L453.9,345.6 L453.8,344.7 L453.8,343.8 L453.7,342.9 L453.7,342.0 L453.7,341.1 L453.7,340.2 L453.7,339.3 L453.7,338.4 L453.7,337.5 L453.7,336.6 L453.7,335.7 L453.7,334.8 L453.7,333.9 L453.7,333.0 L453.7,332.1 L453.7,331.2 L453.7,330.3 L453.8,329.4 L453.8,328.5 L454.0,327.6 L454.0,327.0 L454.1,326.1 L454.3,325.2 L454.3,324.6 L454.5,323.7 L454.6,322.8 L454.7,322.2 L454.8,321.3 L454.9,320.4 L455.0,319.8 L455.2,318.9 L455.4,318.3 L455.8,317.8 L456.4,317.4 L457.0,317.3 L457.8,317.4 L458.3,317.7 L458.8,318.3 L459.0,318.9 L459.1,319.8 L459.1,320.7 L459.0,321.6 L458.8,322.5 L458.7,323.1 L458.6,324.0 L458.5,324.9 L458.5,325.5 L458.3,326.4 L458.2,327.2 L458.1,327.9 L458.0,328.8 L457.9,329.7 L457.9,330.6 L457.9,331.5 L457.9,332.4 L457.9,333.3 L457.9,334.2 L457.9,335.1 L458.0,336.0 L458.0,336.9 L458.0,337.8 L458.0,338.7 L458.0,339.6 L458.0,340.5 L458.0,341.4 L458.0,342.3 L458.0,343.2 L458.0,344.1 L458.0,345.0 L458.2,345.9 L458.2,346.5 L458.3,347.4 L458.2,348.3 L458.2,349.0 L458.2,349.8 L458.1,350.7 L457.9,351.3 L457.5,351.9 L457.0,352.4 L456.7,352.5Z M462.1,344.8 L461.4,344.7 L461.2,344.1 L461.0,343.2 L461.0,342.3 L461.0,341.4 L460.9,340.5 L460.8,339.9 L460.7,339.0 L460.8,338.1 L460.9,337.5 L461.1,336.6 L461.2,335.7 L461.2,334.9 L461.2,334.2 L461.3,333.3 L461.3,332.4 L461.3,331.5 L461.4,330.6 L461.4,329.7 L461.5,329.0 L461.7,328.2 L461.8,327.6 L462.0,326.7 L462.1,326.1 L462.3,325.2 L462.4,324.6 L462.6,323.7 L462.7,323.1 L462.9,322.2 L463.1,321.6 L463.3,320.9 L463.6,320.2 L463.9,319.7 L464.2,319.2 L464.6,318.6 L465.1,318.1 L465.7,317.9 L466.6,317.8 L467.5,317.9 L468.1,318.1 L468.7,318.3 L469.3,318.7 L469.7,319.2 L469.8,320.1 L469.7,321.0 L469.7,321.9 L469.6,322.5 L469.5,323.4 L469.3,324.3 L469.2,324.9 L469.1,325.8 L468.9,326.4 L468.8,327.3 L468.7,327.9 L468.6,328.8 L468.4,329.6 L468.3,330.3 L468.1,331.2 L468.0,331.8 L467.8,332.6 L467.6,333.3 L467.5,333.9 L467.3,334.8 L467.2,335.4 L466.9,336.3 L466.8,336.9 L466.6,337.7 L466.4,338.4 L466.1,339.0 L465.8,339.6 L465.5,340.2 L465.2,340.8 L464.9,341.4 L464.5,342.0 L464.2,342.6 L463.9,343.1 L463.6,343.6 L463.2,344.1 L462.7,344.5 L462.1,344.8 L462.1,344.8Z" stroke="rgb(60,60,60)" stroke-width="0.5" fill="#000" fill-opacity="0.03"/>
<path d="M486.4,305.8 L485.5,305.9 L485.0,305.4 L484.8,304.8 L484.7,303.9 L484.7,303.0 L484.9,302.1 L485.2,301.5 L485.5,301.2 L486.4,300.9 L487.2,301.2 L487.6,301.6 L487.9,302.1 L488.1,303.0 L488.0,303.9 L487.8,304.5 L487.3,305.1 L487.0,305.4 L486.4,305.8 L486.4,305.8Z M456.1,352.5 L455.5,352.4 L454.9,352.1 L454.5,351.6 L454.3,351.0 L454.2,350.1 L454.1,349.2 L454.1,348.3 L454.1,347.4 L454.1,346.5 L454.0,345.6 L453.9,345.0 L453.9,344.1 L453.8,343.2 L453.8,342.3 L453.8,341.4 L453.8,340.5 L453.8,339.6 L453.8,338.7 L453.8,337.8 L453.8,336.9 L453.8,336.0 L453.8,335.1 L453.8,334.2 L453.8,333.3 L453.8,332.4 L453.8,331.5 L453.8,330.6 L453.8,329.7 L453.9,328.8 L454.0,328.0 L454.1,327.3 L454.2,326.4 L454.3,325.6 L454.4,324.9 L454.5,324.0 L454.6,323.4 L454.7,322.5 L454.8,321.6 L454.9,321.0 L455.0,320.1 L455.2,319.2 L455.4,318.6 L455.8,318.0 L456.1,317.7 L456.9,317.4 L457.3,317.4 L458.1,317.7 L458.5,318.2 L458.8,318.9 L458.9,319.5 L458.9,320.4 L458.8,321.3 L458.7,321.9 L458.6,322.8 L458.5,323.5 L458.4,324.3 L458.3,325.2 L458.2,326.0 L458.1,326.7 L458.0,327.6 L457.9,328.2 L457.8,329.1 L457.8,330.0 L457.8,330.9 L457.8,331.8 L457.8,332.7 L457.8,333.6 L457.8,334.5 L457.8,335.4 L457.8,336.3 L457.8,337.2 L457.8,338.1 L457.8,339.0 L457.8,339.9 L457.8,340.8 L457.8,341.7 L457.8,342.6 L457.8,343.5 L457.8,344.4 L457.9,345.3 L458.0,345.9 L458.1,346.8 L458.1,347.7 L458.1,348.6 L458.0,349.5 L458.0,350.4 L457.8,351.0 L457.6,351.6 L457.1,352.2 L456.4,352.5 L456.1,352.5Z M463.0,341.6 L462.6,341.1 L462.4,340.2 L462.3,339.6 L462.3,338.7 L462.4,337.8 L462.5,337.2 L462.7,336.3 L462.7,335.7 L462.8,334.8 L462.8,333.9 L462.9,333.0 L462.9,332.1 L463.0,331.2 L463.0,330.6 L463.1,329.7 L463.2,328.8 L463.4,328.2 L463.6,327.3 L463.8,326.7 L463.9,326.1 L464.1,325.2 L464.2,324.6 L464.5,323.7 L464.6,323.1 L464.8,322.4 L465.1,321.6 L465.3,321.0 L465.7,320.4 L466.0,320.0 L466.6,319.6 L467.5,319.6 L468.1,319.9 L468.4,320.7 L468.4,321.3 L468.4,321.9 L468.3,322.8 L468.1,323.7 L468.0,324.3 L467.9,325.2 L467.8,325.8 L467.6,326.7 L467.5,327.5 L467.4,328.2 L467.2,329.1 L467.1,329.7 L467.0,330.6 L466.9,331.2 L466.7,332.1 L466.5,332.7 L466.3,333.6 L466.2,334.2 L466.0,335.1 L465.9,335.7 L465.7,336.4 L465.5,337.2 L465.3,337.8 L465.1,338.4 L464.8,339.0 L464.5,339.6 L464.1,340.2 L463.7,340.8 L463.3,341.4 L463.0,341.6Z" stroke="rgb(53,53,53)" stroke-width="0.5" fill="#000" fill-opacity="0.03"/>
<path d="M486.1,305.4 L485.5,305.3 L485.2,304.8 L484.9,303.9 L484.9,303.3 L485.0,302.7 L485.2,302.0 L485.6,301.5 L486.4,301.2 L486.7,301.2 L487.3,301.6 L487.7,302.1 L487.9,302.9 L487.9,303.4 L487.7,304.2 L487.3,304.7 L486.9,305.1 L486.3,305.4 L486.1,305.4Z M456.7,352.3 L455.8,352.4 L455.2,352.1 L454.7,351.6 L454.4,351.0 L454.3,350.3 L454.3,349.5 L454.3,348.6 L454.3,347.7 L454.2,346.8 L454.2,345.9 L454.0,345.0 L454.0,344.4 L454.0,343.5 L454.0,342.6 L454.0,341.7 L454.0,340.8 L454.0,339.9 L454.0,339.0 L454.0,338.1 L454.0,337.2 L454.0,336.3 L454.0,335.4 L454.0,334.5 L454.0,333.6 L454.0,332.7 L454.0,331.8 L454.0,330.9 L454.0,330.0 L454.0,329.1 L454.0,328.5 L454.2,327.6 L454.3,326.7 L454.3,326.1 L454.5,325.2 L454.6,324.3 L454.7,323.7 L454.8,322.8 L454.9,322.0 L455.0,321.3 L455.1,320.4 L455.2,319.8 L455.4,318.9 L455.7,318.3 L456.1,317.8 L456.7,317.6 L457.6,317.6 L458.2,318.0 L458.5,318.5 L458.7,319.2 L458.7,320.1 L458.7,321.0 L458.6,321.9 L458.5,322.5 L458.4,323.4 L458.2,324.3 L458.2,324.9 L458.1,325.8 L457.9,326.7 L457.9,327.3 L457.7,328.2 L457.6,329.1 L457.6,329.7 L457.6,330.6 L457.6,331.5 L457.6,332.4 L457.6,333.3 L457.6,334.2 L457.6,335.1 L457.6,336.0 L457.6,336.9 L457.6,337.5 L457.6,338.4 L457.6,339.3 L457.6,340.2 L457.6,340.8 L457.6,341.7 L457.6,342.6 L457.6,343.5 L457.6,344.2 L457.7,345.0 L457.8,345.9 L457.9,346.8 L457.9,347.7 L457.9,348.6 L457.9,349.5 L457.8,350.4 L457.6,351.3 L457.3,351.8 L456.8,352.2 L456.7,352.3Z" stroke="rgb(46,46,46)" stroke-width="0.5" fill="#000" fill-opacity="0.03"/>
<path d="M486.7,304.8 L485.8,304.9 L485.4,304.5 L485.2,303.8 L485.2,303.0 L485.3,302.4 L485.7,301.8 L486.4,301.5 L487.1,301.8 L487.5,302.4 L487.6,303.0 L487.6,303.6 L487.3,304.2 L486.7,304.8 L486.7,304.8Z M456.4,352.2 L455.7,352.2 L455.1,351.9 L454.7,351.3 L454.5,350.7 L454.4,349.8 L454.4,348.9 L454.4,348.0 L454.4,347.1 L454.3,346.2 L454.3,345.6 L454.1,344.7 L454.1,343.8 L454.1,342.9 L454.1,342.0 L454.1,341.1 L454.1,340.2 L454.1,339.3 L454.1,338.4 L454.1,337.5 L454.1,336.6 L454.1,335.7 L454.1,334.8 L454.1,333.9 L454.1,333.0 L454.1,332.1 L454.1,331.2 L454.1,330.3 L454.1,329.4 L454.2,328.5 L454.3,327.6 L454.4,327.0 L454.5,326.1 L454.6,325.2 L454.7,324.6 L454.8,323.7 L454.9,323.1 L455.0,322.2 L455.1,321.3 L455.2,320.7 L455.3,319.8 L455.5,319.0 L455.8,318.4 L456.1,318.0 L456.7,317.7 L457.4,317.7 L458.0,318.0 L458.4,318.6 L458.5,319.2 L458.6,320.1 L458.5,321.0 L458.4,321.6 L458.3,322.5 L458.2,323.3 L458.1,324.0 L458.0,324.9 L457.9,325.7 L457.8,326.4 L457.7,327.3 L457.6,327.9 L457.5,328.8 L457.4,329.7 L457.4,330.6 L457.4,331.5 L457.4,332.4 L457.4,333.3 L457.4,334.2 L457.4,335.1 L457.4,336.0 L457.4,336.9 L457.5,337.8 L457.5,338.7 L457.5,339.6 L457.4,340.5 L457.4,341.4 L457.4,342.3 L457.4,343.2 L457.4,344.1 L457.5,345.0 L457.6,345.6 L457.7,346.5 L457.7,347.4 L457.7,348.3 L457.7,349.2 L457.7,350.1 L457.6,350.7 L457.3,351.6 L457.0,351.9 L456.4,352.2 L456.4,352.2Z" stroke="rgb(39,39,39)" stroke-width="0.5" fill="#000" fill-opacity="0.03"/>
<path d="M486.7,304.3 L485.8,304.2 L485.5,303.6 L485.5,303.1 L485.7,302.4 L486.1,302.0 L486.8,302.1 L487.3,302.7 L487.3,303.3 L487.1,303.9 L486.7,304.3 L486.7,304.3Z M456.7,351.9 L455.8,352.1 L455.2,351.8 L454.8,351.3 L454.6,350.6 L454.5,349.8 L454.5,348.9 L454.5,348.0 L454.5,347.1 L454.5,346.2 L454.3,345.3 L454.3,344.7 L454.2,343.8 L454.2,342.9 L454.2,342.0 L454.2,341.1 L454.2,340.2 L454.2,339.3 L454.2,338.4 L454.2,337.5 L454.2,336.6 L454.2,335.7 L454.2,334.8 L454.2,333.9 L454.2,333.0 L454.2,332.1 L454.2,331.2 L454.2,330.3 L454.2,329.4 L454.3,328.5 L454.4,327.9 L454.5,327.0 L454.6,326.1 L454.7,325.5 L454.8,324.6 L454.9,324.0 L455.0,323.1 L455.1,322.2 L455.2,321.6 L455.3,320.7 L455.5,319.8 L455.6,319.2 L455.8,318.6 L456.4,318.0 L457.0,317.8 L457.7,318.0 L458.2,318.6 L458.4,319.2 L458.4,320.1 L458.4,321.0 L458.2,321.9 L458.1,322.5 L458.0,323.4 L457.9,324.2 L457.8,324.9 L457.7,325.8 L457.6,326.6 L457.5,327.3 L457.4,328.2 L457.3,328.8 L457.3,329.7 L457.3,330.6 L457.3,331.5 L457.3,332.4 L457.3,333.3 L457.3,334.2 L457.3,335.1 L457.3,336.0 L457.3,336.9 L457.3,337.8 L457.3,338.7 L457.3,339.6 L457.3,340.5 L457.3,341.4 L457.3,342.3 L457.3,343.2 L457.3,344.1 L457.3,344.7 L457.4,345.6 L457.5,346.5 L457.6,347.4 L457.5,348.3 L457.5,349.2 L457.5,350.1 L457.4,351.0 L457.1,351.6 L456.7,351.9 L456.7,351.9Z" stroke="rgb(32,32,32)" stroke-width="0.5" fill="#000" fill-opacity="0.03"/>
<path d="M486.4,303.5 L486.4,302.8 L486.4,303.5 L486.4,303.5Z M456.1,351.9 L455.5,351.8 L455.0,351.3 L454.8,350.7 L454.7,349.8 L454.7,348.9 L454.7,348.0 L454.7,347.1 L454.6,346.2 L454.6,345.6 L454.4,344.7 L454.4,343.8 L454.4,342.9 L454.4,342.0 L454.4,341.1 L454.4,340.2 L454.4,339.3 L454.4,338.4 L454.4,337.5 L454.4,336.6 L454.4,335.7 L454.4,334.8 L454.4,333.9 L454.4,333.0 L454.4,332.1 L454.4,331.2 L454.4,330.3 L454.4,329.4 L454.5,328.5 L454.6,327.6 L454.7,327.0 L454.8,326.1 L454.9,325.2 L455.0,324.6 L455.1,323.7 L455.2,323.1 L455.3,322.2 L455.4,321.3 L455.5,320.7 L455.6,319.8 L455.8,319.1 L456.1,318.5 L456.7,318.1 L457.6,318.2 L458.0,318.6 L458.2,319.4 L458.2,320.1 L458.2,320.7 L458.1,321.6 L458.0,322.5 L457.9,323.1 L457.7,324.0 L457.6,324.9 L457.6,325.5 L457.4,326.4 L457.3,327.3 L457.2,327.9 L457.1,328.8 L457.1,329.7 L457.1,330.6 L457.1,331.5 L457.1,332.4 L457.1,333.3 L457.1,334.2 L457.1,335.1 L457.1,336.0 L457.1,336.9 L457.1,337.8 L457.1,338.7 L457.1,339.6 L457.1,340.5 L457.1,341.4 L457.1,342.3 L457.1,343.2 L457.1,344.1 L457.1,345.0 L457.3,345.9 L457.3,346.5 L457.4,347.4 L457.4,348.3 L457.4,349.2 L457.3,350.1 L457.3,350.7 L457.0,351.4 L456.4,351.9 L456.1,351.9Z" stroke="rgb(25,25,25)" stroke-width="0.5" fill="#000" fill-opacity="0.03"/>
<path d="M456.4,351.6 L455.7,351.6 L455.2,351.2 L454.9,350.4 L454.9,349.7 L454.9,348.9 L454.9,348.0 L454.9,347.1 L454.8,346.2 L454.7,345.3 L454.6,344.4 L454.6,343.8 L454.6,342.9 L454.6,342.0 L454.6,341.1 L454.6,340.2 L454.6,339.3 L454.6,338.4 L454.6,337.5 L454.6,336.6 L454.6,335.7 L454.6,334.8 L454.6,333.9 L454.6,333.0 L454.6,332.1 L454.6,331.2 L454.6,330.3 L454.6,329.4 L454.6,328.8 L454.8,327.9 L454.9,327.0 L454.9,326.4 L455.1,325.5 L455.2,324.6 L455.3,324.0 L455.4,323.1 L455.5,322.2 L455.6,321.6 L455.7,320.7 L455.8,320.0 L456.0,319.2 L456.3,318.6 L456.8,318.3 L457.3,318.3 L457.9,318.9 L458.0,319.5 L458.0,320.4 L457.9,321.3 L457.8,321.9 L457.7,322.8 L457.6,323.5 L457.5,324.3 L457.4,325.2 L457.3,325.9 L457.2,326.7 L457.1,327.6 L457.0,328.2 L456.9,329.1 L456.8,330.0 L456.8,330.9 L456.8,331.8 L456.8,332.7 L456.8,333.6 L456.8,334.5 L456.8,335.4 L456.9,336.3 L456.9,337.2 L456.9,338.1 L456.9,339.0 L456.9,339.9 L456.9,340.8 L456.9,341.7 L456.9,342.6 L456.9,343.5 L456.9,344.4 L457.0,345.3 L457.1,345.9 L457.1,346.8 L457.1,347.7 L457.1,348.6 L457.1,349.5 L457.1,350.4 L457.0,351.0 L456.4,351.6 L456.4,351.6Z" stroke="rgb(18,18,18)" stroke-width="0.5" fill="#000" fill-opacity="0.03"/>
<path d="M456.1,351.4 L455.5,351.1 L455.2,350.4 L455.2,349.8 L455.1,348.9 L455.1,348.0 L455.1,347.1 L455.1,346.2 L455.0,345.3 L454.9,344.7 L454.8,343.8 L454.8,342.9 L454.8,342.0 L454.8,341.1 L454.8,340.2 L454.8,339.3 L454.8,338.4 L454.8,337.5 L454.8,336.6 L454.8,335.7 L454.8,334.8 L454.8,333.9 L454.8,333.0 L454.8,332.1 L454.8,331.2 L454.8,330.3 L454.8,329.4 L454.9,328.7 L455.0,327.9 L455.1,327.0 L455.2,326.2 L455.3,325.5 L455.4,324.6 L455.5,324.0 L455.7,323.1 L455.8,322.2 L455.8,321.6 L456.0,320.7 L456.1,319.8 L456.3,319.2 L456.7,318.7 L457.1,318.6 L457.6,319.1 L457.7,319.8 L457.7,320.7 L457.6,321.6 L457.5,322.2 L457.4,323.1 L457.3,323.7 L457.2,324.6 L457.1,325.5 L457.0,326.1 L456.9,327.0 L456.7,327.9 L456.7,328.5 L456.6,329.4 L456.6,330.3 L456.6,331.2 L456.6,332.1 L456.6,333.0 L456.6,333.9 L456.6,334.8 L456.6,335.7 L456.6,336.6 L456.6,337.5 L456.6,338.4 L456.6,339.3 L456.6,340.2 L456.6,341.1 L456.6,342.0 L456.6,342.9 L456.6,343.8 L456.6,344.7 L456.7,345.3 L456.8,346.2 L456.9,347.1 L456.9,348.0 L456.9,348.9 L456.9,349.8 L456.8,350.7 L456.4,351.2 L456.1,351.4Z" stroke="rgb(12,12,12)" stroke-width="0.5" fill="#000" fill-opacity="0.03"/>
<path d="M456.1,350.8 L455.6,350.4 L455.5,349.8 L455.5,348.9 L455.5,348.0 L455.5,347.1 L455.4,346.2 L455.3,345.3 L455.2,344.4 L455.2,343.8 L455.2,342.9 L455.2,342.0 L455.2,341.1 L455.1,340.2 L455.1,339.3 L455.1,338.4 L455.1,337.5 L455.2,336.6 L455.2,335.7 L455.2,334.8 L455.2,333.9 L455.2,333.0 L455.2,332.1 L455.2,331.2 L455.2,330.3 L455.2,329.4 L455.2,328.8 L455.4,327.9 L455.5,327.0 L455.5,326.4 L455.7,325.5 L455.8,324.6 L455.9,324.0 L456.0,323.1 L456.1,322.2 L456.2,321.6 L456.3,320.7 L456.4,320.0 L456.7,319.3 L457.1,319.2 L457.4,319.8 L457.4,320.7 L457.3,321.3 L457.1,322.2 L457.0,323.1 L456.9,323.7 L456.8,324.6 L456.7,325.5 L456.6,326.1 L456.5,327.0 L456.4,327.9 L456.3,328.5 L456.2,329.4 L456.2,330.3 L456.2,331.2 L456.2,332.1 L456.2,333.0 L456.2,333.9 L456.2,334.8 L456.2,335.7 L456.2,336.6 L456.3,337.5 L456.3,338.4 L456.3,339.3 L456.3,340.2 L456.2,341.1 L456.2,342.0 L456.2,342.9 L456.2,343.8 L456.3,344.7 L456.4,345.6 L456.5,346.2 L456.5,347.1 L456.5,348.0 L456.5,348.9 L456.5,349.8 L456.4,350.5 L456.1,350.8Z" stroke="rgb(5,5,5)" stroke-width="0.5" fill="#000" fill-opacity="0.03"/>
</g>
<rect x="248.30" y="298.50" width="58.60" height="59.90" fill="none" stroke="#8a8a8a" stroke-width="0.8"/>
<rect x="279.30" y="299.00" width="23.30" height="17.60" fill="none" stroke="#444" stroke-width="0.8"/>
<text x="259.20" y="306.10" font-size="7.0" font-weight="bold" fill="#1a1a1a" >16.6%</text>
<line x1="244.70" y1="301.50" x2="246.10" y2="301.50" stroke="#555" stroke-width="0.7"/>
<line x1="244.70" y1="306.40" x2="246.10" y2="306.40" stroke="#555" stroke-width="0.7"/>
<line x1="244.70" y1="311.30" x2="246.10" y2="311.30" stroke="#555" stroke-width="0.7"/>
<line x1="244.70" y1="316.20" x2="246.10" y2="316.20" stroke="#555" stroke-width="0.7"/>
<line x1="244.70" y1="321.10" x2="246.10" y2="321.10" stroke="#555" stroke-width="0.7"/>
<line x1="244.70" y1="326.00" x2="246.10" y2="326.00" stroke="#555" stroke-width="0.7"/>
<line x1="244.70" y1="330.90" x2="246.10" y2="330.90" stroke="#555" stroke-width="0.7"/>
<line x1="244.70" y1="335.80" x2="246.10" y2="335.80" stroke="#555" stroke-width="0.7"/>
<line x1="244.70" y1="340.70" x2="246.10" y2="340.70" stroke="#555" stroke-width="0.7"/>
<line x1="244.70" y1="345.60" x2="246.10" y2="345.60" stroke="#555" stroke-width="0.7"/>
<line x1="244.70" y1="350.50" x2="246.10" y2="350.50" stroke="#555" stroke-width="0.7"/>
<line x1="244.70" y1="355.40" x2="246.10" y2="355.40" stroke="#555" stroke-width="0.7"/>
<rect x="311.50" y="298.50" width="58.90" height="59.90" fill="none" stroke="#8a8a8a" stroke-width="0.8"/>
<rect x="343.40" y="299.00" width="21.60" height="16.80" fill="none" stroke="#444" stroke-width="0.8"/>
<text x="321.70" y="305.60" font-size="7.0" font-weight="bold" fill="#1a1a1a" >20.2%</text>
<line x1="310.10" y1="301.50" x2="311.50" y2="301.50" stroke="#555" stroke-width="0.7"/>
<line x1="310.10" y1="306.40" x2="311.50" y2="306.40" stroke="#555" stroke-width="0.7"/>
<line x1="310.10" y1="311.30" x2="311.50" y2="311.30" stroke="#555" stroke-width="0.7"/>
<line x1="310.10" y1="316.20" x2="311.50" y2="316.20" stroke="#555" stroke-width="0.7"/>
<line x1="310.10" y1="321.10" x2="311.50" y2="321.10" stroke="#555" stroke-width="0.7"/>
<line x1="310.10" y1="326.00" x2="311.50" y2="326.00" stroke="#555" stroke-width="0.7"/>
<line x1="310.10" y1="330.90" x2="311.50" y2="330.90" stroke="#555" stroke-width="0.7"/>
<line x1="310.10" y1="335.80" x2="311.50" y2="335.80" stroke="#555" stroke-width="0.7"/>
<line x1="310.10" y1="340.70" x2="311.50" y2="340.70" stroke="#555" stroke-width="0.7"/>
<line x1="310.10" y1="345.60" x2="311.50" y2="345.60" stroke="#555" stroke-width="0.7"/>
<line x1="310.10" y1="350.50" x2="311.50" y2="350.50" stroke="#555" stroke-width="0.7"/>
<line x1="310.10" y1="355.40" x2="311.50" y2="355.40" stroke="#555" stroke-width="0.7"/>
<rect x="377.20" y="298.50" width="59.80" height="59.90" fill="none" stroke="#8a8a8a" stroke-width="0.8"/>
<rect x="409.00" y="299.00" width="23.00" height="18.00" fill="none" stroke="#444" stroke-width="0.8"/>
<text x="389.70" y="306.00" font-size="7.0" font-weight="bold" fill="#1a1a1a" >3.2%</text>
<line x1="375.80" y1="301.50" x2="377.20" y2="301.50" stroke="#555" stroke-width="0.7"/>
<line x1="375.80" y1="306.40" x2="377.20" y2="306.40" stroke="#555" stroke-width="0.7"/>
<line x1="375.80" y1="311.30" x2="377.20" y2="311.30" stroke="#555" stroke-width="0.7"/>
<line x1="375.80" y1="316.20" x2="377.20" y2="316.20" stroke="#555" stroke-width="0.7"/>
<line x1="375.80" y1="321.10" x2="377.20" y2="321.10" stroke="#555" stroke-width="0.7"/>
<line x1="375.80" y1="326.00" x2="377.20" y2="326.00" stroke="#555" stroke-width="0.7"/>
<line x1="375.80" y1="330.90" x2="377.20" y2="330.90" stroke="#555" stroke-width="0.7"/>
<line x1="375.80" y1="335.80" x2="377.20" y2="335.80" stroke="#555" stroke-width="0.7"/>
<line x1="375.80" y1="340.70" x2="377.20" y2="340.70" stroke="#555" stroke-width="0.7"/>
<line x1="375.80" y1="345.60" x2="377.20" y2="345.60" stroke="#555" stroke-width="0.7"/>
<line x1="375.80" y1="350.50" x2="377.20" y2="350.50" stroke="#555" stroke-width="0.7"/>
<line x1="375.80" y1="355.40" x2="377.20" y2="355.40" stroke="#555" stroke-width="0.7"/>
<rect x="443.50" y="298.50" width="59.30" height="59.90" fill="none" stroke="#8a8a8a" stroke-width="0.8"/>
<rect x="474.30" y="299.00" width="23.40" height="18.00" fill="none" stroke="#444" stroke-width="0.8"/>
<text x="455.90" y="306.30" font-size="7.0" font-weight="bold" fill="#1a1a1a" >3.3%</text>
<line x1="442.10" y1="301.50" x2="443.50" y2="301.50" stroke="#555" stroke-width="0.7"/>
<line x1="442.10" y1="306.40" x2="443.50" y2="306.40" stroke="#555" stroke-width="0.7"/>
<line x1="442.10" y1="311.30" x2="443.50" y2="311.30" stroke="#555" stroke-width="0.7"/>
<line x1="442.10" y1="316.20" x2="443.50" y2="316.20" stroke="#555" stroke-width="0.7"/>
<line x1="442.10" y1="321.10" x2="443.50" y2="321.10" stroke="#555" stroke-width="0.7"/>
<line x1="442.10" y1="326.00" x2="443.50" y2="326.00" stroke="#555" stroke-width="0.7"/>
<line x1="442.10" y1="330.90" x2="443.50" y2="330.90" stroke="#555" stroke-width="0.7"/>
<line x1="442.10" y1="335.80" x2="443.50" y2="335.80" stroke="#555" stroke-width="0.7"/>
<line x1="442.10" y1="340.70" x2="443.50" y2="340.70" stroke="#555" stroke-width="0.7"/>
<line x1="442.10" y1="345.60" x2="443.50" y2="345.60" stroke="#555" stroke-width="0.7"/>
<line x1="442.10" y1="350.50" x2="443.50" y2="350.50" stroke="#555" stroke-width="0.7"/>
<line x1="442.10" y1="355.40" x2="443.50" y2="355.40" stroke="#555" stroke-width="0.7"/>
<line x1="246.10" y1="293.70" x2="246.10" y2="358.40" stroke="#111" stroke-width="1.1"/>
<path d="M243.9,295.7 L246.1,289.7 L248.29999999999998,295.7 Z" fill="#111" stroke="none" stroke-width="1" />
<line x1="246.10" y1="358.40" x2="499.60" y2="358.40" stroke="#111" stroke-width="1.1"/>
<path d="M497.6,356.2 L503.6,358.4 L497.6,360.59999999999997 Z" fill="#111" stroke="none" stroke-width="1" />
<line x1="250.00" y1="358.40" x2="250.00" y2="359.80" stroke="#555" stroke-width="0.7"/>
<line x1="258.62" y1="358.40" x2="258.62" y2="359.80" stroke="#555" stroke-width="0.7"/>
<line x1="267.24" y1="358.40" x2="267.24" y2="359.80" stroke="#555" stroke-width="0.7"/>
<line x1="275.86" y1="358.40" x2="275.86" y2="359.80" stroke="#555" stroke-width="0.7"/>
<line x1="284.48" y1="358.40" x2="284.48" y2="359.80" stroke="#555" stroke-width="0.7"/>
<line x1="293.10" y1="358.40" x2="293.10" y2="359.80" stroke="#555" stroke-width="0.7"/>
<line x1="301.72" y1="358.40" x2="301.72" y2="359.80" stroke="#555" stroke-width="0.7"/>
<line x1="310.34" y1="358.40" x2="310.34" y2="359.80" stroke="#555" stroke-width="0.7"/>
<line x1="318.97" y1="358.40" x2="318.97" y2="359.80" stroke="#555" stroke-width="0.7"/>
<line x1="327.59" y1="358.40" x2="327.59" y2="359.80" stroke="#555" stroke-width="0.7"/>
<line x1="336.21" y1="358.40" x2="336.21" y2="359.80" stroke="#555" stroke-width="0.7"/>
<line x1="344.83" y1="358.40" x2="344.83" y2="359.80" stroke="#555" stroke-width="0.7"/>
<line x1="353.45" y1="358.40" x2="353.45" y2="359.80" stroke="#555" stroke-width="0.7"/>
<line x1="362.07" y1="358.40" x2="362.07" y2="359.80" stroke="#555" stroke-width="0.7"/>
<line x1="370.69" y1="358.40" x2="370.69" y2="359.80" stroke="#555" stroke-width="0.7"/>
<line x1="379.31" y1="358.40" x2="379.31" y2="359.80" stroke="#555" stroke-width="0.7"/>
<line x1="387.93" y1="358.40" x2="387.93" y2="359.80" stroke="#555" stroke-width="0.7"/>
<line x1="396.55" y1="358.40" x2="396.55" y2="359.80" stroke="#555" stroke-width="0.7"/>
<line x1="405.17" y1="358.40" x2="405.17" y2="359.80" stroke="#555" stroke-width="0.7"/>
<line x1="413.79" y1="358.40" x2="413.79" y2="359.80" stroke="#555" stroke-width="0.7"/>
<line x1="422.41" y1="358.40" x2="422.41" y2="359.80" stroke="#555" stroke-width="0.7"/>
<line x1="431.03" y1="358.40" x2="431.03" y2="359.80" stroke="#555" stroke-width="0.7"/>
<line x1="439.66" y1="358.40" x2="439.66" y2="359.80" stroke="#555" stroke-width="0.7"/>
<line x1="448.28" y1="358.40" x2="448.28" y2="359.80" stroke="#555" stroke-width="0.7"/>
<line x1="456.90" y1="358.40" x2="456.90" y2="359.80" stroke="#555" stroke-width="0.7"/>
<line x1="465.52" y1="358.40" x2="465.52" y2="359.80" stroke="#555" stroke-width="0.7"/>
<line x1="474.14" y1="358.40" x2="474.14" y2="359.80" stroke="#555" stroke-width="0.7"/>
<line x1="482.76" y1="358.40" x2="482.76" y2="359.80" stroke="#555" stroke-width="0.7"/>
<line x1="491.38" y1="358.40" x2="491.38" y2="359.80" stroke="#555" stroke-width="0.7"/>
<line x1="500.00" y1="358.40" x2="500.00" y2="359.80" stroke="#555" stroke-width="0.7"/>
<text x="224.80" y="331.60" font-size="8.4" textLength="15.6" lengthAdjust="spacingAndGlyphs" fill="#222" stroke="#222" stroke-width="0.3" >CD71</text>
<text x="470.60" y="370.90" font-size="8.8" textLength="21.2" lengthAdjust="spacingAndGlyphs" fill="#222" stroke="#222" stroke-width="0.3" >TER119</text>
<clipPath id="cl607"><rect x="248.1" y="378.8" width="58.50000000000003" height="59.80000000000001"/></clipPath>
<g clip-path="url(#cl607)" fill="none" stroke-linejoin="round">
<path d="M276.9,420.8 L276.0,420.9 L275.1,421.0 L274.2,421.0 L273.3,420.9 L272.6,420.8 L271.8,420.6 L271.2,420.5 L270.4,420.2 L269.8,419.9 L269.2,419.6 L268.8,419.3 L268.2,418.9 L267.7,418.4 L267.3,418.0 L266.8,417.5 L266.4,416.9 L266.1,416.4 L265.8,415.9 L265.5,415.2 L265.3,414.5 L265.1,413.9 L265.0,413.0 L265.0,412.1 L265.1,411.2 L265.2,410.6 L265.5,409.9 L265.8,409.3 L266.1,408.8 L266.5,408.2 L267.0,407.7 L267.4,407.3 L267.9,406.9 L268.5,406.5 L269.1,406.1 L269.7,405.8 L270.3,405.5 L270.9,405.3 L271.5,405.1 L272.3,404.9 L273.0,404.7 L273.8,404.6 L274.5,404.5 L275.4,404.4 L276.3,404.4 L277.2,404.3 L277.8,404.2 L278.7,404.1 L279.3,403.9 L279.9,403.7 L280.6,403.4 L281.3,403.1 L282.0,402.8 L282.6,402.6 L283.2,402.4 L284.1,402.2 L284.7,402.1 L285.6,402.1 L286.5,402.2 L287.1,402.3 L287.7,402.5 L288.3,402.9 L288.9,403.3 L289.2,403.7 L289.6,404.3 L289.9,404.9 L290.2,405.5 L290.6,406.1 L290.9,406.7 L291.2,407.3 L291.6,407.9 L291.8,408.5 L292.0,409.1 L292.2,409.7 L292.4,410.6 L292.5,411.5 L292.5,412.1 L292.5,413.0 L292.4,413.6 L292.2,414.4 L291.9,415.1 L291.6,415.7 L291.3,416.1 L290.9,416.6 L290.4,417.1 L289.9,417.5 L289.5,417.8 L288.9,418.2 L288.3,418.5 L287.7,418.8 L287.1,419.1 L286.5,419.3 L285.6,419.6 L285.0,419.8 L284.4,419.9 L283.5,420.1 L282.7,420.2 L282.0,420.3 L281.1,420.4 L280.2,420.5 L279.6,420.5 L278.7,420.6 L277.8,420.7 L277.1,420.8 L276.9,420.8Z" stroke="rgb(132,132,132)" stroke-width="0.6" fill="#000" fill-opacity="0.05"/>
<path d="M277.5,419.6 L276.6,419.7 L275.7,419.7 L274.8,419.8 L273.9,419.7 L273.0,419.6 L272.4,419.5 L271.6,419.3 L270.9,419.0 L270.3,418.7 L269.7,418.4 L269.3,418.1 L268.8,417.7 L268.3,417.2 L267.9,416.7 L267.6,416.3 L267.2,415.7 L266.9,415.1 L266.7,414.4 L266.5,413.6 L266.4,412.7 L266.5,411.8 L266.7,410.9 L266.9,410.3 L267.2,409.7 L267.6,409.2 L267.9,408.8 L268.5,408.2 L268.8,407.9 L269.4,407.4 L270.0,407.1 L270.6,406.8 L271.2,406.5 L271.8,406.3 L272.4,406.1 L273.3,405.9 L273.9,405.8 L274.8,405.6 L275.7,405.5 L276.4,405.5 L277.2,405.4 L278.1,405.4 L279.0,405.2 L279.6,405.1 L280.2,404.9 L280.8,404.6 L281.4,404.3 L282.0,404.0 L282.6,403.7 L283.5,403.4 L284.1,403.3 L285.0,403.2 L285.9,403.3 L286.5,403.4 L287.1,403.7 L287.7,404.2 L288.0,404.6 L288.4,405.2 L288.7,405.8 L289.1,406.4 L289.5,407.0 L289.8,407.5 L290.1,408.1 L290.4,408.7 L290.6,409.4 L290.7,410.0 L290.8,410.9 L290.9,411.8 L290.8,412.7 L290.7,413.3 L290.4,414.1 L290.1,414.8 L289.8,415.3 L289.5,415.7 L288.9,416.3 L288.6,416.6 L288.0,417.0 L287.4,417.4 L286.8,417.7 L286.2,418.0 L285.6,418.3 L285.0,418.5 L284.1,418.7 L283.5,418.9 L282.7,419.0 L282.0,419.1 L281.1,419.2 L280.5,419.3 L279.6,419.4 L278.7,419.5 L277.8,419.6 L277.5,419.6Z" stroke="rgb(127,127,127)" stroke-width="0.6" fill="#000" fill-opacity="0.05"/>
<path d="M278.7,418.7 L277.8,418.8 L276.9,418.9 L276.0,418.9 L275.1,419.0 L274.2,418.9 L273.3,418.8 L272.6,418.7 L271.8,418.5 L271.2,418.2 L270.6,417.9 L270.0,417.5 L269.6,417.2 L269.1,416.7 L268.7,416.3 L268.3,415.7 L268.0,415.1 L267.7,414.5 L267.6,413.9 L267.4,413.0 L267.5,412.1 L267.6,411.4 L267.9,410.6 L268.2,410.0 L268.5,409.5 L268.9,409.1 L269.4,408.6 L269.9,408.2 L270.3,407.9 L270.9,407.6 L271.5,407.3 L272.2,407.0 L273.0,406.8 L273.6,406.6 L274.5,406.4 L275.1,406.4 L276.0,406.3 L276.9,406.2 L277.8,406.2 L278.7,406.1 L279.3,406.1 L280.2,405.9 L280.8,405.7 L281.4,405.4 L282.0,405.1 L282.6,404.8 L283.2,404.5 L283.8,404.3 L284.7,404.2 L285.6,404.3 L286.2,404.5 L286.7,404.9 L287.1,405.4 L287.4,405.9 L287.8,406.4 L288.2,407.0 L288.6,407.5 L288.9,408.0 L289.2,408.5 L289.5,409.3 L289.7,410.0 L289.8,410.9 L289.7,411.8 L289.6,412.7 L289.4,413.3 L289.2,413.9 L288.9,414.5 L288.5,415.1 L288.0,415.7 L287.6,416.0 L287.1,416.4 L286.5,416.8 L285.9,417.1 L285.3,417.4 L284.7,417.6 L284.1,417.8 L283.2,418.1 L282.6,418.2 L281.7,418.4 L281.1,418.4 L280.2,418.6 L279.3,418.7 L278.7,418.7 L278.7,418.7Z" stroke="rgb(123,123,123)" stroke-width="0.6" fill="#000" fill-opacity="0.05"/>
<path d="M278.7,418.1 L277.8,418.2 L276.9,418.3 L276.0,418.3 L275.1,418.4 L274.2,418.3 L273.3,418.2 L272.7,418.1 L271.9,417.8 L271.2,417.5 L270.7,417.2 L270.3,416.9 L269.7,416.4 L269.4,416.0 L269.0,415.4 L268.6,414.8 L268.4,414.2 L268.2,413.3 L268.2,412.7 L268.2,412.1 L268.4,411.2 L268.7,410.6 L269.1,410.0 L269.4,409.6 L269.8,409.1 L270.3,408.7 L270.9,408.3 L271.5,408.0 L272.1,407.7 L272.7,407.5 L273.3,407.3 L274.2,407.1 L274.9,407.0 L275.7,406.9 L276.6,406.8 L277.5,406.8 L278.4,406.8 L279.3,406.7 L280.0,406.7 L280.8,406.6 L281.5,406.4 L282.3,406.1 L282.9,405.8 L283.5,405.6 L284.1,405.4 L285.0,405.4 L285.6,405.7 L286.0,406.1 L286.5,406.5 L287.0,407.0 L287.4,407.5 L287.8,407.9 L288.2,408.5 L288.5,409.1 L288.7,409.7 L288.9,410.6 L288.9,411.5 L288.7,412.4 L288.6,413.0 L288.3,413.7 L288.0,414.2 L287.6,414.8 L287.1,415.4 L286.7,415.7 L286.2,416.1 L285.6,416.5 L285.0,416.8 L284.4,417.0 L283.8,417.2 L282.9,417.5 L282.3,417.6 L281.4,417.8 L280.8,417.9 L279.9,418.0 L279.0,418.1 L278.7,418.1Z" stroke="rgb(118,118,118)" stroke-width="0.6" fill="#000" fill-opacity="0.05"/>
<path d="M276.6,417.8 L275.7,417.9 L274.8,417.8 L274.2,417.8 L273.3,417.7 L272.7,417.5 L271.9,417.2 L271.3,416.9 L270.9,416.6 L270.3,416.1 L269.9,415.7 L269.5,415.1 L269.2,414.5 L269.0,413.9 L268.8,413.0 L268.9,412.1 L269.1,411.2 L269.4,410.6 L269.7,410.2 L270.1,409.7 L270.6,409.2 L271.2,408.8 L271.7,408.5 L272.3,408.2 L273.0,407.9 L273.6,407.8 L274.3,407.6 L275.1,407.5 L276.0,407.4 L276.9,407.3 L277.8,407.3 L278.7,407.3 L279.3,407.3 L280.2,407.3 L281.1,407.2 L282.0,407.1 L282.8,407.0 L283.5,406.9 L284.4,406.9 L285.0,407.0 L285.7,407.3 L286.2,407.6 L286.8,408.0 L287.2,408.5 L287.7,409.1 L287.9,409.7 L288.0,410.3 L288.1,411.2 L288.0,412.0 L287.8,412.7 L287.6,413.3 L287.3,413.9 L286.9,414.5 L286.5,415.0 L286.0,415.4 L285.6,415.7 L285.0,416.1 L284.4,416.4 L283.8,416.6 L283.0,416.9 L282.3,417.1 L281.7,417.2 L280.8,417.4 L279.9,417.5 L279.3,417.6 L278.4,417.7 L277.5,417.7 L276.8,417.8 L276.6,417.8Z" stroke="rgb(113,113,113)" stroke-width="0.6" fill="#000" fill-opacity="0.05"/>
<path d="M278.4,417.2 L277.5,417.3 L276.6,417.4 L275.7,417.4 L274.8,417.4 L273.9,417.3 L273.3,417.2 L272.5,416.9 L271.8,416.6 L271.3,416.3 L270.9,416.0 L270.3,415.4 L270.0,414.9 L269.7,414.3 L269.5,413.6 L269.4,413.0 L269.4,412.4 L269.6,411.5 L269.9,410.9 L270.3,410.3 L270.6,409.9 L271.2,409.4 L271.6,409.1 L272.1,408.8 L272.8,408.5 L273.6,408.2 L274.2,408.1 L275.1,407.9 L275.7,407.8 L276.6,407.8 L277.5,407.7 L278.4,407.7 L279.3,407.8 L280.2,407.8 L281.1,407.8 L282.0,407.8 L282.9,407.8 L283.8,407.8 L284.6,407.9 L285.3,408.1 L285.9,408.4 L286.4,408.8 L286.8,409.2 L287.1,409.8 L287.3,410.6 L287.3,411.5 L287.2,412.4 L287.0,413.0 L286.7,413.6 L286.3,414.2 L285.9,414.7 L285.4,415.1 L285.0,415.4 L284.4,415.8 L283.8,416.1 L283.2,416.3 L282.3,416.6 L281.7,416.7 L280.9,416.9 L280.2,417.0 L279.3,417.1 L278.6,417.2 L278.4,417.2Z" stroke="rgb(109,109,109)" stroke-width="0.6" fill="#000" fill-opacity="0.05"/>
<path d="M277.5,416.9 L276.6,417.0 L275.7,417.0 L274.8,417.0 L274.2,416.9 L273.3,416.7 L272.7,416.5 L272.1,416.2 L271.5,415.8 L271.0,415.4 L270.6,414.9 L270.3,414.4 L270.0,413.6 L269.9,413.0 L270.0,412.1 L270.1,411.5 L270.4,410.9 L270.9,410.3 L271.2,410.0 L271.8,409.5 L272.4,409.2 L273.0,408.9 L273.6,408.7 L274.2,408.5 L275.1,408.3 L276.0,408.2 L276.6,408.2 L277.5,408.1 L278.4,408.2 L279.3,408.2 L279.9,408.2 L280.8,408.3 L281.7,408.3 L282.6,408.4 L283.5,408.5 L284.1,408.6 L284.9,408.8 L285.5,409.1 L285.9,409.4 L286.3,410.0 L286.6,410.6 L286.6,411.5 L286.5,412.3 L286.3,413.0 L286.0,413.6 L285.6,414.1 L285.3,414.5 L284.7,415.0 L284.1,415.4 L283.5,415.7 L282.9,415.9 L282.3,416.1 L281.7,416.3 L280.8,416.5 L280.2,416.6 L279.3,416.7 L278.4,416.8 L277.6,416.9 L277.5,416.9Z" stroke="rgb(104,104,104)" stroke-width="0.6" fill="#000" fill-opacity="0.05"/>
<path d="M276.6,416.6 L275.7,416.6 L275.1,416.6 L274.2,416.5 L273.4,416.3 L272.7,416.1 L272.1,415.7 L271.7,415.4 L271.2,414.9 L270.9,414.5 L270.6,413.9 L270.4,413.0 L270.5,412.1 L270.7,411.5 L271.0,410.9 L271.5,410.3 L271.9,410.0 L272.4,409.6 L273.0,409.3 L273.6,409.1 L274.5,408.8 L275.1,408.7 L276.0,408.6 L276.9,408.5 L277.8,408.5 L278.7,408.5 L279.6,408.6 L280.5,408.7 L281.4,408.8 L282.0,408.9 L282.9,409.0 L283.5,409.1 L284.4,409.4 L285.0,409.7 L285.3,410.0 L285.7,410.6 L285.9,411.5 L285.8,412.4 L285.6,413.0 L285.2,413.6 L284.8,414.2 L284.4,414.5 L283.8,415.0 L283.2,415.3 L282.6,415.6 L282.0,415.8 L281.2,416.0 L280.5,416.1 L279.6,416.3 L279.0,416.4 L278.1,416.5 L277.2,416.6 L276.6,416.6 L276.6,416.6Z" stroke="rgb(99,99,99)" stroke-width="0.6" fill="#000" fill-opacity="0.05"/>
<path d="M279.0,416.0 L278.1,416.1 L277.2,416.2 L276.3,416.3 L275.4,416.2 L274.5,416.2 L273.8,416.0 L273.0,415.7 L272.4,415.4 L272.0,415.1 L271.5,414.6 L271.2,414.1 L270.9,413.3 L270.9,412.7 L271.0,412.1 L271.2,411.5 L271.6,410.9 L272.1,410.4 L272.6,410.0 L273.1,409.7 L273.8,409.4 L274.5,409.2 L275.1,409.1 L276.0,408.9 L276.9,408.9 L277.8,408.9 L278.7,408.9 L279.6,409.0 L280.5,409.1 L281.1,409.2 L282.0,409.3 L282.6,409.5 L283.4,409.7 L284.1,410.0 L284.5,410.3 L285.0,410.9 L285.1,411.5 L285.1,412.4 L284.9,413.0 L284.5,413.6 L284.1,414.1 L283.6,414.5 L283.2,414.8 L282.6,415.1 L281.8,415.4 L281.1,415.6 L280.5,415.8 L279.6,415.9 L279.0,416.0 L279.0,416.0Z" stroke="rgb(95,95,95)" stroke-width="0.6" fill="#000" fill-opacity="0.05"/>
<path d="M278.7,415.7 L277.8,415.8 L276.9,415.9 L276.0,415.9 L275.1,415.9 L274.2,415.7 L273.6,415.5 L273.0,415.3 L272.4,414.9 L272.0,414.5 L271.6,413.9 L271.4,413.3 L271.4,412.4 L271.6,411.8 L271.9,411.2 L272.4,410.7 L272.9,410.3 L273.4,410.0 L274.1,409.7 L274.8,409.5 L275.4,409.4 L276.3,409.3 L277.2,409.2 L278.1,409.2 L279.0,409.3 L279.8,409.4 L280.5,409.5 L281.4,409.7 L282.0,409.8 L282.6,410.0 L283.3,410.3 L283.8,410.7 L284.2,411.2 L284.4,412.0 L284.4,412.4 L284.1,413.1 L283.8,413.6 L283.2,414.2 L282.8,414.5 L282.2,414.8 L281.5,415.1 L280.8,415.3 L280.2,415.4 L279.3,415.6 L278.7,415.7 L278.7,415.7Z" stroke="rgb(90,90,90)" stroke-width="0.6" fill="#000" fill-opacity="0.05"/>
<path d="M278.1,415.4 L277.2,415.5 L276.3,415.5 L275.4,415.5 L274.6,415.4 L273.9,415.2 L273.3,414.9 L272.7,414.5 L272.4,414.2 L272.0,413.6 L271.9,412.7 L272.1,411.8 L272.4,411.3 L272.8,410.9 L273.3,410.5 L273.9,410.2 L274.5,410.0 L275.4,409.7 L276.0,409.6 L276.9,409.6 L277.8,409.6 L278.7,409.6 L279.3,409.7 L280.2,409.9 L280.9,410.0 L281.7,410.2 L282.3,410.5 L282.9,410.8 L283.3,411.2 L283.6,411.8 L283.6,412.7 L283.3,413.3 L282.9,413.7 L282.3,414.2 L281.8,414.5 L281.1,414.8 L280.5,415.0 L279.9,415.1 L279.0,415.3 L278.3,415.4 L278.1,415.4Z" stroke="rgb(85,85,85)" stroke-width="0.6" fill="#000" fill-opacity="0.05"/>
<path d="M277.5,415.1 L276.6,415.2 L275.7,415.2 L275.1,415.1 L274.2,414.9 L273.6,414.6 L273.0,414.2 L272.7,413.8 L272.4,413.0 L272.4,412.6 L272.6,411.8 L273.0,411.3 L273.5,410.9 L274.0,410.6 L274.7,410.3 L275.4,410.1 L276.0,410.0 L276.9,409.9 L277.8,409.9 L278.7,410.0 L279.3,410.1 L280.2,410.3 L280.8,410.4 L281.4,410.7 L282.0,411.0 L282.6,411.5 L282.8,412.1 L282.7,413.0 L282.3,413.5 L281.9,413.9 L281.4,414.2 L280.6,414.5 L279.9,414.7 L279.3,414.9 L278.4,415.0 L277.8,415.1 L277.5,415.1Z" stroke="rgb(81,81,81)" stroke-width="0.6" fill="#000" fill-opacity="0.05"/>
<path d="M276.6,414.8 L276.0,414.8 L275.1,414.7 L274.4,414.5 L273.8,414.2 L273.3,413.7 L273.0,413.1 L273.0,412.4 L273.3,411.8 L273.6,411.4 L274.2,411.0 L274.8,410.7 L275.4,410.5 L276.3,410.3 L276.9,410.3 L277.6,410.3 L278.4,410.4 L279.3,410.5 L279.9,410.6 L280.6,410.9 L281.2,411.2 L281.7,411.6 L282.0,412.2 L282.0,412.7 L281.6,413.3 L281.1,413.7 L280.5,414.1 L279.9,414.3 L279.1,414.5 L278.4,414.6 L277.5,414.7 L276.6,414.8 L276.6,414.8Z" stroke="rgb(76,76,76)" stroke-width="0.6" fill="#000" fill-opacity="0.05"/>
</g>
<clipPath id="cl623"><rect x="310.4" y="378.8" width="59.200000000000045" height="59.80000000000001"/></clipPath>
<g clip-path="url(#cl623)" fill="none" stroke-linejoin="round">
<path d="M343.7,421.4 L342.8,421.5 L341.9,421.5 L341.0,421.6 L340.1,421.6 L339.2,421.6 L338.3,421.5 L337.4,421.4 L336.8,421.3 L335.9,421.1 L335.3,421.0 L334.7,420.8 L334.1,420.5 L333.5,420.2 L332.9,419.9 L332.3,419.5 L331.7,419.0 L331.3,418.7 L330.8,418.2 L330.5,417.8 L330.0,417.2 L329.7,416.6 L329.3,416.0 L329.1,415.4 L328.9,414.8 L328.7,413.9 L328.6,413.3 L328.7,412.4 L328.7,411.8 L329.0,410.9 L329.2,410.3 L329.5,409.7 L329.9,409.1 L330.2,408.7 L330.7,408.2 L331.1,407.8 L331.6,407.3 L332.0,407.0 L332.6,406.6 L333.2,406.3 L333.8,406.0 L334.4,405.7 L335.0,405.5 L335.9,405.2 L336.5,405.1 L337.4,404.9 L338.0,404.8 L338.9,404.7 L339.8,404.6 L340.4,404.6 L341.3,404.5 L342.2,404.4 L342.9,404.3 L343.7,404.1 L344.3,403.9 L344.9,403.7 L345.5,403.4 L346.2,403.1 L346.9,402.8 L347.6,402.5 L348.2,402.3 L348.8,402.2 L349.7,402.0 L350.3,401.9 L351.2,401.8 L352.1,401.8 L353.0,401.9 L353.6,402.0 L354.4,402.2 L355.1,402.5 L355.5,402.8 L356.0,403.3 L356.3,403.8 L356.5,404.6 L356.6,405.2 L356.9,406.1 L357.2,406.7 L357.5,407.1 L357.8,407.6 L358.1,408.2 L358.4,408.8 L358.7,409.5 L358.9,410.3 L359.0,410.9 L359.1,411.8 L359.1,412.7 L359.0,413.5 L358.8,414.2 L358.6,414.8 L358.3,415.4 L358.0,416.0 L357.5,416.6 L357.2,417.0 L356.6,417.5 L356.3,417.8 L355.7,418.3 L355.1,418.6 L354.5,419.0 L353.9,419.3 L353.3,419.6 L352.7,419.8 L352.1,420.0 L351.5,420.2 L350.6,420.5 L350.0,420.6 L349.1,420.8 L348.5,420.9 L347.6,421.0 L347.0,421.1 L346.1,421.2 L345.2,421.3 L344.3,421.4 L343.7,421.4 L343.7,421.4Z" stroke="rgb(132,132,132)" stroke-width="0.6" fill="#000" fill-opacity="0.05"/>
<path d="M343.7,420.2 L342.8,420.3 L341.9,420.3 L341.0,420.4 L340.1,420.4 L339.2,420.4 L338.3,420.3 L337.6,420.2 L336.8,420.0 L336.2,419.9 L335.3,419.6 L334.7,419.3 L334.1,419.0 L333.6,418.7 L333.2,418.4 L332.6,417.9 L332.1,417.5 L331.7,417.0 L331.4,416.6 L331.0,416.0 L330.7,415.4 L330.5,414.7 L330.3,413.9 L330.2,413.0 L330.3,412.1 L330.5,411.4 L330.8,410.6 L331.1,410.1 L331.4,409.6 L331.8,409.1 L332.3,408.6 L332.8,408.2 L333.2,407.9 L333.8,407.5 L334.4,407.1 L335.0,406.9 L335.6,406.6 L336.3,406.4 L337.1,406.2 L337.7,406.1 L338.6,405.9 L339.5,405.8 L340.1,405.8 L341.0,405.7 L341.9,405.7 L342.8,405.6 L343.7,405.5 L344.3,405.4 L345.1,405.2 L345.8,404.9 L346.4,404.6 L346.9,404.3 L347.5,404.0 L348.1,403.7 L348.8,403.4 L349.4,403.3 L350.3,403.1 L350.9,403.0 L351.8,403.1 L352.4,403.2 L353.1,403.4 L353.6,403.7 L354.1,404.3 L354.3,404.9 L354.5,405.5 L354.8,406.1 L355.2,406.7 L355.7,407.3 L356.0,407.7 L356.4,408.2 L356.7,408.8 L357.0,409.4 L357.2,410.0 L357.4,410.9 L357.4,411.8 L357.4,412.7 L357.2,413.4 L356.9,414.2 L356.6,414.8 L356.3,415.3 L356.0,415.8 L355.5,416.3 L355.1,416.7 L354.5,417.2 L354.1,417.5 L353.6,417.8 L353.0,418.1 L352.4,418.4 L351.8,418.7 L351.0,419.0 L350.3,419.2 L349.7,419.4 L348.8,419.6 L348.2,419.7 L347.3,419.9 L346.7,419.9 L345.8,420.0 L344.9,420.1 L344.0,420.2 L343.7,420.2Z" stroke="rgb(127,127,127)" stroke-width="0.6" fill="#000" fill-opacity="0.05"/>
<path d="M345.2,419.3 L344.3,419.4 L343.4,419.5 L342.5,419.5 L341.6,419.6 L340.7,419.6 L339.8,419.6 L338.9,419.5 L338.0,419.4 L337.4,419.3 L336.5,419.1 L335.9,418.9 L335.3,418.6 L334.7,418.3 L334.1,417.9 L333.5,417.5 L333.2,417.2 L332.6,416.6 L332.3,416.1 L332.0,415.6 L331.7,415.0 L331.5,414.2 L331.4,413.6 L331.3,412.7 L331.4,412.1 L331.7,411.2 L332.0,410.6 L332.3,410.1 L332.6,409.7 L333.2,409.1 L333.5,408.8 L334.1,408.4 L334.7,408.0 L335.3,407.7 L335.9,407.4 L336.5,407.2 L337.3,407.0 L338.0,406.9 L338.9,406.7 L339.5,406.6 L340.4,406.6 L341.3,406.5 L342.2,406.5 L343.1,406.5 L344.0,406.5 L344.9,406.4 L345.5,406.3 L346.4,406.2 L347.0,406.0 L347.6,405.7 L348.2,405.4 L348.8,405.1 L349.4,404.8 L350.0,404.6 L350.9,404.5 L351.5,404.7 L352.0,405.2 L352.4,405.7 L352.7,406.1 L353.3,406.7 L353.7,407.0 L354.2,407.4 L354.7,407.9 L355.1,408.3 L355.4,408.8 L355.8,409.4 L356.0,410.0 L356.2,410.9 L356.3,411.8 L356.2,412.7 L356.0,413.3 L355.7,414.0 L355.4,414.6 L355.1,415.1 L354.6,415.7 L354.2,416.1 L353.6,416.6 L353.1,416.9 L352.7,417.2 L352.1,417.5 L351.5,417.8 L350.8,418.1 L350.0,418.4 L349.4,418.6 L348.8,418.7 L347.9,418.9 L347.3,419.0 L346.4,419.2 L345.5,419.3 L345.2,419.3Z" stroke="rgb(123,123,123)" stroke-width="0.6" fill="#000" fill-opacity="0.05"/>
<path d="M344.9,418.7 L344.0,418.8 L343.1,418.9 L342.2,418.9 L341.3,418.9 L340.4,419.0 L339.5,418.9 L338.6,418.8 L337.8,418.7 L337.1,418.5 L336.5,418.4 L335.8,418.1 L335.2,417.8 L334.7,417.5 L334.1,417.0 L333.7,416.6 L333.2,416.1 L332.9,415.6 L332.6,415.1 L332.3,414.2 L332.2,413.6 L332.2,412.7 L332.3,412.0 L332.6,411.2 L332.9,410.6 L333.2,410.2 L333.6,409.7 L334.1,409.3 L334.7,408.8 L335.2,408.5 L335.8,408.2 L336.5,407.9 L337.1,407.7 L337.7,407.6 L338.6,407.4 L339.2,407.3 L340.1,407.2 L341.0,407.2 L341.9,407.1 L342.8,407.1 L343.7,407.1 L344.6,407.2 L345.5,407.2 L346.4,407.1 L347.3,407.1 L348.2,407.0 L348.8,406.9 L349.7,406.9 L350.6,406.9 L351.2,407.0 L352.0,407.3 L352.7,407.6 L353.2,407.9 L353.6,408.2 L354.2,408.7 L354.5,409.1 L354.9,409.7 L355.2,410.3 L355.3,411.2 L355.3,412.1 L355.1,413.0 L354.9,413.6 L354.6,414.2 L354.2,414.7 L353.9,415.1 L353.3,415.7 L353.0,416.0 L352.4,416.4 L351.8,416.8 L351.2,417.1 L350.6,417.4 L350.0,417.7 L349.4,417.9 L348.6,418.1 L347.9,418.3 L347.2,418.4 L346.4,418.5 L345.5,418.7 L344.9,418.7 L344.9,418.7Z" stroke="rgb(118,118,118)" stroke-width="0.6" fill="#000" fill-opacity="0.05"/>
<path d="M342.2,418.4 L341.3,418.4 L340.4,418.4 L339.6,418.4 L338.9,418.3 L338.0,418.2 L337.4,418.0 L336.6,417.8 L335.9,417.5 L335.4,417.2 L335.0,416.9 L334.4,416.4 L334.0,416.0 L333.5,415.4 L333.2,414.8 L333.0,414.2 L332.9,413.6 L332.9,412.7 L333.0,412.1 L333.2,411.5 L333.5,410.9 L334.0,410.3 L334.4,409.8 L334.9,409.4 L335.4,409.1 L335.9,408.8 L336.6,408.5 L337.4,408.2 L338.0,408.0 L338.7,407.9 L339.5,407.8 L340.4,407.7 L341.3,407.7 L342.2,407.7 L343.1,407.7 L344.0,407.7 L344.9,407.7 L345.8,407.8 L346.7,407.8 L347.6,407.8 L348.5,407.8 L349.4,407.8 L350.3,407.9 L350.9,407.9 L351.8,408.2 L352.4,408.4 L353.0,408.8 L353.4,409.1 L353.9,409.6 L354.2,410.2 L354.4,410.9 L354.5,411.8 L354.3,412.7 L354.1,413.3 L353.8,413.9 L353.4,414.5 L353.0,415.0 L352.6,415.4 L352.1,415.8 L351.5,416.2 L350.9,416.6 L350.3,416.9 L349.7,417.1 L349.1,417.4 L348.5,417.5 L347.6,417.8 L347.0,417.9 L346.1,418.1 L345.5,418.1 L344.6,418.2 L343.7,418.3 L342.8,418.4 L342.2,418.4 L342.2,418.4Z" stroke="rgb(113,113,113)" stroke-width="0.6" fill="#000" fill-opacity="0.05"/>
<path d="M344.3,417.8 L343.4,417.9 L342.5,418.0 L341.6,418.0 L340.7,418.0 L339.8,418.0 L338.9,417.9 L338.3,417.8 L337.4,417.5 L336.8,417.3 L336.2,417.0 L335.6,416.7 L335.1,416.3 L334.7,415.9 L334.2,415.4 L333.9,414.8 L333.7,414.2 L333.5,413.3 L333.5,412.9 L333.6,412.1 L333.9,411.5 L334.2,410.9 L334.7,410.3 L335.0,410.0 L335.6,409.6 L336.2,409.2 L336.8,408.9 L337.4,408.7 L338.1,408.5 L338.9,408.3 L339.8,408.2 L340.4,408.2 L341.3,408.1 L342.2,408.1 L343.1,408.1 L344.0,408.2 L344.6,408.2 L345.5,408.3 L346.4,408.3 L347.3,408.4 L348.2,408.4 L349.1,408.5 L349.7,408.5 L350.6,408.6 L351.3,408.8 L352.1,409.1 L352.6,409.4 L353.0,409.8 L353.3,410.3 L353.6,410.9 L353.7,411.8 L353.6,412.5 L353.3,413.3 L353.0,413.9 L352.7,414.3 L352.3,414.8 L351.8,415.2 L351.2,415.7 L350.8,416.0 L350.2,416.3 L349.6,416.6 L348.8,416.9 L348.2,417.1 L347.6,417.3 L346.7,417.5 L346.1,417.6 L345.2,417.7 L344.4,417.8 L344.3,417.8Z" stroke="rgb(109,109,109)" stroke-width="0.6" fill="#000" fill-opacity="0.05"/>
<path d="M343.1,417.5 L342.2,417.6 L341.3,417.6 L340.4,417.6 L339.5,417.5 L338.9,417.4 L338.0,417.2 L337.4,417.1 L336.8,416.8 L336.2,416.5 L335.6,416.1 L335.2,415.7 L334.7,415.1 L334.4,414.6 L334.2,413.9 L334.1,413.3 L334.1,412.7 L334.3,411.8 L334.7,411.2 L335.0,410.8 L335.5,410.3 L335.9,410.0 L336.5,409.6 L337.1,409.3 L337.7,409.1 L338.6,408.8 L339.2,408.7 L340.1,408.6 L341.0,408.5 L341.9,408.5 L342.8,408.5 L343.7,408.6 L344.6,408.6 L345.5,408.7 L346.3,408.8 L347.0,408.9 L347.9,408.9 L348.8,409.0 L349.5,409.1 L350.3,409.2 L350.9,409.4 L351.6,409.7 L352.1,410.0 L352.6,410.6 L352.8,411.2 L352.9,412.1 L352.7,412.9 L352.4,413.5 L352.1,414.0 L351.7,414.5 L351.2,415.0 L350.7,415.4 L350.2,415.7 L349.7,416.0 L349.0,416.3 L348.2,416.6 L347.6,416.8 L347.0,417.0 L346.1,417.1 L345.5,417.2 L344.6,417.4 L343.7,417.5 L343.1,417.5 L343.1,417.5Z" stroke="rgb(104,104,104)" stroke-width="0.6" fill="#000" fill-opacity="0.05"/>
<path d="M344.9,416.9 L344.0,417.0 L343.1,417.1 L342.2,417.2 L341.3,417.2 L340.4,417.2 L339.5,417.1 L338.6,416.9 L338.0,416.8 L337.4,416.6 L336.8,416.3 L336.2,415.9 L335.6,415.4 L335.3,415.1 L335.0,414.5 L334.7,413.8 L334.6,413.0 L334.7,412.4 L335.0,411.7 L335.3,411.2 L335.9,410.6 L336.2,410.3 L336.8,409.9 L337.4,409.6 L338.1,409.4 L338.9,409.2 L339.5,409.1 L340.4,409.0 L341.3,408.9 L342.2,408.9 L343.1,408.9 L344.0,409.0 L344.9,409.1 L345.5,409.1 L346.4,409.2 L347.3,409.4 L347.9,409.4 L348.8,409.6 L349.6,409.7 L350.3,409.9 L350.9,410.2 L351.5,410.6 L351.8,411.0 L352.1,411.8 L352.0,412.7 L351.7,413.3 L351.4,413.9 L350.9,414.4 L350.5,414.8 L350.0,415.2 L349.4,415.6 L348.8,415.9 L348.2,416.1 L347.6,416.3 L346.7,416.6 L346.1,416.7 L345.2,416.9 L344.9,416.9Z" stroke="rgb(99,99,99)" stroke-width="0.6" fill="#000" fill-opacity="0.05"/>
<path d="M344.3,416.6 L343.4,416.7 L342.5,416.8 L341.6,416.8 L340.7,416.8 L339.8,416.7 L338.9,416.6 L338.3,416.5 L337.7,416.3 L337.1,416.0 L336.5,415.6 L336.0,415.1 L335.6,414.6 L335.3,414.0 L335.2,413.3 L335.3,412.4 L335.5,411.8 L335.9,411.2 L336.2,410.9 L336.8,410.4 L337.4,410.1 L338.0,409.8 L338.6,409.7 L339.5,409.4 L340.1,409.4 L341.0,409.3 L341.9,409.3 L342.8,409.3 L343.7,409.3 L344.3,409.4 L345.2,409.5 L346.1,409.6 L346.7,409.7 L347.6,409.9 L348.3,410.0 L349.1,410.2 L349.7,410.4 L350.3,410.7 L350.9,411.2 L351.2,411.8 L351.2,412.4 L351.1,413.0 L350.8,413.6 L350.3,414.2 L350.0,414.5 L349.4,415.0 L348.8,415.3 L348.2,415.6 L347.6,415.9 L347.0,416.1 L346.2,416.3 L345.5,416.5 L344.6,416.6 L344.3,416.6Z" stroke="rgb(95,95,95)" stroke-width="0.6" fill="#000" fill-opacity="0.05"/>
<path d="M344.0,416.3 L343.1,416.4 L342.2,416.4 L341.3,416.5 L340.4,416.4 L339.5,416.3 L338.9,416.2 L338.2,416.0 L337.5,415.7 L337.0,415.4 L336.5,415.0 L336.1,414.5 L335.8,413.9 L335.7,413.0 L335.9,412.2 L336.2,411.6 L336.6,411.2 L337.1,410.8 L337.7,410.4 L338.3,410.2 L338.9,410.0 L339.8,409.8 L340.4,409.7 L341.3,409.6 L342.2,409.6 L343.1,409.7 L343.7,409.7 L344.6,409.8 L345.5,409.9 L346.1,410.0 L347.0,410.2 L347.6,410.4 L348.5,410.6 L349.1,410.9 L349.7,411.2 L350.0,411.5 L350.3,412.2 L350.3,412.7 L350.0,413.5 L349.7,413.9 L349.1,414.5 L348.7,414.8 L348.2,415.1 L347.6,415.4 L346.9,415.7 L346.1,415.9 L345.5,416.1 L344.6,416.2 L344.0,416.3 L344.0,416.3Z" stroke="rgb(90,90,90)" stroke-width="0.6" fill="#000" fill-opacity="0.05"/>
<path d="M343.4,416.0 L342.5,416.1 L341.6,416.1 L340.7,416.1 L339.9,416.0 L339.2,415.9 L338.6,415.7 L337.9,415.4 L337.4,415.1 L336.8,414.5 L336.5,414.1 L336.3,413.3 L336.4,412.4 L336.7,411.8 L337.1,411.4 L337.7,410.9 L338.3,410.6 L338.9,410.4 L339.5,410.2 L340.4,410.1 L341.1,410.0 L341.9,410.0 L342.7,410.0 L343.4,410.1 L344.3,410.2 L345.2,410.3 L345.8,410.4 L346.6,410.6 L347.3,410.8 L347.9,411.0 L348.5,411.3 L349.1,411.8 L349.4,412.4 L349.4,412.8 L349.1,413.6 L348.8,414.0 L348.2,414.5 L347.8,414.8 L347.2,415.1 L346.4,415.4 L345.8,415.6 L345.2,415.7 L344.3,415.9 L343.4,416.0 L343.4,416.0Z" stroke="rgb(85,85,85)" stroke-width="0.6" fill="#000" fill-opacity="0.05"/>
<path d="M342.5,415.7 L341.6,415.7 L340.7,415.7 L340.1,415.6 L339.2,415.5 L338.6,415.2 L338.0,414.9 L337.5,414.5 L337.1,414.0 L336.8,413.3 L337.0,412.4 L337.4,411.8 L337.7,411.5 L338.3,411.1 L338.9,410.8 L339.6,410.6 L340.4,410.4 L341.3,410.4 L342.2,410.3 L343.1,410.4 L344.0,410.5 L344.6,410.6 L345.5,410.8 L346.1,410.9 L346.9,411.2 L347.5,411.5 L348.0,411.8 L348.4,412.4 L348.4,413.3 L348.0,413.9 L347.6,414.2 L347.0,414.6 L346.4,414.9 L345.8,415.1 L344.9,415.4 L344.3,415.5 L343.4,415.6 L342.6,415.7 L342.5,415.7Z" stroke="rgb(81,81,81)" stroke-width="0.6" fill="#000" fill-opacity="0.05"/>
<path d="M344.0,415.1 L343.1,415.3 L342.2,415.3 L341.3,415.3 L340.4,415.3 L339.6,415.1 L338.9,414.9 L338.3,414.5 L337.9,414.2 L337.6,413.6 L337.5,412.7 L337.8,412.1 L338.3,411.7 L338.9,411.3 L339.5,411.1 L340.1,410.9 L341.0,410.8 L341.9,410.7 L342.8,410.8 L343.7,410.9 L344.3,411.0 L345.2,411.2 L345.8,411.4 L346.4,411.6 L347.0,412.0 L347.4,412.4 L347.4,413.3 L347.0,413.9 L346.6,414.2 L346.1,414.5 L345.3,414.8 L344.6,415.0 L344.0,415.1 L344.0,415.1Z" stroke="rgb(76,76,76)" stroke-width="0.6" fill="#000" fill-opacity="0.05"/>
</g>
<clipPath id="cl639"><rect x="376.7" y="378.8" width="59.60000000000002" height="59.80000000000001"/></clipPath>
<g clip-path="url(#cl639)" fill="none" stroke-linejoin="round">
<path d="M410.0,424.1 L409.1,424.2 L408.2,424.3 L407.3,424.3 L406.4,424.4 L405.5,424.4 L404.6,424.3 L403.7,424.2 L403.1,424.1 L402.2,423.8 L401.6,423.6 L401.0,423.4 L400.4,423.1 L399.8,422.8 L399.2,422.4 L398.6,422.0 L398.3,421.7 L397.7,421.2 L397.4,420.8 L396.8,420.2 L396.5,419.8 L396.2,419.3 L395.8,418.7 L395.5,418.1 L395.2,417.5 L394.9,416.9 L394.7,416.2 L394.4,415.4 L394.3,414.8 L394.1,413.9 L394.1,413.3 L394.0,412.4 L394.0,411.5 L394.0,410.6 L394.1,410.0 L394.3,409.1 L394.4,408.5 L394.7,407.6 L394.9,407.0 L395.1,406.4 L395.4,405.8 L395.7,405.2 L396.1,404.6 L396.5,404.0 L396.8,403.6 L397.2,403.1 L397.7,402.6 L398.0,402.2 L398.6,401.6 L399.0,401.3 L399.5,400.8 L400.0,400.4 L400.4,400.1 L401.0,399.7 L401.6,399.3 L402.2,398.9 L402.7,398.6 L403.3,398.3 L404.0,398.0 L404.6,397.7 L405.2,397.5 L405.8,397.3 L406.7,397.1 L407.3,397.0 L408.2,396.8 L408.8,396.8 L409.7,396.7 L410.6,396.7 L411.5,396.8 L412.1,396.9 L413.0,397.0 L413.6,397.2 L414.4,397.4 L415.1,397.6 L415.7,397.9 L416.3,398.2 L416.9,398.5 L417.4,398.9 L417.9,399.2 L418.4,399.6 L418.9,400.1 L419.3,400.5 L419.8,401.0 L420.2,401.4 L420.6,401.9 L421.1,402.4 L421.5,402.8 L422.0,403.3 L422.3,403.7 L422.9,404.3 L423.2,404.7 L423.7,405.2 L424.1,405.8 L424.4,406.2 L424.7,406.7 L425.1,407.3 L425.3,407.9 L425.6,408.5 L425.9,409.4 L426.1,410.0 L426.2,410.8 L426.3,411.5 L426.3,412.4 L426.3,413.3 L426.2,413.9 L426.0,414.8 L425.9,415.4 L425.6,416.1 L425.3,416.8 L425.0,417.4 L424.7,417.9 L424.3,418.4 L423.8,419.0 L423.5,419.4 L422.9,419.9 L422.6,420.2 L422.0,420.6 L421.4,421.0 L420.8,421.3 L420.2,421.6 L419.6,421.8 L419.0,422.1 L418.3,422.3 L417.5,422.5 L416.9,422.7 L416.1,422.9 L415.4,423.1 L414.8,423.2 L413.9,423.4 L413.3,423.6 L412.4,423.7 L411.8,423.8 L410.9,424.0 L410.1,424.1 L410.0,424.1Z" stroke="rgb(132,132,132)" stroke-width="0.6" fill="#000" fill-opacity="0.05"/>
<path d="M406.7,422.6 L405.8,422.6 L405.2,422.6 L404.3,422.5 L403.4,422.3 L402.8,422.2 L402.2,422.0 L401.5,421.7 L400.9,421.4 L400.3,421.1 L399.8,420.7 L399.2,420.2 L398.8,419.9 L398.3,419.3 L398.0,419.0 L397.6,418.4 L397.2,417.8 L396.9,417.2 L396.6,416.6 L396.3,416.0 L396.1,415.4 L395.9,414.5 L395.8,413.9 L395.7,413.0 L395.6,412.1 L395.7,411.2 L395.8,410.3 L395.9,409.5 L396.1,408.8 L396.3,408.2 L396.5,407.6 L396.8,406.9 L397.1,406.4 L397.4,405.8 L397.8,405.2 L398.3,404.6 L398.6,404.2 L399.1,403.7 L399.5,403.2 L400.0,402.8 L400.4,402.4 L401.0,401.9 L401.3,401.6 L401.9,401.2 L402.5,400.7 L403.0,400.4 L403.4,400.1 L404.0,399.8 L404.6,399.5 L405.2,399.2 L405.9,398.9 L406.7,398.6 L407.3,398.5 L408.1,398.3 L408.8,398.2 L409.7,398.1 L410.6,398.1 L411.5,398.2 L412.1,398.3 L413.0,398.5 L413.6,398.7 L414.2,398.9 L414.8,399.2 L415.4,399.5 L416.0,399.9 L416.6,400.4 L417.0,400.7 L417.5,401.2 L417.9,401.6 L418.4,402.2 L418.7,402.6 L419.2,403.1 L419.6,403.6 L420.0,404.0 L420.5,404.5 L420.9,404.9 L421.4,405.4 L421.8,405.8 L422.3,406.4 L422.6,406.8 L423.0,407.3 L423.4,407.9 L423.7,408.5 L423.9,409.1 L424.2,409.7 L424.4,410.6 L424.5,411.2 L424.6,412.1 L424.6,413.0 L424.4,413.9 L424.3,414.5 L424.1,415.1 L423.8,415.8 L423.5,416.4 L423.2,416.9 L422.7,417.5 L422.3,418.0 L421.8,418.4 L421.4,418.8 L420.8,419.2 L420.2,419.5 L419.6,419.8 L419.0,420.1 L418.4,420.3 L417.7,420.5 L416.9,420.7 L416.3,420.9 L415.6,421.1 L414.8,421.3 L414.2,421.5 L413.3,421.7 L412.7,421.8 L411.8,422.0 L411.2,422.1 L410.3,422.3 L409.7,422.3 L408.8,422.5 L407.9,422.5 L407.0,422.6 L406.7,422.6Z" stroke="rgb(127,127,127)" stroke-width="0.6" fill="#000" fill-opacity="0.05"/>
<path d="M407.0,421.4 L406.1,421.4 L405.3,421.4 L404.6,421.3 L403.7,421.2 L403.1,421.0 L402.4,420.8 L401.7,420.5 L401.1,420.2 L400.7,419.9 L400.1,419.5 L399.6,419.0 L399.2,418.6 L398.7,418.1 L398.3,417.5 L398.0,417.0 L397.7,416.4 L397.4,415.7 L397.2,415.1 L397.0,414.5 L396.9,413.6 L396.8,413.0 L396.7,412.1 L396.8,411.2 L396.8,410.6 L397.0,409.7 L397.2,409.1 L397.4,408.4 L397.7,407.7 L398.0,407.1 L398.3,406.6 L398.6,406.1 L399.1,405.5 L399.5,405.0 L399.8,404.6 L400.4,404.0 L400.7,403.7 L401.3,403.2 L401.8,402.8 L402.2,402.5 L402.8,402.0 L403.3,401.6 L403.8,401.3 L404.3,400.9 L404.9,400.6 L405.5,400.3 L406.1,400.0 L406.7,399.8 L407.5,399.5 L408.2,399.3 L409.1,399.2 L409.7,399.2 L410.6,399.2 L411.2,399.2 L412.1,399.4 L412.7,399.5 L413.4,399.8 L414.1,400.1 L414.6,400.4 L415.1,400.7 L415.7,401.2 L416.1,401.6 L416.6,402.2 L416.9,402.5 L417.4,403.1 L417.8,403.6 L418.1,404.0 L418.7,404.6 L419.0,404.9 L419.6,405.5 L419.9,405.8 L420.5,406.4 L420.8,406.7 L421.4,407.3 L421.7,407.7 L422.0,408.2 L422.4,408.8 L422.7,409.4 L422.9,410.0 L423.2,410.9 L423.3,411.5 L423.3,412.4 L423.2,413.3 L423.1,413.9 L422.9,414.6 L422.6,415.3 L422.3,415.9 L422.0,416.3 L421.5,416.9 L421.1,417.3 L420.5,417.8 L420.0,418.1 L419.5,418.4 L418.8,418.7 L418.1,419.0 L417.5,419.2 L416.9,419.4 L416.1,419.6 L415.4,419.8 L414.8,420.0 L414.0,420.2 L413.3,420.4 L412.7,420.5 L411.8,420.7 L411.2,420.9 L410.3,421.0 L409.7,421.1 L408.8,421.3 L407.9,421.4 L407.2,421.4 L407.0,421.4Z" stroke="rgb(123,123,123)" stroke-width="0.6" fill="#000" fill-opacity="0.05"/>
<path d="M407.0,420.5 L406.1,420.5 L405.5,420.5 L404.6,420.4 L403.7,420.2 L403.1,420.1 L402.5,419.9 L401.9,419.6 L401.3,419.2 L400.7,418.8 L400.2,418.4 L399.8,418.0 L399.4,417.5 L399.0,416.9 L398.6,416.3 L398.3,415.7 L398.1,415.1 L397.9,414.5 L397.7,413.6 L397.6,413.0 L397.6,412.1 L397.6,411.2 L397.7,410.6 L397.9,409.7 L398.1,409.1 L398.3,408.5 L398.6,407.9 L398.9,407.3 L399.3,406.7 L399.7,406.1 L400.1,405.7 L400.5,405.2 L401.0,404.7 L401.5,404.3 L401.9,403.9 L402.5,403.4 L402.9,403.1 L403.4,402.7 L404.0,402.3 L404.6,401.9 L405.0,401.6 L405.5,401.3 L406.1,401.0 L406.8,400.7 L407.6,400.4 L408.2,400.2 L409.0,400.1 L409.7,400.0 L410.6,400.0 L411.2,400.1 L412.1,400.3 L412.7,400.5 L413.3,400.8 L413.9,401.1 L414.5,401.5 L414.9,401.9 L415.4,402.4 L415.7,402.8 L416.2,403.4 L416.6,403.9 L416.9,404.3 L417.4,404.9 L417.8,405.3 L418.3,405.8 L418.7,406.2 L419.3,406.7 L419.6,407.0 L420.2,407.6 L420.5,407.9 L420.9,408.5 L421.3,409.1 L421.7,409.7 L421.9,410.3 L422.1,410.9 L422.2,411.8 L422.2,412.7 L422.1,413.6 L421.9,414.2 L421.7,414.8 L421.3,415.4 L420.8,416.0 L420.5,416.3 L419.9,416.8 L419.4,417.2 L418.8,417.5 L418.2,417.8 L417.5,418.1 L416.9,418.3 L416.3,418.5 L415.6,418.7 L414.8,418.9 L414.2,419.1 L413.6,419.3 L412.7,419.5 L412.1,419.7 L411.2,419.9 L410.6,420.0 L409.7,420.2 L409.1,420.3 L408.2,420.4 L407.3,420.5 L407.0,420.5Z" stroke="rgb(118,118,118)" stroke-width="0.6" fill="#000" fill-opacity="0.05"/>
<path d="M408.5,419.6 L407.6,419.7 L406.7,419.8 L405.8,419.8 L404.9,419.7 L404.3,419.6 L403.4,419.4 L402.8,419.2 L402.2,418.9 L401.6,418.5 L401.0,418.1 L400.7,417.8 L400.1,417.2 L399.8,416.8 L399.5,416.3 L399.1,415.7 L398.9,415.1 L398.6,414.3 L398.5,413.6 L398.3,412.7 L398.3,411.8 L398.4,410.9 L398.6,410.0 L398.8,409.4 L399.0,408.8 L399.3,408.2 L399.6,407.6 L400.0,407.0 L400.4,406.5 L400.7,406.1 L401.3,405.5 L401.6,405.2 L402.2,404.7 L402.7,404.3 L403.1,404.0 L403.7,403.5 L404.3,403.1 L404.8,402.8 L405.2,402.5 L405.8,402.1 L406.4,401.8 L407.0,401.5 L407.6,401.3 L408.5,401.0 L409.1,400.9 L410.0,400.8 L410.9,400.9 L411.5,401.0 L412.4,401.3 L413.0,401.6 L413.4,401.9 L413.9,402.3 L414.4,402.8 L414.8,403.2 L415.2,403.7 L415.6,404.3 L416.0,404.8 L416.4,405.2 L416.9,405.8 L417.2,406.1 L417.8,406.6 L418.2,407.0 L418.7,407.5 L419.2,407.9 L419.6,408.4 L420.0,408.8 L420.4,409.4 L420.7,410.0 L421.0,410.6 L421.1,411.2 L421.3,412.1 L421.2,413.0 L421.1,413.6 L420.8,414.2 L420.5,414.8 L420.0,415.4 L419.6,415.8 L419.0,416.3 L418.4,416.6 L417.8,416.9 L417.2,417.2 L416.6,417.4 L416.0,417.6 L415.4,417.8 L414.6,418.1 L413.9,418.3 L413.3,418.5 L412.7,418.7 L411.8,418.9 L411.2,419.1 L410.3,419.3 L409.7,419.4 L408.8,419.6 L408.5,419.6Z" stroke="rgb(113,113,113)" stroke-width="0.6" fill="#000" fill-opacity="0.05"/>
<path d="M407.9,419.0 L407.0,419.1 L406.1,419.1 L405.2,419.0 L404.6,419.0 L403.7,418.7 L403.1,418.5 L402.5,418.3 L401.9,417.9 L401.4,417.5 L401.0,417.2 L400.5,416.6 L400.1,416.1 L399.8,415.6 L399.5,414.9 L399.3,414.2 L399.1,413.6 L399.0,412.7 L399.0,411.8 L399.0,410.9 L399.2,410.2 L399.4,409.4 L399.7,408.8 L400.0,408.2 L400.4,407.6 L400.7,407.2 L401.1,406.7 L401.6,406.2 L402.0,405.8 L402.5,405.4 L403.1,404.9 L403.5,404.6 L404.0,404.3 L404.6,403.8 L405.2,403.4 L405.7,403.1 L406.3,402.8 L406.8,402.5 L407.5,402.2 L408.2,401.9 L408.8,401.8 L409.7,401.7 L410.6,401.7 L411.4,401.9 L412.1,402.2 L412.7,402.5 L413.1,402.8 L413.6,403.3 L414.0,403.7 L414.4,404.3 L414.8,404.7 L415.2,405.2 L415.7,405.8 L416.0,406.1 L416.6,406.7 L416.9,407.0 L417.5,407.6 L417.9,407.9 L418.4,408.4 L418.8,408.8 L419.3,409.4 L419.6,409.9 L419.9,410.5 L420.1,411.2 L420.2,411.8 L420.2,412.7 L420.1,413.3 L419.8,413.9 L419.5,414.5 L419.0,415.0 L418.6,415.4 L418.1,415.7 L417.5,416.1 L416.9,416.4 L416.3,416.6 L415.6,416.9 L414.8,417.2 L414.2,417.4 L413.6,417.6 L413.0,417.8 L412.2,418.1 L411.5,418.3 L410.9,418.5 L410.0,418.7 L409.4,418.8 L408.5,418.9 L407.9,419.0 L407.9,419.0Z" stroke="rgb(109,109,109)" stroke-width="0.6" fill="#000" fill-opacity="0.05"/>
<path d="M407.6,418.4 L406.7,418.5 L405.8,418.5 L405.1,418.4 L404.3,418.3 L403.7,418.1 L403.0,417.8 L402.4,417.5 L401.9,417.1 L401.3,416.6 L401.0,416.3 L400.6,415.7 L400.2,415.1 L400.0,414.5 L399.8,413.9 L399.6,413.0 L399.5,412.1 L399.6,411.2 L399.8,410.3 L400.0,409.7 L400.2,409.1 L400.5,408.5 L400.9,407.9 L401.3,407.4 L401.7,407.0 L402.2,406.5 L402.6,406.1 L403.1,405.7 L403.7,405.3 L404.3,404.9 L404.7,404.6 L405.2,404.3 L405.8,404.0 L406.4,403.6 L407.0,403.3 L407.6,403.0 L408.3,402.8 L409.1,402.6 L410.0,402.6 L410.9,402.7 L411.5,402.9 L412.1,403.3 L412.6,403.7 L413.0,404.0 L413.5,404.6 L413.9,405.1 L414.3,405.5 L414.8,406.1 L415.1,406.4 L415.7,407.0 L416.0,407.3 L416.6,407.9 L417.0,408.2 L417.5,408.7 L417.8,409.1 L418.3,409.7 L418.7,410.3 L419.0,410.9 L419.1,411.5 L419.2,412.4 L419.0,413.2 L418.7,413.8 L418.4,414.2 L417.8,414.8 L417.3,415.1 L416.9,415.4 L416.3,415.7 L415.7,416.0 L415.0,416.3 L414.3,416.6 L413.6,416.9 L413.0,417.1 L412.4,417.3 L411.8,417.5 L410.9,417.8 L410.3,417.9 L409.6,418.1 L408.8,418.3 L407.9,418.4 L407.6,418.4Z" stroke="rgb(104,104,104)" stroke-width="0.6" fill="#000" fill-opacity="0.05"/>
<path d="M407.9,417.8 L407.0,417.9 L406.1,417.9 L405.2,417.8 L404.6,417.7 L403.8,417.5 L403.1,417.2 L402.6,416.9 L402.2,416.6 L401.6,416.1 L401.3,415.7 L400.9,415.1 L400.6,414.5 L400.4,413.9 L400.2,413.0 L400.1,412.1 L400.2,411.2 L400.4,410.3 L400.6,409.7 L400.8,409.1 L401.2,408.5 L401.6,407.9 L401.9,407.6 L402.5,407.0 L402.8,406.7 L403.4,406.2 L404.0,405.8 L404.5,405.5 L405.0,405.2 L405.6,404.9 L406.2,404.6 L406.8,404.3 L407.5,404.0 L408.2,403.8 L408.8,403.6 L409.7,403.6 L410.6,403.7 L411.2,403.9 L411.8,404.3 L412.2,404.6 L412.7,405.1 L413.1,405.5 L413.6,406.0 L414.0,406.4 L414.5,406.9 L414.9,407.3 L415.4,407.8 L415.8,408.2 L416.3,408.7 L416.6,409.1 L417.1,409.7 L417.5,410.2 L417.8,410.8 L418.0,411.5 L418.0,412.4 L417.8,413.1 L417.5,413.6 L416.9,414.2 L416.6,414.5 L416.0,414.9 L415.4,415.2 L414.8,415.6 L414.2,415.9 L413.6,416.1 L413.0,416.4 L412.4,416.6 L411.7,416.9 L410.9,417.2 L410.3,417.3 L409.6,417.5 L408.8,417.7 L407.9,417.8 L407.9,417.8Z" stroke="rgb(99,99,99)" stroke-width="0.6" fill="#000" fill-opacity="0.05"/>
<path d="M408.2,417.2 L407.3,417.3 L406.4,417.4 L405.5,417.3 L404.9,417.2 L404.0,417.0 L403.4,416.7 L402.8,416.3 L402.4,416.0 L401.9,415.5 L401.6,415.1 L401.2,414.5 L401.0,413.9 L400.7,413.0 L400.7,412.4 L400.7,411.5 L400.8,410.9 L401.0,410.1 L401.3,409.4 L401.6,408.9 L401.9,408.5 L402.4,407.9 L402.8,407.5 L403.4,407.0 L403.8,406.7 L404.3,406.3 L404.9,406.0 L405.5,405.7 L406.1,405.4 L406.7,405.2 L407.4,404.9 L408.2,404.7 L408.8,404.6 L409.7,404.6 L410.3,404.7 L410.9,404.9 L411.5,405.3 L412.1,405.7 L412.5,406.1 L413.0,406.5 L413.5,407.0 L413.9,407.4 L414.4,407.9 L414.8,408.3 L415.3,408.8 L415.7,409.3 L416.0,409.7 L416.4,410.3 L416.6,410.9 L416.8,411.8 L416.6,412.7 L416.3,413.3 L416.0,413.7 L415.4,414.2 L415.0,414.5 L414.5,414.8 L413.9,415.2 L413.3,415.5 L412.7,415.8 L412.1,416.1 L411.5,416.3 L410.7,416.6 L410.0,416.8 L409.4,417.0 L408.5,417.2 L408.2,417.2Z" stroke="rgb(95,95,95)" stroke-width="0.6" fill="#000" fill-opacity="0.05"/>
<path d="M408.5,416.6 L407.6,416.7 L406.7,416.8 L405.8,416.8 L404.9,416.6 L404.3,416.5 L403.7,416.2 L403.1,415.9 L402.6,415.4 L402.2,415.0 L401.8,414.5 L401.6,413.9 L401.3,413.1 L401.2,412.4 L401.2,411.5 L401.3,410.9 L401.6,410.1 L401.9,409.4 L402.2,409.0 L402.6,408.5 L403.1,407.9 L403.5,407.6 L404.0,407.2 L404.6,406.8 L405.2,406.5 L405.8,406.2 L406.4,406.0 L407.0,405.8 L407.9,405.6 L408.8,405.5 L409.7,405.6 L410.5,405.8 L411.1,406.1 L411.6,406.4 L412.1,406.8 L412.7,407.3 L413.1,407.6 L413.6,408.1 L413.9,408.5 L414.5,409.1 L414.8,409.6 L415.1,410.0 L415.4,410.6 L415.6,411.5 L415.5,412.4 L415.2,413.0 L414.8,413.5 L414.4,413.9 L413.9,414.3 L413.3,414.7 L412.7,415.1 L412.1,415.4 L411.5,415.7 L410.9,415.9 L410.3,416.1 L409.7,416.3 L408.8,416.5 L408.5,416.6Z" stroke="rgb(90,90,90)" stroke-width="0.6" fill="#000" fill-opacity="0.05"/>
<path d="M408.5,416.1 L407.6,416.2 L406.7,416.3 L405.8,416.2 L404.9,416.1 L404.3,415.9 L403.7,415.6 L403.1,415.1 L402.8,414.8 L402.3,414.2 L402.0,413.6 L401.9,413.0 L401.8,412.1 L401.8,411.2 L402.0,410.6 L402.2,410.0 L402.6,409.4 L403.0,408.8 L403.4,408.4 L404.0,407.9 L404.5,407.6 L405.0,407.3 L405.6,407.0 L406.4,406.7 L407.0,406.5 L407.6,406.4 L408.5,406.3 L409.4,406.4 L410.0,406.5 L410.6,406.8 L411.2,407.1 L411.8,407.5 L412.3,407.9 L412.7,408.3 L413.2,408.8 L413.6,409.3 L413.9,409.7 L414.2,410.3 L414.5,411.2 L414.4,412.1 L414.2,412.7 L413.8,413.3 L413.3,413.8 L412.8,414.2 L412.4,414.5 L411.8,414.9 L411.2,415.2 L410.6,415.4 L409.8,415.7 L409.1,415.9 L408.5,416.1 L408.5,416.1Z" stroke="rgb(85,85,85)" stroke-width="0.6" fill="#000" fill-opacity="0.05"/>
<path d="M406.7,415.7 L406.1,415.7 L405.2,415.5 L404.6,415.3 L404.0,415.0 L403.4,414.6 L403.1,414.2 L402.7,413.6 L402.5,413.0 L402.3,412.1 L402.4,411.2 L402.6,410.6 L402.9,410.0 L403.3,409.4 L403.7,408.9 L404.2,408.5 L404.6,408.2 L405.2,407.9 L405.8,407.6 L406.6,407.3 L407.3,407.2 L408.2,407.1 L409.1,407.1 L409.8,407.3 L410.5,407.6 L411.0,407.9 L411.5,408.2 L412.1,408.8 L412.4,409.1 L412.9,409.7 L413.2,410.3 L413.4,410.9 L413.4,411.8 L413.3,412.4 L412.9,413.0 L412.4,413.6 L412.0,413.9 L411.5,414.3 L410.9,414.6 L410.3,414.9 L409.7,415.1 L408.8,415.4 L408.2,415.5 L407.3,415.7 L406.7,415.7 L406.7,415.7Z" stroke="rgb(81,81,81)" stroke-width="0.6" fill="#000" fill-opacity="0.05"/>
<path d="M407.0,415.1 L406.4,415.1 L405.5,415.0 L404.9,414.8 L404.3,414.5 L403.7,413.9 L403.4,413.5 L403.1,412.9 L403.0,412.1 L403.1,411.2 L403.3,410.6 L403.6,410.0 L404.0,409.5 L404.4,409.1 L404.9,408.7 L405.5,408.4 L406.1,408.1 L407.0,407.9 L407.6,407.8 L408.5,407.8 L409.1,407.9 L410.0,408.2 L410.5,408.5 L411.0,408.8 L411.5,409.3 L411.9,409.7 L412.2,410.3 L412.4,410.9 L412.4,411.8 L412.2,412.4 L411.8,413.0 L411.5,413.3 L410.9,413.8 L410.3,414.2 L409.7,414.5 L409.1,414.7 L408.5,414.9 L407.6,415.0 L407.0,415.1 L407.0,415.1Z" stroke="rgb(76,76,76)" stroke-width="0.6" fill="#000" fill-opacity="0.05"/>
</g>
<clipPath id="cl655"><rect x="443.4" y="378.8" width="60.400000000000034" height="59.80000000000001"/></clipPath>
<g clip-path="url(#cl655)" fill="none" stroke-linejoin="round">
<path d="M504.0,405.9 L503.2,406.1 L502.5,406.1 L501.9,406.0 L501.2,405.8 L500.7,405.5 L500.1,405.1 L499.5,404.8 L498.8,404.9 L498.6,405.5 L498.5,406.4 L498.3,407.3 L498.3,407.9 L498.2,408.8 L498.1,409.7 L498.0,410.3 L497.9,411.2 L497.7,412.1 L497.6,412.7 L497.4,413.4 L497.1,414.2 L496.9,414.8 L496.6,415.4 L496.2,416.0 L495.9,416.4 L495.5,416.9 L495.0,417.5 L494.7,417.8 L494.1,418.3 L493.5,418.7 L493.0,419.0 L492.5,419.3 L491.9,419.6 L491.1,419.9 L490.5,420.1 L489.9,420.3 L489.1,420.5 L488.4,420.7 L487.8,420.8 L486.9,421.0 L486.3,421.1 L485.4,421.3 L484.8,421.4 L483.9,421.6 L483.1,421.7 L482.4,421.8 L481.5,422.0 L480.9,422.0 L480.0,422.1 L479.1,422.2 L478.3,422.3 L477.6,422.3 L476.7,422.4 L475.8,422.4 L474.9,422.4 L474.0,422.4 L473.4,422.3 L472.5,422.2 L471.6,422.0 L471.0,421.9 L470.4,421.7 L469.6,421.4 L468.9,421.1 L468.4,420.8 L467.8,420.5 L467.4,420.2 L466.8,419.8 L466.2,419.3 L465.9,419.0 L465.3,418.4 L465.0,418.0 L464.6,417.5 L464.2,416.9 L463.8,416.3 L463.5,415.7 L463.3,415.1 L463.1,414.5 L462.9,413.9 L462.7,413.0 L462.6,412.1 L462.6,411.5 L462.6,410.6 L462.6,410.0 L462.8,409.1 L462.9,408.5 L463.2,407.6 L463.4,407.0 L463.7,406.4 L464.0,405.8 L464.3,405.2 L464.7,404.6 L465.0,404.2 L465.4,403.7 L465.9,403.2 L466.2,402.8 L466.8,402.3 L467.2,401.9 L467.7,401.5 L468.3,401.1 L468.9,400.7 L469.4,400.4 L470.0,400.1 L470.6,399.8 L471.2,399.5 L471.9,399.2 L472.5,399.0 L473.1,398.7 L473.7,398.6 L474.6,398.3 L475.2,398.1 L475.8,398.0 L476.7,397.8 L477.3,397.7 L478.2,397.5 L478.8,397.4 L479.7,397.2 L480.6,397.1 L481.2,397.0 L482.1,396.9 L483.0,396.9 L483.9,396.8 L484.5,396.8 L485.4,396.7 L486.3,396.8 L487.1,396.8 L487.8,396.9 L488.7,397.0 L489.5,397.1 L490.2,397.3 L490.8,397.4 L491.7,397.7 L492.3,397.9 L492.9,398.2 L493.5,398.5 L494.1,398.8 L494.7,399.2 L495.1,399.5 L495.6,399.9 L496.2,400.4 L496.5,400.7 L497.1,401.3 L497.6,401.6 L498.1,401.6 L498.4,401.0 L498.5,400.1 L498.6,399.5 L498.7,398.6 L498.9,397.7 L499.0,397.1 L499.2,396.4 L499.4,395.6 L499.7,395.0 L499.9,394.4 L500.3,393.8 L500.7,393.2 L501.0,392.9 L501.6,392.4 L502.2,392.1 L503.1,392.0 L504.0,392.2 L504.0,392.2" stroke="rgb(132,132,132)" stroke-width="0.6" fill="#000" fill-opacity="0.05"/>
<path d="M504.0,403.6 L503.4,403.9 L502.5,403.9 L501.9,403.7 L501.3,403.2 L501.0,402.8 L500.7,402.2 L500.4,401.5 L500.2,400.7 L500.1,399.8 L500.1,399.2 L500.1,398.6 L500.2,397.7 L500.4,397.0 L500.7,396.2 L501.0,395.6 L501.3,395.1 L501.7,394.7 L502.2,394.3 L503.1,394.1 L503.9,394.4 L504.0,394.4 M479.4,420.5 L478.5,420.6 L477.6,420.7 L476.7,420.7 L475.8,420.7 L474.9,420.7 L474.0,420.7 L473.1,420.5 L472.5,420.4 L471.6,420.2 L471.0,420.0 L470.4,419.8 L469.8,419.5 L469.2,419.2 L468.6,418.9 L468.0,418.4 L467.6,418.1 L467.1,417.7 L466.7,417.2 L466.2,416.6 L465.9,416.2 L465.6,415.7 L465.3,415.1 L465.0,414.4 L464.7,413.6 L464.6,413.0 L464.5,412.1 L464.4,411.2 L464.5,410.3 L464.6,409.4 L464.8,408.8 L465.0,408.0 L465.3,407.3 L465.6,406.7 L465.9,406.2 L466.2,405.7 L466.6,405.2 L467.1,404.6 L467.4,404.2 L467.9,403.7 L468.3,403.4 L468.9,402.9 L469.4,402.5 L469.9,402.2 L470.4,401.9 L471.0,401.5 L471.6,401.2 L472.2,401.0 L472.8,400.7 L473.6,400.4 L474.3,400.2 L474.9,400.0 L475.5,399.8 L476.4,399.6 L477.0,399.4 L477.9,399.2 L478.5,399.1 L479.4,399.0 L480.0,398.9 L480.9,398.7 L481.8,398.6 L482.4,398.5 L483.3,398.4 L484.2,398.4 L485.1,398.3 L486.0,398.3 L486.9,398.4 L487.8,398.5 L488.6,398.6 L489.3,398.7 L489.9,398.9 L490.8,399.2 L491.4,399.4 L492.0,399.7 L492.6,400.0 L493.1,400.4 L493.5,400.7 L494.1,401.2 L494.5,401.6 L495.0,402.2 L495.3,402.7 L495.6,403.3 L495.9,404.0 L496.0,404.6 L496.2,405.5 L496.3,406.1 L496.3,407.0 L496.3,407.9 L496.3,408.8 L496.3,409.7 L496.2,410.6 L496.1,411.2 L496.0,412.1 L495.8,412.7 L495.6,413.4 L495.3,414.1 L495.0,414.7 L494.7,415.1 L494.3,415.7 L493.8,416.2 L493.4,416.6 L492.9,417.0 L492.3,417.4 L491.7,417.8 L491.1,418.0 L490.5,418.3 L489.9,418.5 L489.1,418.7 L488.4,418.9 L487.8,419.0 L486.9,419.2 L486.3,419.3 L485.4,419.5 L484.8,419.6 L483.9,419.8 L483.3,419.9 L482.4,420.1 L481.7,420.2 L480.9,420.3 L480.0,420.4 L479.4,420.5 L479.4,420.5Z" stroke="rgb(127,127,127)" stroke-width="0.6" fill="#000" fill-opacity="0.05"/>
<path d="M504.0,401.5 L503.5,401.9 L502.8,402.1 L502.2,401.8 L501.8,401.3 L501.5,400.7 L501.3,400.0 L501.2,399.2 L501.3,398.3 L501.4,397.7 L501.6,397.1 L502.0,396.5 L502.5,396.1 L503.4,396.1 L504.0,396.5 L504.0,396.5 M480.0,419.3 L479.1,419.4 L478.2,419.5 L477.3,419.6 L476.4,419.6 L475.5,419.6 L474.6,419.5 L473.7,419.5 L472.8,419.3 L472.2,419.2 L471.6,419.0 L470.9,418.7 L470.2,418.4 L469.7,418.1 L469.2,417.8 L468.6,417.3 L468.1,416.9 L467.7,416.5 L467.3,416.0 L466.9,415.4 L466.6,414.8 L466.3,414.2 L466.1,413.6 L465.9,413.0 L465.8,412.1 L465.7,411.2 L465.8,410.3 L465.9,409.5 L466.1,408.8 L466.3,408.2 L466.5,407.6 L466.9,407.0 L467.2,406.4 L467.7,405.8 L468.0,405.4 L468.4,404.9 L468.9,404.5 L469.4,404.0 L469.8,403.7 L470.4,403.3 L471.0,402.9 L471.6,402.6 L472.2,402.3 L472.8,402.0 L473.4,401.7 L474.0,401.5 L474.6,401.3 L475.5,401.0 L476.1,400.8 L476.7,400.7 L477.6,400.5 L478.2,400.3 L479.1,400.1 L479.7,400.0 L480.6,399.9 L481.2,399.8 L482.1,399.7 L483.0,399.6 L483.9,399.5 L484.5,399.5 L485.4,399.5 L486.3,399.5 L486.9,399.5 L487.8,399.6 L488.7,399.8 L489.3,400.0 L489.9,400.2 L490.5,400.4 L491.2,400.7 L491.7,401.0 L492.3,401.4 L492.8,401.9 L493.2,402.3 L493.6,402.8 L494.0,403.4 L494.3,404.0 L494.5,404.6 L494.7,405.2 L494.9,406.1 L495.0,407.0 L495.0,407.6 L495.1,408.5 L495.1,409.4 L495.0,410.3 L494.9,410.9 L494.8,411.8 L494.6,412.4 L494.4,413.1 L494.1,413.8 L493.8,414.3 L493.4,414.8 L492.9,415.4 L492.6,415.7 L492.0,416.1 L491.4,416.5 L490.8,416.8 L490.2,417.1 L489.6,417.3 L489.0,417.5 L488.1,417.7 L487.5,417.9 L486.6,418.1 L486.0,418.2 L485.1,418.4 L484.5,418.5 L483.6,418.7 L483.0,418.8 L482.1,419.0 L481.5,419.1 L480.6,419.2 L480.0,419.3 L480.0,419.3Z" stroke="rgb(123,123,123)" stroke-width="0.6" fill="#000" fill-opacity="0.05"/>
<path d="M477.0,418.7 L476.1,418.7 L475.3,418.7 L474.6,418.7 L473.7,418.5 L473.0,418.4 L472.2,418.2 L471.6,418.0 L471.0,417.7 L470.4,417.4 L469.8,417.0 L469.2,416.6 L468.9,416.3 L468.3,415.7 L468.0,415.3 L467.7,414.8 L467.4,414.2 L467.1,413.5 L466.9,412.7 L466.8,412.1 L466.7,411.2 L466.8,410.3 L466.9,409.7 L467.1,408.8 L467.3,408.2 L467.6,407.6 L468.0,407.0 L468.3,406.5 L468.6,406.1 L469.2,405.5 L469.5,405.2 L470.1,404.7 L470.6,404.3 L471.0,404.0 L471.6,403.6 L472.2,403.3 L472.8,403.0 L473.4,402.7 L474.0,402.4 L474.6,402.2 L475.5,401.9 L476.1,401.7 L476.7,401.6 L477.6,401.3 L478.2,401.2 L479.1,401.0 L479.7,400.9 L480.6,400.8 L481.2,400.7 L482.1,400.6 L483.0,400.5 L483.8,400.4 L484.5,400.4 L485.4,400.4 L486.3,400.4 L486.9,400.4 L487.8,400.6 L488.4,400.7 L489.3,401.0 L489.9,401.2 L490.5,401.5 L491.1,401.9 L491.5,402.2 L492.0,402.6 L492.4,403.1 L492.8,403.7 L493.2,404.3 L493.4,404.9 L493.6,405.5 L493.8,406.4 L493.9,407.0 L494.0,407.9 L494.0,408.8 L494.0,409.7 L494.0,410.6 L493.8,411.5 L493.7,412.1 L493.5,412.7 L493.2,413.3 L492.8,413.9 L492.4,414.5 L492.0,414.9 L491.4,415.3 L490.8,415.7 L490.2,416.0 L489.6,416.3 L489.0,416.5 L488.4,416.7 L487.5,416.9 L486.9,417.0 L486.1,417.2 L485.4,417.4 L484.8,417.5 L483.9,417.7 L483.3,417.8 L482.4,418.0 L481.8,418.1 L480.9,418.3 L480.2,418.4 L479.4,418.5 L478.5,418.6 L477.6,418.7 L477.0,418.7 L477.0,418.7Z" stroke="rgb(118,118,118)" stroke-width="0.6" fill="#000" fill-opacity="0.05"/>
<path d="M479.1,417.8 L478.2,417.9 L477.3,418.0 L476.4,418.0 L475.5,418.0 L474.6,417.9 L473.9,417.8 L473.1,417.6 L472.5,417.5 L471.8,417.2 L471.1,416.9 L470.6,416.6 L470.1,416.3 L469.5,415.7 L469.2,415.4 L468.7,414.8 L468.3,414.2 L468.0,413.6 L467.8,413.0 L467.7,412.4 L467.6,411.5 L467.6,410.6 L467.7,409.8 L467.9,409.1 L468.1,408.5 L468.4,407.9 L468.8,407.3 L469.2,406.7 L469.5,406.3 L470.0,405.8 L470.4,405.4 L471.0,404.9 L471.5,404.6 L471.9,404.3 L472.5,404.0 L473.1,403.6 L473.7,403.4 L474.3,403.1 L475.2,402.8 L475.8,402.6 L476.4,402.4 L477.2,402.2 L477.9,402.0 L478.5,401.9 L479.4,401.7 L480.1,401.6 L480.9,401.5 L481.8,401.3 L482.4,401.3 L483.3,401.2 L484.2,401.1 L485.1,401.1 L486.0,401.2 L486.9,401.3 L487.5,401.4 L488.4,401.6 L489.0,401.8 L489.6,402.1 L490.2,402.4 L490.7,402.8 L491.1,403.1 L491.6,403.7 L492.0,404.3 L492.3,404.8 L492.6,405.5 L492.7,406.1 L492.9,406.8 L493.0,407.6 L493.1,408.5 L493.2,409.4 L493.1,410.3 L493.0,411.2 L492.8,411.8 L492.6,412.5 L492.3,413.1 L491.9,413.6 L491.4,414.2 L491.0,414.5 L490.5,414.9 L489.9,415.2 L489.3,415.5 L488.6,415.7 L487.8,415.9 L487.2,416.1 L486.4,416.3 L485.7,416.5 L485.1,416.6 L484.2,416.8 L483.6,417.0 L482.7,417.2 L482.1,417.3 L481.2,417.5 L480.6,417.6 L479.7,417.7 L479.1,417.8 L479.1,417.8Z" stroke="rgb(113,113,113)" stroke-width="0.6" fill="#000" fill-opacity="0.05"/>
<path d="M478.5,417.2 L477.6,417.3 L476.7,417.3 L475.8,417.3 L474.9,417.3 L474.3,417.2 L473.4,417.0 L472.8,416.8 L472.1,416.6 L471.5,416.3 L471.0,416.0 L470.4,415.5 L469.9,415.1 L469.5,414.6 L469.2,414.2 L468.9,413.6 L468.6,412.9 L468.4,412.1 L468.3,411.2 L468.4,410.3 L468.6,409.4 L468.8,408.8 L469.1,408.2 L469.4,407.6 L469.8,407.1 L470.1,406.7 L470.7,406.1 L471.0,405.8 L471.6,405.3 L472.2,404.9 L472.7,404.6 L473.3,404.3 L473.9,404.0 L474.6,403.7 L475.2,403.5 L475.8,403.3 L476.4,403.1 L477.3,402.8 L477.9,402.7 L478.8,402.5 L479.4,402.4 L480.3,402.2 L480.9,402.1 L481.8,402.0 L482.7,401.9 L483.3,401.9 L484.2,401.8 L485.1,401.9 L485.9,401.9 L486.6,402.0 L487.5,402.2 L488.1,402.3 L488.7,402.6 L489.3,402.9 L489.9,403.3 L490.4,403.7 L490.8,404.2 L491.1,404.6 L491.4,405.2 L491.7,405.8 L492.0,406.7 L492.1,407.3 L492.2,408.2 L492.3,409.0 L492.3,409.7 L492.3,410.3 L492.1,411.2 L491.9,411.8 L491.7,412.4 L491.3,413.0 L490.8,413.6 L490.4,413.9 L489.9,414.2 L489.3,414.6 L488.7,414.8 L487.9,415.1 L487.2,415.3 L486.6,415.5 L485.8,415.7 L485.1,415.9 L484.5,416.0 L483.6,416.3 L483.0,416.4 L482.3,416.6 L481.5,416.8 L480.8,416.9 L480.0,417.0 L479.1,417.2 L478.5,417.2 L478.5,417.2Z" stroke="rgb(109,109,109)" stroke-width="0.6" fill="#000" fill-opacity="0.05"/>
<path d="M478.8,416.6 L477.9,416.7 L477.0,416.7 L476.1,416.7 L475.2,416.7 L474.5,416.6 L473.7,416.4 L473.1,416.3 L472.4,416.0 L471.8,415.7 L471.3,415.4 L470.7,414.9 L470.3,414.5 L469.9,413.9 L469.5,413.3 L469.3,412.7 L469.1,412.1 L469.0,411.2 L469.1,410.3 L469.2,409.7 L469.5,408.9 L469.8,408.3 L470.1,407.8 L470.5,407.3 L471.0,406.7 L471.3,406.4 L471.9,405.9 L472.5,405.5 L472.9,405.2 L473.4,404.9 L474.0,404.6 L474.7,404.3 L475.5,404.0 L476.1,403.8 L476.7,403.6 L477.5,403.4 L478.2,403.2 L478.9,403.1 L479.7,402.9 L480.6,402.8 L481.2,402.7 L482.1,402.6 L483.0,402.6 L483.9,402.5 L484.8,402.5 L485.7,402.6 L486.6,402.7 L487.2,402.9 L487.8,403.1 L488.5,403.4 L489.0,403.7 L489.6,404.2 L490.0,404.6 L490.4,405.2 L490.7,405.8 L491.0,406.4 L491.2,407.0 L491.3,407.9 L491.4,408.5 L491.5,409.4 L491.4,410.3 L491.3,410.9 L491.1,411.6 L490.8,412.2 L490.4,412.7 L489.9,413.2 L489.4,413.6 L488.8,413.9 L488.2,414.2 L487.5,414.4 L486.9,414.6 L486.3,414.8 L485.4,415.1 L484.8,415.3 L484.2,415.5 L483.3,415.7 L482.7,415.9 L482.1,416.0 L481.2,416.2 L480.6,416.3 L479.7,416.5 L478.9,416.6 L478.8,416.6Z" stroke="rgb(104,104,104)" stroke-width="0.6" fill="#000" fill-opacity="0.05"/>
<path d="M479.1,416.0 L478.2,416.1 L477.3,416.2 L476.4,416.2 L475.5,416.1 L474.6,416.0 L474.0,415.9 L473.3,415.7 L472.6,415.4 L472.1,415.1 L471.6,414.8 L471.0,414.3 L470.7,413.9 L470.3,413.3 L470.0,412.7 L469.8,412.0 L469.7,411.2 L469.8,410.3 L469.9,409.7 L470.1,409.1 L470.4,408.5 L470.8,407.9 L471.3,407.3 L471.6,407.0 L472.2,406.4 L472.6,406.1 L473.1,405.8 L473.7,405.4 L474.3,405.1 L474.9,404.8 L475.5,404.6 L476.4,404.3 L477.0,404.1 L477.6,403.9 L478.5,403.7 L479.1,403.6 L480.0,403.5 L480.6,403.4 L481.5,403.3 L482.4,403.2 L483.3,403.2 L484.2,403.2 L485.1,403.2 L486.0,403.4 L486.6,403.5 L487.2,403.7 L487.8,404.0 L488.4,404.3 L489.0,404.9 L489.3,405.2 L489.7,405.8 L490.0,406.4 L490.2,407.0 L490.5,407.9 L490.6,408.5 L490.6,409.4 L490.5,410.3 L490.4,410.9 L490.1,411.5 L489.7,412.1 L489.3,412.6 L488.7,413.0 L488.2,413.3 L487.6,413.6 L486.9,413.9 L486.3,414.1 L485.7,414.3 L485.1,414.5 L484.2,414.8 L483.6,415.0 L483.0,415.2 L482.2,415.4 L481.5,415.6 L480.9,415.7 L480.0,415.9 L479.2,416.0 L479.1,416.0Z" stroke="rgb(99,99,99)" stroke-width="0.6" fill="#000" fill-opacity="0.05"/>
<path d="M479.4,415.4 L478.5,415.6 L477.6,415.6 L476.7,415.6 L475.8,415.6 L474.9,415.5 L474.3,415.4 L473.4,415.1 L472.8,414.8 L472.3,414.5 L471.9,414.2 L471.3,413.6 L471.0,413.2 L470.7,412.6 L470.4,411.8 L470.4,411.2 L470.4,410.5 L470.6,409.7 L470.8,409.1 L471.1,408.5 L471.5,407.9 L471.9,407.5 L472.4,407.0 L472.8,406.7 L473.4,406.2 L474.0,405.9 L474.6,405.6 L475.2,405.3 L475.8,405.1 L476.4,404.8 L477.2,404.6 L477.9,404.4 L478.5,404.3 L479.4,404.1 L480.3,404.0 L480.9,403.9 L481.8,403.9 L482.7,403.8 L483.6,403.8 L484.5,403.9 L485.4,404.0 L486.0,404.1 L486.6,404.3 L487.2,404.6 L487.8,405.0 L488.3,405.5 L488.7,406.0 L489.0,406.5 L489.3,407.2 L489.5,407.9 L489.6,408.5 L489.7,409.4 L489.6,410.0 L489.3,410.9 L489.0,411.5 L488.7,411.8 L488.1,412.4 L487.6,412.7 L487.0,413.0 L486.4,413.3 L485.7,413.6 L485.1,413.8 L484.5,414.1 L483.9,414.3 L483.2,414.5 L482.4,414.8 L481.8,414.9 L481.2,415.1 L480.3,415.3 L479.7,415.4 L479.4,415.4Z" stroke="rgb(95,95,95)" stroke-width="0.6" fill="#000" fill-opacity="0.05"/>
<path d="M477.6,415.1 L476.7,415.1 L476.1,415.1 L475.2,415.0 L474.4,414.8 L473.7,414.6 L473.1,414.3 L472.5,413.9 L472.2,413.6 L471.7,413.0 L471.3,412.4 L471.1,411.8 L471.0,410.9 L471.2,410.0 L471.4,409.4 L471.7,408.8 L472.1,408.2 L472.5,407.7 L472.9,407.3 L473.4,406.9 L474.0,406.5 L474.6,406.2 L475.2,405.9 L475.8,405.6 L476.4,405.4 L477.0,405.2 L477.9,405.0 L478.5,404.8 L479.4,404.7 L480.0,404.6 L480.9,404.5 L481.8,404.4 L482.7,404.4 L483.6,404.5 L484.5,404.6 L485.1,404.7 L485.7,404.9 L486.4,405.2 L486.9,405.5 L487.5,406.1 L487.8,406.4 L488.1,407.0 L488.4,407.6 L488.6,408.5 L488.6,409.4 L488.4,410.3 L488.1,410.9 L487.8,411.3 L487.3,411.8 L486.9,412.1 L486.3,412.5 L485.7,412.8 L485.1,413.1 L484.5,413.4 L483.9,413.6 L483.2,413.9 L482.4,414.2 L481.8,414.4 L481.2,414.5 L480.3,414.8 L479.7,414.9 L478.8,415.0 L477.9,415.1 L477.6,415.1Z" stroke="rgb(90,90,90)" stroke-width="0.6" fill="#000" fill-opacity="0.05"/>
<path d="M478.5,414.5 L477.6,414.6 L476.7,414.6 L475.8,414.5 L475.2,414.4 L474.4,414.2 L473.7,413.9 L473.2,413.6 L472.8,413.3 L472.3,412.7 L472.0,412.1 L471.8,411.5 L471.7,410.6 L471.9,409.9 L472.2,409.1 L472.5,408.7 L472.9,408.2 L473.4,407.7 L473.8,407.3 L474.3,407.0 L474.9,406.6 L475.5,406.3 L476.1,406.1 L476.9,405.8 L477.6,405.6 L478.2,405.4 L479.1,405.3 L479.7,405.2 L480.6,405.1 L481.5,405.1 L482.4,405.1 L483.3,405.1 L483.9,405.2 L484.8,405.5 L485.4,405.7 L486.0,406.1 L486.4,406.4 L486.9,407.0 L487.2,407.6 L487.4,408.2 L487.5,409.1 L487.3,410.0 L487.0,410.6 L486.6,411.1 L486.2,411.5 L485.7,411.9 L485.1,412.3 L484.5,412.6 L483.9,412.9 L483.3,413.2 L482.7,413.5 L482.1,413.7 L481.5,413.9 L480.6,414.1 L480.0,414.3 L479.1,414.4 L478.5,414.5 L478.5,414.5Z" stroke="rgb(85,85,85)" stroke-width="0.6" fill="#000" fill-opacity="0.05"/>
<path d="M478.8,413.9 L477.9,414.0 L477.0,414.0 L476.1,414.0 L475.5,413.9 L474.6,413.6 L474.0,413.3 L473.6,413.0 L473.1,412.5 L472.8,412.1 L472.5,411.2 L472.5,410.6 L472.6,410.0 L472.8,409.4 L473.2,408.8 L473.7,408.2 L474.0,407.9 L474.6,407.5 L475.2,407.1 L475.8,406.8 L476.4,406.5 L477.0,406.3 L477.8,406.1 L478.5,405.9 L479.4,405.8 L480.0,405.7 L480.9,405.7 L481.8,405.7 L482.7,405.8 L483.3,405.9 L484.0,406.1 L484.6,406.4 L485.1,406.7 L485.7,407.3 L486.0,407.8 L486.2,408.5 L486.2,409.4 L486.0,410.0 L485.7,410.6 L485.1,411.2 L484.8,411.5 L484.2,411.9 L483.6,412.3 L483.0,412.7 L482.4,412.9 L481.8,413.2 L481.2,413.4 L480.5,413.6 L479.7,413.8 L479.1,413.9 L478.8,413.9Z" stroke="rgb(81,81,81)" stroke-width="0.6" fill="#000" fill-opacity="0.05"/>
<path d="M479.1,413.3 L478.2,413.4 L477.3,413.5 L476.4,413.4 L475.8,413.3 L474.9,413.0 L474.4,412.7 L474.0,412.4 L473.5,411.8 L473.3,411.2 L473.3,410.3 L473.5,409.7 L473.8,409.1 L474.3,408.5 L474.7,408.2 L475.2,407.8 L475.8,407.4 L476.4,407.2 L477.0,406.9 L477.8,406.7 L478.5,406.5 L479.4,406.4 L480.0,406.3 L480.9,406.3 L481.7,406.4 L482.4,406.5 L483.0,406.7 L483.7,407.0 L484.2,407.4 L484.6,407.9 L484.9,408.5 L484.9,409.4 L484.7,410.0 L484.4,410.6 L483.9,411.1 L483.5,411.5 L483.0,411.8 L482.4,412.2 L481.8,412.5 L481.2,412.8 L480.5,413.0 L479.7,413.2 L479.1,413.3 L479.1,413.3Z" stroke="rgb(76,76,76)" stroke-width="0.6" fill="#000" fill-opacity="0.05"/>
</g>
<rect x="248.10" y="378.80" width="58.50" height="59.80" fill="none" stroke="#8a8a8a" stroke-width="0.8"/>
<line x1="285.80" y1="378.80" x2="285.80" y2="438.60" stroke="#404040" stroke-width="0.85"/>
<line x1="248.10" y1="407.00" x2="306.60" y2="407.00" stroke="#404040" stroke-width="0.85"/>
<text x="252.80" y="392.60" font-size="6.8" font-weight="bold" fill="#222" >WT</text>
<text x="304.40" y="404.00" font-size="6.6" text-anchor="end" font-weight="bold" fill="#222" >2.8%</text>
<text x="304.40" y="433.90" font-size="6.6" text-anchor="end" font-weight="bold" fill="#222" >5.9%</text>
<line x1="244.70" y1="381.80" x2="246.10" y2="381.80" stroke="#555" stroke-width="0.7"/>
<line x1="244.70" y1="386.69" x2="246.10" y2="386.69" stroke="#555" stroke-width="0.7"/>
<line x1="244.70" y1="391.58" x2="246.10" y2="391.58" stroke="#555" stroke-width="0.7"/>
<line x1="244.70" y1="396.47" x2="246.10" y2="396.47" stroke="#555" stroke-width="0.7"/>
<line x1="244.70" y1="401.36" x2="246.10" y2="401.36" stroke="#555" stroke-width="0.7"/>
<line x1="244.70" y1="406.25" x2="246.10" y2="406.25" stroke="#555" stroke-width="0.7"/>
<line x1="244.70" y1="411.15" x2="246.10" y2="411.15" stroke="#555" stroke-width="0.7"/>
<line x1="244.70" y1="416.04" x2="246.10" y2="416.04" stroke="#555" stroke-width="0.7"/>
<line x1="244.70" y1="420.93" x2="246.10" y2="420.93" stroke="#555" stroke-width="0.7"/>
<line x1="244.70" y1="425.82" x2="246.10" y2="425.82" stroke="#555" stroke-width="0.7"/>
<line x1="244.70" y1="430.71" x2="246.10" y2="430.71" stroke="#555" stroke-width="0.7"/>
<line x1="244.70" y1="435.60" x2="246.10" y2="435.60" stroke="#555" stroke-width="0.7"/>
<rect x="310.40" y="378.80" width="59.20" height="59.80" fill="none" stroke="#8a8a8a" stroke-width="0.8"/>
<line x1="348.70" y1="378.80" x2="348.70" y2="438.60" stroke="#404040" stroke-width="0.85"/>
<line x1="310.40" y1="406.10" x2="369.60" y2="406.10" stroke="#404040" stroke-width="0.85"/>
<text x="316.00" y="392.20" font-size="6.8" font-weight="bold" fill="#222" >H</text>
<text x="367.40" y="398.50" font-size="6.6" text-anchor="end" font-weight="bold" fill="#222" >4.5%</text>
<text x="367.40" y="433.90" font-size="6.6" text-anchor="end" font-weight="bold" fill="#222" >13.4%</text>
<line x1="309.00" y1="381.80" x2="310.40" y2="381.80" stroke="#555" stroke-width="0.7"/>
<line x1="309.00" y1="386.69" x2="310.40" y2="386.69" stroke="#555" stroke-width="0.7"/>
<line x1="309.00" y1="391.58" x2="310.40" y2="391.58" stroke="#555" stroke-width="0.7"/>
<line x1="309.00" y1="396.47" x2="310.40" y2="396.47" stroke="#555" stroke-width="0.7"/>
<line x1="309.00" y1="401.36" x2="310.40" y2="401.36" stroke="#555" stroke-width="0.7"/>
<line x1="309.00" y1="406.25" x2="310.40" y2="406.25" stroke="#555" stroke-width="0.7"/>
<line x1="309.00" y1="411.15" x2="310.40" y2="411.15" stroke="#555" stroke-width="0.7"/>
<line x1="309.00" y1="416.04" x2="310.40" y2="416.04" stroke="#555" stroke-width="0.7"/>
<line x1="309.00" y1="420.93" x2="310.40" y2="420.93" stroke="#555" stroke-width="0.7"/>
<line x1="309.00" y1="425.82" x2="310.40" y2="425.82" stroke="#555" stroke-width="0.7"/>
<line x1="309.00" y1="430.71" x2="310.40" y2="430.71" stroke="#555" stroke-width="0.7"/>
<line x1="309.00" y1="435.60" x2="310.40" y2="435.60" stroke="#555" stroke-width="0.7"/>
<rect x="376.70" y="378.80" width="59.60" height="59.80" fill="none" stroke="#8a8a8a" stroke-width="0.8"/>
<line x1="415.50" y1="378.80" x2="415.50" y2="438.60" stroke="#404040" stroke-width="0.85"/>
<line x1="376.70" y1="406.30" x2="436.30" y2="406.30" stroke="#404040" stroke-width="0.85"/>
<text x="381.70" y="392.20" font-size="6.8" font-weight="bold" fill="#222" >J</text>
<text x="434.10" y="395.80" font-size="6.6" text-anchor="end" font-weight="bold" fill="#222" >5.8%</text>
<text x="434.10" y="433.90" font-size="6.6" text-anchor="end" font-weight="bold" fill="#222" >13.7%</text>
<line x1="375.30" y1="381.80" x2="376.70" y2="381.80" stroke="#555" stroke-width="0.7"/>
<line x1="375.30" y1="386.69" x2="376.70" y2="386.69" stroke="#555" stroke-width="0.7"/>
<line x1="375.30" y1="391.58" x2="376.70" y2="391.58" stroke="#555" stroke-width="0.7"/>
<line x1="375.30" y1="396.47" x2="376.70" y2="396.47" stroke="#555" stroke-width="0.7"/>
<line x1="375.30" y1="401.36" x2="376.70" y2="401.36" stroke="#555" stroke-width="0.7"/>
<line x1="375.30" y1="406.25" x2="376.70" y2="406.25" stroke="#555" stroke-width="0.7"/>
<line x1="375.30" y1="411.15" x2="376.70" y2="411.15" stroke="#555" stroke-width="0.7"/>
<line x1="375.30" y1="416.04" x2="376.70" y2="416.04" stroke="#555" stroke-width="0.7"/>
<line x1="375.30" y1="420.93" x2="376.70" y2="420.93" stroke="#555" stroke-width="0.7"/>
<line x1="375.30" y1="425.82" x2="376.70" y2="425.82" stroke="#555" stroke-width="0.7"/>
<line x1="375.30" y1="430.71" x2="376.70" y2="430.71" stroke="#555" stroke-width="0.7"/>
<line x1="375.30" y1="435.60" x2="376.70" y2="435.60" stroke="#555" stroke-width="0.7"/>
<rect x="443.40" y="378.80" width="60.40" height="59.80" fill="none" stroke="#8a8a8a" stroke-width="0.8"/>
<line x1="482.60" y1="378.80" x2="482.60" y2="438.60" stroke="#404040" stroke-width="0.85"/>
<line x1="443.40" y1="406.60" x2="503.80" y2="406.60" stroke="#404040" stroke-width="0.85"/>
<text x="448.00" y="392.30" font-size="6.8" font-weight="bold" fill="#222" >HJ</text>
<text x="501.60" y="390.80" font-size="6.6" text-anchor="end" font-weight="bold" fill="#222" >16.1%</text>
<text x="501.60" y="434.30" font-size="6.6" text-anchor="end" font-weight="bold" fill="#222" >25.1%</text>
<line x1="442.00" y1="381.80" x2="443.40" y2="381.80" stroke="#555" stroke-width="0.7"/>
<line x1="442.00" y1="386.69" x2="443.40" y2="386.69" stroke="#555" stroke-width="0.7"/>
<line x1="442.00" y1="391.58" x2="443.40" y2="391.58" stroke="#555" stroke-width="0.7"/>
<line x1="442.00" y1="396.47" x2="443.40" y2="396.47" stroke="#555" stroke-width="0.7"/>
<line x1="442.00" y1="401.36" x2="443.40" y2="401.36" stroke="#555" stroke-width="0.7"/>
<line x1="442.00" y1="406.25" x2="443.40" y2="406.25" stroke="#555" stroke-width="0.7"/>
<line x1="442.00" y1="411.15" x2="443.40" y2="411.15" stroke="#555" stroke-width="0.7"/>
<line x1="442.00" y1="416.04" x2="443.40" y2="416.04" stroke="#555" stroke-width="0.7"/>
<line x1="442.00" y1="420.93" x2="443.40" y2="420.93" stroke="#555" stroke-width="0.7"/>
<line x1="442.00" y1="425.82" x2="443.40" y2="425.82" stroke="#555" stroke-width="0.7"/>
<line x1="442.00" y1="430.71" x2="443.40" y2="430.71" stroke="#555" stroke-width="0.7"/>
<line x1="442.00" y1="435.60" x2="443.40" y2="435.60" stroke="#555" stroke-width="0.7"/>
<line x1="246.10" y1="376.40" x2="246.10" y2="438.60" stroke="#111" stroke-width="1.1"/>
<path d="M243.9,378.4 L246.1,372.4 L248.29999999999998,378.4 Z" fill="#111" stroke="none" stroke-width="1" />
<line x1="246.10" y1="438.60" x2="508.60" y2="438.60" stroke="#111" stroke-width="1.1"/>
<path d="M506.6,436.40000000000003 L512.6,438.6 L506.6,440.8 Z" fill="#111" stroke="none" stroke-width="1" />
<line x1="250.00" y1="438.60" x2="250.00" y2="440.00" stroke="#555" stroke-width="0.7"/>
<line x1="258.79" y1="438.60" x2="258.79" y2="440.00" stroke="#555" stroke-width="0.7"/>
<line x1="267.59" y1="438.60" x2="267.59" y2="440.00" stroke="#555" stroke-width="0.7"/>
<line x1="276.38" y1="438.60" x2="276.38" y2="440.00" stroke="#555" stroke-width="0.7"/>
<line x1="285.17" y1="438.60" x2="285.17" y2="440.00" stroke="#555" stroke-width="0.7"/>
<line x1="293.97" y1="438.60" x2="293.97" y2="440.00" stroke="#555" stroke-width="0.7"/>
<line x1="302.76" y1="438.60" x2="302.76" y2="440.00" stroke="#555" stroke-width="0.7"/>
<line x1="311.55" y1="438.60" x2="311.55" y2="440.00" stroke="#555" stroke-width="0.7"/>
<line x1="320.34" y1="438.60" x2="320.34" y2="440.00" stroke="#555" stroke-width="0.7"/>
<line x1="329.14" y1="438.60" x2="329.14" y2="440.00" stroke="#555" stroke-width="0.7"/>
<line x1="337.93" y1="438.60" x2="337.93" y2="440.00" stroke="#555" stroke-width="0.7"/>
<line x1="346.72" y1="438.60" x2="346.72" y2="440.00" stroke="#555" stroke-width="0.7"/>
<line x1="355.52" y1="438.60" x2="355.52" y2="440.00" stroke="#555" stroke-width="0.7"/>
<line x1="364.31" y1="438.60" x2="364.31" y2="440.00" stroke="#555" stroke-width="0.7"/>
<line x1="373.10" y1="438.60" x2="373.10" y2="440.00" stroke="#555" stroke-width="0.7"/>
<line x1="381.90" y1="438.60" x2="381.90" y2="440.00" stroke="#555" stroke-width="0.7"/>
<line x1="390.69" y1="438.60" x2="390.69" y2="440.00" stroke="#555" stroke-width="0.7"/>
<line x1="399.48" y1="438.60" x2="399.48" y2="440.00" stroke="#555" stroke-width="0.7"/>
<line x1="408.28" y1="438.60" x2="408.28" y2="440.00" stroke="#555" stroke-width="0.7"/>
<line x1="417.07" y1="438.60" x2="417.07" y2="440.00" stroke="#555" stroke-width="0.7"/>
<line x1="425.86" y1="438.60" x2="425.86" y2="440.00" stroke="#555" stroke-width="0.7"/>
<line x1="434.66" y1="438.60" x2="434.66" y2="440.00" stroke="#555" stroke-width="0.7"/>
<line x1="443.45" y1="438.60" x2="443.45" y2="440.00" stroke="#555" stroke-width="0.7"/>
<line x1="452.24" y1="438.60" x2="452.24" y2="440.00" stroke="#555" stroke-width="0.7"/>
<line x1="461.03" y1="438.60" x2="461.03" y2="440.00" stroke="#555" stroke-width="0.7"/>
<line x1="469.83" y1="438.60" x2="469.83" y2="440.00" stroke="#555" stroke-width="0.7"/>
<line x1="478.62" y1="438.60" x2="478.62" y2="440.00" stroke="#555" stroke-width="0.7"/>
<line x1="487.41" y1="438.60" x2="487.41" y2="440.00" stroke="#555" stroke-width="0.7"/>
<line x1="496.21" y1="438.60" x2="496.21" y2="440.00" stroke="#555" stroke-width="0.7"/>
<line x1="505.00" y1="438.60" x2="505.00" y2="440.00" stroke="#555" stroke-width="0.7"/>
<text x="225.00" y="411.20" font-size="8.4" textLength="16.2" lengthAdjust="spacingAndGlyphs" fill="#222" stroke="#222" stroke-width="0.3" >7AAD</text>
<text x="462.30" y="452.20" font-size="8.4" textLength="28.8" lengthAdjust="spacingAndGlyphs" fill="#222" stroke="#222" stroke-width="0.3" >Annexin V</text>
</g>
<rect x="0.5" y="0.5" width="519" height="610" fill="none" stroke="#000" stroke-width="1"/>
<rect x="1.5" y="1.5" width="517" height="608" fill="none" stroke="#888" stroke-width="1"/>
</svg></div></body></html>
